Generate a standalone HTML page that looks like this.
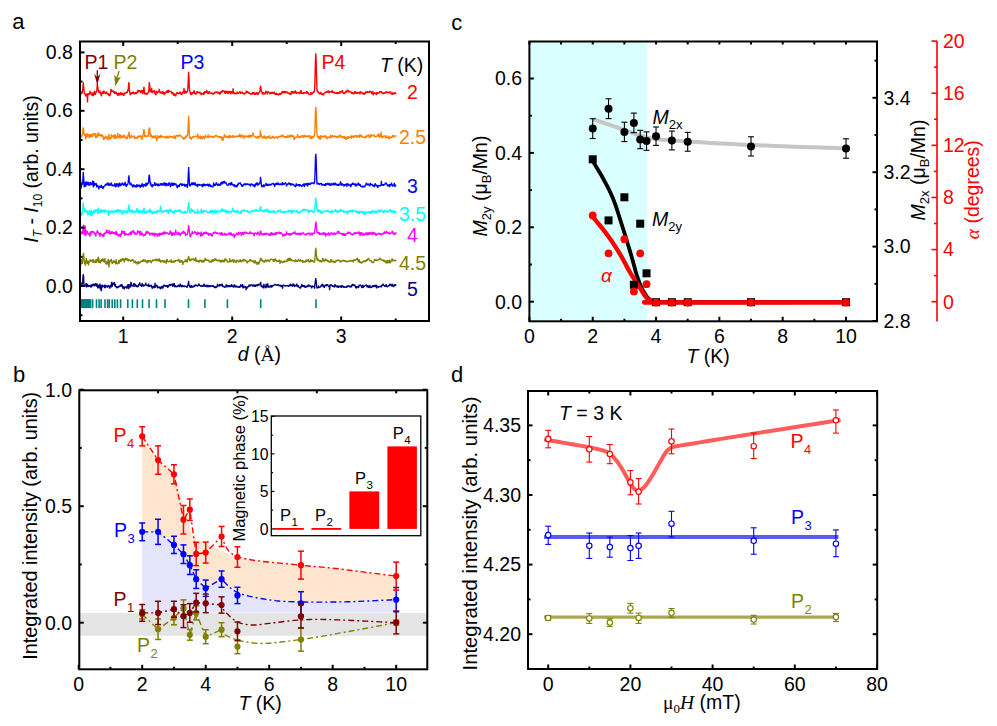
<!DOCTYPE html><html><head><meta charset="utf-8"><style>html,body{margin:0;padding:0;background:#fff;overflow:hidden;width:997px;height:726px;} svg{display:block;} text{font-family:"Liberation Sans", sans-serif;}</style></head><body>
<svg width="997" height="726" viewBox="0 0 997 726">
<rect x="0" y="0" width="997" height="726" fill="#fff"/>
<text x="12.3" y="29" font-size="22" text-anchor="start" fill="#000" >a</text>
<text x="13" y="382" font-size="22" text-anchor="start" fill="#000" >b</text>
<text x="451.3" y="30" font-size="22" text-anchor="start" fill="#000" >c</text>
<text x="451" y="381.5" font-size="22" text-anchor="start" fill="#000" >d</text>
<polyline points="79.6,92.4 79.9,92.0 80.2,92.6 80.5,93.7 80.8,93.3 81.1,94.2 81.4,93.1 81.7,91.3 82.0,93.1 82.3,92.8 82.7,89.5 83.0,86.1 83.3,82.4 83.3,82.2 83.6,85.6 83.9,89.7 84.2,91.5 84.5,94.5 84.8,93.0 85.1,94.7 85.4,94.2 85.7,96.3 86.0,94.6 86.3,96.5 86.6,93.7 86.9,94.0 87.2,94.6 87.5,102.5 87.8,93.6 88.1,93.6 88.5,93.4 88.8,95.2 89.1,93.6 89.4,94.1 89.7,93.7 90.0,90.9 90.3,93.2 90.6,92.7 90.9,92.0 91.2,94.6 91.5,94.4 91.8,93.7 92.1,94.0 92.4,96.1 92.7,93.8 93.0,92.4 93.3,96.3 93.6,92.8 93.9,94.2 94.2,94.4 94.6,90.8 94.9,92.6 95.2,94.9 95.5,93.1 95.8,92.7 96.1,93.1 96.4,91.5 96.7,91.6 97.0,88.3 97.3,83.4 97.5,86.1 97.6,85.7 97.9,87.3 98.2,90.4 98.5,90.5 98.8,92.6 99.1,92.1 99.4,91.2 99.7,90.5 100.0,91.0 100.4,94.1 100.7,93.5 101.0,92.7 101.3,96.3 101.6,94.1 101.9,93.5 102.2,91.5 102.5,92.0 102.8,93.1 103.1,93.4 103.4,93.3 103.7,90.7 104.0,93.1 104.3,92.6 104.6,91.5 104.9,92.2 105.2,92.8 105.5,94.2 105.8,92.9 106.2,93.7 106.5,91.5 106.8,92.3 107.1,93.7 107.4,93.2 107.7,94.7 108.0,93.4 108.3,94.4 108.6,93.3 108.9,95.8 109.2,93.8 109.5,95.8 109.8,95.9 110.1,94.2 110.4,94.4 110.7,91.8 111.0,88.8 111.3,91.9 111.6,91.5 112.0,90.7 112.3,90.7 112.6,91.4 112.9,91.2 113.2,90.9 113.5,91.2 113.8,93.0 114.1,91.5 114.4,92.3 114.7,93.9 115.0,92.5 115.3,93.8 115.6,91.5 115.9,92.4 116.2,92.5 116.5,93.7 116.8,93.1 117.1,95.1 117.4,94.1 117.8,93.3 118.1,96.0 118.4,92.6 118.7,95.3 119.0,92.8 119.3,94.9 119.6,93.4 119.9,94.3 120.2,95.3 120.5,92.5 120.8,92.5 121.1,94.1 121.4,94.2 121.7,94.2 122.0,95.1 122.3,92.9 122.6,94.6 122.9,94.5 123.2,94.9 123.5,94.6 123.9,95.9 124.2,92.5 124.5,93.8 124.8,92.4 125.1,93.5 125.4,93.8 125.7,93.1 126.0,93.1 126.3,92.1 126.6,92.1 126.9,92.0 127.2,92.7 127.5,92.3 127.8,89.5 128.1,91.0 128.4,88.0 128.7,82.6 128.9,82.7 129.0,82.3 129.3,90.1 129.7,92.2 130.0,93.8 130.3,95.1 130.6,92.5 130.9,93.7 131.2,93.1 131.5,94.1 131.8,92.6 132.1,93.1 132.4,92.3 132.7,93.4 133.0,93.7 133.3,91.7 133.6,94.1 133.9,92.9 134.2,93.2 134.5,93.8 134.8,93.8 135.1,92.2 135.5,93.4 135.8,93.8 136.1,93.7 136.4,92.1 136.7,92.3 137.0,92.0 137.3,92.4 137.6,93.2 137.9,90.6 138.2,90.1 138.5,91.7 138.8,91.3 139.1,90.9 139.4,90.8 139.7,90.4 140.0,92.0 140.3,90.4 140.6,93.1 140.9,91.1 141.3,91.7 141.6,91.4 141.9,90.3 142.2,90.3 142.5,93.4 142.8,94.1 143.1,91.2 143.4,92.0 143.7,88.6 143.9,87.7 144.0,86.7 144.3,91.5 144.6,94.4 144.9,92.4 145.2,93.1 145.5,93.9 145.8,93.6 146.1,93.8 146.4,94.5 146.7,92.9 147.0,93.6 147.4,94.5 147.7,92.6 148.0,92.9 148.3,92.1 148.6,92.8 148.9,88.9 149.2,83.6 149.4,82.2 149.5,83.3 149.8,86.4 150.1,91.1 150.4,91.6 150.7,91.5 151.0,89.5 151.3,92.6 151.6,87.9 151.9,91.4 152.2,91.5 152.5,92.8 152.8,92.3 153.2,90.7 153.5,91.7 153.8,91.3 154.1,91.3 154.4,90.1 154.7,91.7 155.0,94.3 155.3,93.3 155.6,94.0 155.9,95.3 156.2,92.5 156.5,90.8 156.8,91.9 157.1,93.0 157.4,93.0 157.7,91.4 158.0,92.3 158.3,92.1 158.6,92.0 159.0,91.6 159.3,88.8 159.6,91.3 159.9,91.9 160.2,93.4 160.5,92.3 160.8,93.4 161.1,91.7 161.4,93.7 161.7,93.0 162.0,92.7 162.3,94.0 162.6,91.0 162.9,91.5 163.2,93.5 163.5,92.6 163.8,92.7 164.1,95.2 164.4,92.6 164.8,92.9 165.1,93.2 165.4,93.6 165.7,92.7 166.0,92.5 166.3,91.4 166.6,92.6 166.9,92.2 167.2,90.0 167.5,91.9 167.8,91.8 168.1,93.0 168.4,90.2 168.7,90.2 169.0,90.8 169.3,91.4 169.6,91.9 169.9,91.5 170.2,91.5 170.5,91.6 170.9,92.1 171.2,91.2 171.5,92.3 171.8,93.1 172.1,93.7 172.4,94.3 172.7,92.1 173.0,93.4 173.3,94.1 173.6,95.0 173.9,95.8 174.2,94.8 174.5,93.4 174.8,94.6 175.1,94.6 175.4,94.3 175.7,96.3 176.0,95.1 176.3,93.4 176.7,93.6 177.0,92.0 177.3,93.5 177.6,92.2 177.9,93.3 178.2,93.7 178.5,93.9 178.8,92.9 179.1,93.2 179.4,94.1 179.7,92.6 180.0,91.5 180.3,93.8 180.6,93.6 180.9,94.0 181.2,93.0 181.5,94.8 181.8,94.5 182.1,92.0 182.5,93.7 182.8,92.5 183.1,91.5 183.4,93.0 183.7,92.6 184.0,88.1 184.3,92.4 184.6,92.8 184.9,93.6 185.2,91.8 185.5,90.6 185.8,91.8 186.1,93.2 186.4,92.5 186.7,92.4 187.0,91.6 187.3,91.9 187.6,90.7 187.9,86.7 188.3,78.7 188.6,71.8 188.6,72.7 188.9,75.8 189.2,85.5 189.5,90.0 189.8,90.7 190.1,92.3 190.4,93.2 190.7,94.5 191.0,92.6 191.3,94.7 191.6,94.6 191.9,92.4 192.2,92.4 192.5,93.2 192.8,93.9 193.1,92.7 193.4,93.0 193.7,91.9 194.1,90.5 194.4,91.9 194.7,93.3 195.0,93.8 195.3,93.0 195.6,93.6 195.9,94.6 196.2,93.1 196.5,93.9 196.8,91.6 197.1,91.7 197.4,91.3 197.7,92.8 198.0,92.1 198.3,92.4 198.6,92.6 198.9,92.3 199.2,93.0 199.5,93.0 199.8,91.7 200.2,93.1 200.5,93.1 200.8,92.3 201.1,95.0 201.4,94.1 201.7,93.3 202.0,93.5 202.3,94.3 202.6,93.4 202.9,93.9 203.2,94.7 203.5,93.9 203.8,92.4 204.1,92.2 204.4,94.5 204.7,91.2 205.0,92.0 205.3,92.0 205.6,92.7 206.0,92.1 206.3,92.8 206.6,89.8 206.9,92.5 207.2,91.2 207.5,93.3 207.8,93.0 208.1,94.2 208.4,93.3 208.7,91.8 209.0,93.2 209.3,91.2 209.6,92.3 209.9,93.2 210.2,93.2 210.5,93.4 210.8,92.8 211.1,93.1 211.4,93.1 211.8,92.7 212.1,93.6 212.4,94.1 212.7,93.2 213.0,93.0 213.3,94.7 213.6,93.3 213.9,93.6 214.2,93.8 214.5,92.5 214.8,93.5 215.1,91.7 215.4,93.1 215.7,91.7 216.0,92.2 216.3,92.6 216.6,91.5 216.9,92.5 217.2,92.1 217.6,92.7 217.9,93.4 218.2,92.5 218.5,92.4 218.8,91.9 219.1,94.2 219.4,93.4 219.7,94.7 220.0,92.3 220.3,93.4 220.6,93.6 220.9,92.0 221.2,90.8 221.5,92.4 221.8,92.4 222.1,91.8 222.4,91.8 222.7,90.2 223.0,91.3 223.3,91.1 223.7,90.5 224.0,91.7 224.3,91.2 224.6,92.4 224.9,92.9 225.2,93.9 225.5,90.6 225.8,92.5 226.1,92.7 226.4,92.6 226.7,92.4 227.0,92.6 227.3,90.9 227.6,93.5 227.9,93.7 228.2,93.0 228.5,93.5 228.8,91.6 229.1,91.0 229.5,92.9 229.8,92.8 230.1,92.2 230.4,91.0 230.7,94.4 231.0,91.8 231.3,93.1 231.6,91.1 231.9,93.0 232.2,92.1 232.5,93.2 232.8,93.5 233.1,88.3 233.4,91.7 233.7,92.6 234.0,93.2 234.3,94.2 234.6,92.7 234.9,93.0 235.3,93.3 235.6,93.5 235.9,94.3 236.2,93.2 236.5,93.3 236.8,92.7 237.1,91.8 237.4,93.6 237.7,93.5 238.0,93.0 238.3,93.6 238.6,93.2 238.9,92.4 239.2,92.9 239.5,91.4 239.8,92.3 240.1,91.8 240.4,92.1 240.7,93.9 241.1,92.6 241.4,92.6 241.7,93.0 242.0,92.0 242.3,92.1 242.6,93.5 242.9,92.6 243.2,93.8 243.5,93.5 243.8,93.5 244.1,94.7 244.4,93.3 244.7,93.2 245.0,93.0 245.3,93.0 245.6,93.1 245.9,93.3 246.2,92.6 246.5,90.7 246.8,92.1 247.2,92.7 247.5,91.5 247.8,91.7 248.1,91.9 248.4,92.6 248.7,92.0 249.0,94.0 249.3,92.4 249.6,93.3 249.9,93.4 250.2,93.3 250.5,94.3 250.8,94.2 251.1,93.2 251.4,93.6 251.7,93.8 252.0,94.6 252.3,93.0 252.6,92.6 253.0,92.4 253.3,92.8 253.6,94.2 253.9,92.1 254.2,92.9 254.5,95.0 254.8,92.9 255.1,94.4 255.4,94.4 255.7,94.3 256.0,92.7 256.3,93.9 256.6,93.8 256.9,92.5 257.2,92.5 257.5,94.0 257.8,94.3 258.1,94.4 258.4,93.7 258.8,92.8 259.1,92.6 259.4,92.8 259.7,91.4 260.0,91.1 260.3,87.5 260.5,86.2 260.6,85.6 260.9,87.8 261.2,90.1 261.5,91.9 261.8,91.3 262.1,92.9 262.4,94.0 262.7,94.1 263.0,92.2 263.3,92.8 263.6,92.8 263.9,94.3 264.2,93.1 264.6,93.4 264.9,93.2 265.2,94.3 265.5,92.3 265.8,91.1 266.1,91.3 266.4,92.7 266.7,92.2 267.0,91.5 267.3,94.3 267.6,92.5 267.9,91.9 268.2,91.9 268.5,91.6 268.8,92.1 269.1,93.1 269.4,93.1 269.7,93.0 270.0,94.0 270.4,93.5 270.7,92.7 271.0,91.9 271.3,93.3 271.6,93.6 271.9,93.3 272.2,92.1 272.5,93.3 272.8,91.8 273.1,93.7 273.4,92.9 273.7,92.6 274.0,92.1 274.3,92.3 274.6,94.5 274.9,94.0 275.2,92.9 275.5,93.8 275.8,94.7 276.1,92.8 276.5,93.4 276.8,93.9 277.1,94.7 277.4,93.7 277.7,94.7 278.0,93.5 278.3,95.1 278.6,95.0 278.9,93.9 279.2,94.5 279.5,93.5 279.8,93.6 280.1,94.9 280.4,93.7 280.7,94.3 281.0,93.0 281.3,94.1 281.6,93.8 281.9,92.2 282.3,91.2 282.6,91.5 282.9,92.9 283.2,92.6 283.5,91.2 283.8,92.1 284.1,92.9 284.4,91.4 284.7,91.3 285.0,92.2 285.3,92.9 285.6,92.9 285.9,91.2 286.2,92.7 286.5,92.2 286.8,91.9 287.1,91.8 287.4,93.2 287.7,92.5 288.1,93.8 288.4,93.5 288.7,94.0 289.0,92.6 289.3,93.3 289.6,94.2 289.9,93.5 290.2,93.8 290.5,93.0 290.8,95.0 291.1,93.9 291.4,91.2 291.7,91.4 292.0,92.2 292.3,93.2 292.6,92.2 292.9,91.3 293.2,93.2 293.5,93.3 293.9,91.3 294.2,92.2 294.5,92.3 294.8,93.2 295.1,90.9 295.4,90.8 295.7,91.9 296.0,91.8 296.3,93.9 296.6,91.9 296.9,92.7 297.2,92.2 297.5,92.5 297.8,92.7 298.1,93.5 298.4,92.2 298.7,93.1 299.0,92.6 299.3,92.9 299.6,92.8 300.0,94.3 300.3,90.9 300.6,91.5 300.9,91.2 301.2,90.2 301.5,92.1 301.8,93.8 302.1,93.0 302.4,93.6 302.7,93.3 303.0,92.9 303.3,94.1 303.6,92.2 303.9,94.2 304.2,92.6 304.5,92.6 304.8,92.9 305.1,92.5 305.4,92.8 305.8,93.0 306.1,93.5 306.4,92.4 306.7,91.3 307.0,91.3 307.3,92.0 307.6,92.3 307.9,93.8 308.2,92.5 308.5,94.0 308.8,94.2 309.1,94.2 309.4,94.2 309.7,94.6 310.0,94.4 310.3,95.0 310.6,94.5 310.9,92.2 311.2,94.3 311.6,93.9 311.9,93.2 312.2,92.8 312.5,94.1 312.8,93.2 313.1,92.0 313.4,92.4 313.7,92.5 314.0,90.8 314.3,92.1 314.6,89.0 314.9,82.1 315.2,69.2 315.5,59.5 315.8,53.7 315.8,53.2 316.1,59.4 316.4,71.5 316.7,82.4 317.0,90.2 317.4,92.4 317.7,91.1 318.0,92.0 318.3,92.3 318.6,91.7 318.9,92.9 319.2,94.1 319.5,93.0 319.8,94.3 320.1,93.6 320.4,93.0 320.7,92.9 321.0,92.0 321.3,93.9 321.6,94.7 321.9,94.0 322.2,94.3 322.5,94.8 322.8,93.5 323.1,94.4 323.5,95.3 323.8,93.0 324.1,93.4 324.4,92.8 324.7,92.8 325.0,92.2 325.3,93.0 325.6,91.8 325.9,92.3 326.2,91.8 326.5,91.6 326.8,92.9 327.1,91.6 327.4,91.5 327.7,91.2 328.0,92.6 328.3,90.5 328.6,91.6 328.9,92.3 329.3,93.0 329.6,91.5 329.9,91.6 330.2,91.9 330.5,91.5 330.8,92.3 331.1,91.1 331.4,92.3 331.7,92.1 332.0,91.4 332.3,90.2 332.6,92.9 332.9,92.3 333.2,92.8 333.5,91.6 333.8,93.3 334.1,92.6 334.4,91.9 334.7,93.1 335.1,93.0 335.4,92.3 335.7,93.6 336.0,93.1 336.3,92.7 336.6,92.7 336.9,93.0 337.2,94.0 337.5,93.1 337.8,92.5 338.1,92.7 338.4,93.1 338.7,93.6 339.0,92.2 339.3,93.1 339.6,93.4 339.9,93.1 340.2,90.9 340.5,92.0 340.9,91.3 341.2,92.4 341.5,91.0 341.8,92.5 342.1,92.2 342.4,90.2 342.7,92.1 343.0,93.1 343.3,92.9 343.6,92.6 343.9,94.1 344.2,93.4 344.5,94.0 344.8,92.8 345.1,92.5 345.4,92.4 345.7,91.0 346.0,91.8 346.3,91.3 346.7,92.6 347.0,91.0 347.3,89.6 347.6,90.7 347.9,90.6 348.2,91.2 348.5,90.0 348.8,92.5 349.1,91.5 349.4,91.5 349.7,91.3 350.0,92.1 350.3,91.3 350.6,92.0 350.9,92.0 351.2,92.5 351.5,93.7 351.8,92.6 352.1,92.1 352.4,93.5 352.8,93.3 353.1,92.7 353.4,94.0 353.7,92.9 354.0,94.4 354.3,92.5 354.6,91.6 354.9,91.5 355.2,93.5 355.5,91.3 355.8,93.3 356.1,93.1 356.4,91.8 356.7,94.0 357.0,92.1 357.3,93.4 357.6,92.1 357.9,93.0 358.2,93.5 358.6,92.9 358.9,92.2 359.2,92.5 359.5,92.1 359.8,93.2 360.1,94.2 360.4,91.5 360.7,91.9 361.0,92.5 361.3,92.4 361.6,91.8 361.9,93.3 362.2,93.5 362.5,93.5 362.8,92.8 363.1,94.5 363.4,92.5 363.7,94.2 364.0,94.7 364.4,92.6 364.7,93.5 365.0,94.3 365.3,93.6 365.6,92.0 365.9,91.7 366.2,92.9 366.5,92.0 366.8,91.8 367.1,92.7 367.4,91.6 367.7,91.7 368.0,92.4 368.3,92.3 368.6,92.1 368.9,91.9 369.2,92.7 369.5,92.2 369.8,90.8 370.2,91.9 370.5,91.6 370.8,91.4 371.1,92.5 371.4,91.5 371.7,94.0 372.0,92.6 372.3,93.3 372.6,91.7 372.9,91.7 373.2,95.3 373.5,94.6 373.8,93.2 374.1,93.1 374.4,93.0 374.7,93.7 375.0,93.2 375.3,92.8 375.6,93.5 375.9,92.6 376.3,95.2 376.6,92.8 376.9,93.9 377.2,92.1 377.5,93.1 377.8,93.7 378.1,92.7 378.4,93.1 378.7,93.0 379.0,93.4 379.3,92.2 379.6,91.9 379.9,91.3 380.2,92.4 380.5,91.9 380.8,92.6 381.1,92.1 381.4,91.6 381.7,91.6 382.1,93.0 382.4,93.1 382.7,93.7 383.0,93.3 383.3,94.0 383.6,92.5 383.9,93.4 384.2,92.4 384.5,93.7 384.8,93.0 385.1,92.9 385.4,93.5 385.7,91.5 386.0,92.8 386.3,91.3 386.6,91.8 386.9,93.0 387.2,92.5 387.5,92.2 387.9,92.4 388.2,92.0 388.5,92.3 388.8,93.0 389.1,91.8 389.4,93.5 389.7,91.6 390.0,92.4 390.3,92.6 390.6,92.1 390.9,92.0 391.2,93.4 391.5,93.9 391.8,93.7 392.1,94.7 392.4,94.2 392.7,92.3 393.0,94.3 393.3,92.7 393.7,94.4 394.0,93.3 394.3,94.3 394.6,93.7 394.9,93.2 395.2,92.1 395.5,93.3 395.8,93.1 396.1,94.0" stroke="#FF0000" stroke-width="1.35" fill="none" stroke-linejoin="bevel"/>
<polyline points="79.6,137.6 79.9,134.2 80.2,138.3 80.5,134.9 80.8,135.6 81.1,136.9 81.4,137.7 81.7,136.5 82.0,135.4 82.3,134.3 82.7,133.0 83.0,128.1 83.3,127.6 83.3,127.8 83.6,128.5 83.9,135.1 84.2,133.9 84.5,134.9 84.8,135.7 85.1,133.7 85.4,134.3 85.7,139.4 86.0,135.7 86.3,138.3 86.6,135.3 86.9,133.0 87.2,137.2 87.5,135.8 87.8,135.8 88.1,134.9 88.5,134.9 88.8,134.3 89.1,138.1 89.4,134.8 89.7,137.9 90.0,136.1 90.3,134.2 90.6,134.7 90.9,136.7 91.2,136.8 91.5,136.6 91.8,136.0 92.1,134.0 92.4,137.1 92.7,134.6 93.0,133.3 93.3,133.7 93.6,133.9 93.9,133.2 94.2,135.3 94.6,134.7 94.9,135.1 95.2,133.5 95.5,138.0 95.8,133.3 96.1,135.4 96.4,135.3 96.7,136.8 97.0,137.8 97.3,135.7 97.6,135.9 97.9,133.4 98.2,136.2 98.5,132.3 98.8,133.5 99.1,134.5 99.4,135.7 99.7,135.4 100.0,135.7 100.4,135.0 100.7,134.4 101.0,135.0 101.3,136.7 101.6,136.0 101.9,136.9 102.2,135.7 102.5,134.5 102.8,136.3 103.1,137.4 103.4,139.1 103.7,139.6 104.0,139.7 104.3,136.9 104.6,138.8 104.9,138.0 105.2,138.5 105.5,137.4 105.8,135.6 106.2,137.5 106.5,137.4 106.8,138.3 107.1,136.6 107.4,138.7 107.7,139.6 108.0,139.7 108.3,139.2 108.6,136.7 108.9,134.1 109.2,138.8 109.5,137.2 109.8,138.3 110.1,139.3 110.4,137.8 110.7,137.7 111.0,137.8 111.3,134.3 111.6,138.5 112.0,135.8 112.3,136.0 112.6,136.9 112.9,136.1 113.2,135.1 113.5,136.1 113.8,136.1 114.1,136.0 114.4,139.1 114.7,135.5 115.0,134.1 115.3,136.1 115.6,136.4 115.9,138.7 116.2,137.0 116.5,137.5 116.8,137.5 117.1,135.5 117.4,137.4 117.8,133.0 118.1,138.2 118.4,136.5 118.7,136.4 119.0,137.4 119.3,136.9 119.6,134.3 119.9,137.8 120.2,137.9 120.5,137.6 120.8,135.5 121.1,134.8 121.4,137.0 121.7,138.2 122.0,137.2 122.3,135.7 122.6,138.0 122.9,135.7 123.2,135.9 123.5,137.3 123.9,136.4 124.2,135.8 124.5,134.8 124.8,138.0 125.1,135.5 125.4,137.8 125.7,138.4 126.0,137.5 126.3,137.8 126.6,138.7 126.9,138.8 127.2,138.7 127.5,136.4 127.8,135.9 128.1,136.8 128.4,134.0 128.7,133.3 128.9,131.8 129.0,132.4 129.3,134.8 129.7,137.9 130.0,138.1 130.3,137.0 130.6,137.9 130.9,138.5 131.2,134.5 131.5,137.2 131.8,135.7 132.1,136.7 132.4,137.1 132.7,137.1 133.0,136.8 133.3,137.3 133.6,137.0 133.9,135.8 134.2,136.1 134.5,135.5 134.8,139.1 135.1,137.6 135.5,137.8 135.8,137.4 136.1,138.0 136.4,137.9 136.7,137.2 137.0,137.5 137.3,138.9 137.6,136.3 137.9,136.2 138.2,137.6 138.5,136.0 138.8,137.2 139.1,135.4 139.4,136.5 139.7,137.0 140.0,136.9 140.3,136.9 140.6,136.2 140.9,135.7 141.3,136.0 141.6,136.9 141.9,139.9 142.2,135.9 142.5,138.7 142.8,136.1 143.1,134.6 143.4,133.5 143.7,130.5 143.9,129.8 144.0,129.1 144.3,131.8 144.6,135.5 144.9,136.6 145.2,137.2 145.5,135.2 145.8,136.5 146.1,135.3 146.4,136.7 146.7,136.1 147.0,136.0 147.4,135.7 147.7,135.5 148.0,136.2 148.3,136.7 148.6,135.5 148.9,130.1 149.2,128.1 149.4,127.8 149.5,127.6 149.8,129.9 150.1,133.3 150.4,135.5 150.7,136.9 151.0,134.2 151.3,135.9 151.6,135.7 151.9,136.5 152.2,138.0 152.5,137.8 152.8,136.1 153.2,136.1 153.5,136.5 153.8,137.3 154.1,137.9 154.4,136.8 154.7,138.3 155.0,136.0 155.3,136.2 155.6,135.0 155.9,137.1 156.2,138.2 156.5,138.7 156.8,141.2 157.1,138.6 157.4,138.8 157.7,135.2 158.0,137.6 158.3,137.4 158.6,137.8 159.0,137.0 159.3,136.0 159.6,138.1 159.9,137.8 160.2,138.0 160.5,135.1 160.8,135.3 161.1,135.5 161.4,137.5 161.7,136.0 162.0,136.6 162.3,136.7 162.6,136.9 162.9,136.3 163.2,136.7 163.5,136.1 163.8,137.0 164.1,137.4 164.4,137.5 164.8,137.8 165.1,136.4 165.4,137.4 165.7,136.8 166.0,137.6 166.3,138.4 166.6,135.7 166.9,138.0 167.2,136.4 167.5,136.4 167.8,138.5 168.1,137.4 168.4,136.9 168.7,137.3 169.0,138.1 169.3,135.8 169.6,136.1 169.9,136.2 170.2,137.4 170.5,136.3 170.9,136.9 171.2,136.8 171.5,136.2 171.8,137.0 172.1,137.4 172.4,138.0 172.7,136.9 173.0,137.1 173.3,137.9 173.6,138.1 173.9,136.7 174.2,135.4 174.5,137.6 174.8,136.6 175.1,136.6 175.4,139.1 175.7,136.6 176.0,137.0 176.3,135.0 176.7,136.0 177.0,136.3 177.3,135.6 177.6,135.3 177.9,135.7 178.2,135.4 178.5,136.7 178.8,136.0 179.1,135.5 179.4,134.5 179.7,135.7 180.0,136.0 180.3,135.8 180.6,136.0 180.9,135.6 181.2,135.9 181.5,137.1 181.8,137.0 182.1,137.2 182.5,137.2 182.8,137.1 183.1,138.4 183.4,139.7 183.7,138.5 184.0,139.3 184.3,137.6 184.6,137.6 184.9,139.1 185.2,137.2 185.5,136.8 185.8,137.3 186.1,135.7 186.4,135.3 186.7,137.6 187.0,135.8 187.3,136.1 187.6,135.1 187.9,130.9 188.3,123.3 188.6,116.7 188.6,115.8 188.9,121.1 189.2,130.9 189.5,136.2 189.8,138.5 190.1,138.2 190.4,136.9 190.7,137.5 191.0,137.5 191.3,139.7 191.6,138.9 191.9,138.7 192.2,137.4 192.5,137.9 192.8,136.4 193.1,136.8 193.4,137.1 193.7,137.2 194.1,136.3 194.4,137.5 194.7,135.9 195.0,136.3 195.3,136.1 195.6,136.4 195.9,136.6 196.2,136.5 196.5,136.4 196.8,136.8 197.1,136.0 197.4,136.8 197.7,133.5 198.0,137.0 198.3,138.8 198.6,136.3 198.9,137.6 199.2,138.2 199.5,137.1 199.8,137.6 200.2,135.7 200.5,137.2 200.8,139.1 201.1,137.2 201.4,137.8 201.7,136.0 202.0,138.4 202.3,139.3 202.6,137.3 202.9,138.0 203.2,138.2 203.5,136.4 203.8,137.0 204.1,136.2 204.4,139.3 204.7,136.4 205.0,137.8 205.3,134.9 205.6,136.7 206.0,137.2 206.3,136.4 206.6,136.8 206.9,137.4 207.2,136.3 207.5,137.0 207.8,137.7 208.1,134.3 208.4,136.7 208.7,136.9 209.0,136.2 209.3,137.7 209.6,137.4 209.9,136.4 210.2,136.4 210.5,136.3 210.8,135.6 211.1,136.9 211.4,136.6 211.8,136.6 212.1,137.5 212.4,136.5 212.7,137.8 213.0,136.2 213.3,136.6 213.6,137.0 213.9,137.9 214.2,136.6 214.5,137.2 214.8,135.6 215.1,135.8 215.4,136.5 215.7,135.6 216.0,135.6 216.3,136.4 216.6,134.8 216.9,136.3 217.2,136.5 217.6,136.2 217.9,137.0 218.2,136.7 218.5,137.4 218.8,136.1 219.1,136.1 219.4,137.5 219.7,136.3 220.0,137.8 220.3,137.5 220.6,137.3 220.9,137.7 221.2,136.2 221.5,137.8 221.8,139.4 222.1,137.1 222.4,141.0 222.7,138.6 223.0,140.7 223.3,137.2 223.7,137.3 224.0,137.5 224.3,134.2 224.6,135.9 224.9,136.9 225.2,136.5 225.5,137.7 225.8,137.1 226.1,135.6 226.4,136.1 226.7,137.7 227.0,136.4 227.3,136.7 227.6,137.1 227.9,136.3 228.2,137.3 228.5,138.4 228.8,137.9 229.1,135.1 229.5,137.8 229.8,136.2 230.1,135.7 230.4,135.6 230.7,137.5 231.0,136.7 231.3,136.4 231.6,135.9 231.9,137.0 232.2,137.8 232.5,136.0 232.8,135.9 233.1,136.5 233.4,135.1 233.7,137.0 234.0,137.1 234.3,136.2 234.6,137.7 234.9,136.5 235.3,136.9 235.6,137.4 235.9,135.8 236.2,136.1 236.5,136.3 236.8,135.9 237.1,137.0 237.4,135.8 237.7,136.0 238.0,135.8 238.3,135.4 238.6,136.9 238.9,136.7 239.2,135.3 239.5,135.4 239.8,133.9 240.1,135.5 240.4,136.8 240.7,135.8 241.1,137.6 241.4,137.7 241.7,134.5 242.0,136.0 242.3,136.0 242.6,136.5 242.9,135.5 243.2,137.0 243.5,136.2 243.8,138.4 244.1,138.2 244.4,135.7 244.7,135.4 245.0,136.3 245.3,136.3 245.6,136.8 245.9,137.5 246.2,135.8 246.5,136.7 246.8,136.6 247.2,136.4 247.5,135.7 247.8,136.6 248.1,136.3 248.4,137.8 248.7,136.2 249.0,135.0 249.3,137.1 249.6,136.6 249.9,135.4 250.2,135.1 250.5,135.6 250.8,137.7 251.1,135.7 251.4,136.6 251.7,136.3 252.0,134.5 252.3,135.4 252.6,134.5 253.0,132.5 253.3,134.8 253.6,135.0 253.9,136.6 254.2,136.1 254.5,136.5 254.8,136.1 255.1,137.1 255.4,136.8 255.7,137.1 256.0,137.6 256.3,138.3 256.6,138.5 256.9,136.8 257.2,137.3 257.5,136.3 257.8,136.5 258.1,137.9 258.4,137.1 258.8,138.5 259.1,135.8 259.4,136.4 259.7,137.4 260.0,136.4 260.3,132.1 260.5,130.3 260.6,132.9 260.9,133.7 261.2,135.5 261.5,137.0 261.8,137.1 262.1,136.4 262.4,138.4 262.7,137.0 263.0,137.9 263.3,137.9 263.6,136.5 263.9,137.7 264.2,135.4 264.6,138.4 264.9,136.0 265.2,138.8 265.5,137.5 265.8,138.6 266.1,138.7 266.4,137.2 266.7,136.5 267.0,138.0 267.3,136.4 267.6,138.1 267.9,137.2 268.2,136.6 268.5,136.6 268.8,138.3 269.1,135.6 269.4,136.4 269.7,137.0 270.0,137.6 270.4,138.3 270.7,138.7 271.0,137.1 271.3,137.7 271.6,138.1 271.9,137.6 272.2,135.7 272.5,137.5 272.8,137.6 273.1,136.2 273.4,136.9 273.7,137.6 274.0,138.1 274.3,138.4 274.6,138.3 274.9,137.6 275.2,137.7 275.5,137.1 275.8,136.9 276.1,136.8 276.5,136.7 276.8,137.7 277.1,138.6 277.4,137.4 277.7,137.5 278.0,137.1 278.3,136.2 278.6,137.2 278.9,137.3 279.2,136.3 279.5,136.1 279.8,137.0 280.1,136.2 280.4,136.6 280.7,137.1 281.0,136.3 281.3,134.9 281.6,137.2 281.9,136.0 282.3,135.5 282.6,134.8 282.9,137.0 283.2,135.1 283.5,136.6 283.8,136.8 284.1,137.0 284.4,136.6 284.7,136.9 285.0,137.5 285.3,136.2 285.6,137.6 285.9,138.0 286.2,136.8 286.5,136.8 286.8,136.0 287.1,137.9 287.4,136.3 287.7,136.3 288.1,135.0 288.4,137.2 288.7,135.8 289.0,136.3 289.3,137.8 289.6,137.3 289.9,135.4 290.2,136.4 290.5,136.5 290.8,135.0 291.1,134.8 291.4,135.3 291.7,136.8 292.0,136.3 292.3,135.5 292.6,136.7 292.9,136.6 293.2,135.7 293.5,135.5 293.9,138.4 294.2,140.0 294.5,139.0 294.8,138.7 295.1,137.8 295.4,137.0 295.7,137.5 296.0,137.9 296.3,137.1 296.6,137.8 296.9,136.7 297.2,136.9 297.5,134.2 297.8,135.6 298.1,137.1 298.4,137.1 298.7,136.8 299.0,138.0 299.3,137.3 299.6,137.0 300.0,135.7 300.3,136.6 300.6,137.0 300.9,137.6 301.2,137.1 301.5,136.2 301.8,136.3 302.1,135.1 302.4,136.5 302.7,135.2 303.0,136.0 303.3,136.1 303.6,137.9 303.9,137.3 304.2,135.7 304.5,135.2 304.8,136.3 305.1,135.8 305.4,136.3 305.8,136.8 306.1,136.7 306.4,135.4 306.7,136.1 307.0,136.7 307.3,136.7 307.6,136.1 307.9,136.6 308.2,137.3 308.5,135.3 308.8,136.0 309.1,136.6 309.4,135.2 309.7,136.0 310.0,136.8 310.3,139.0 310.6,137.8 310.9,137.6 311.2,138.9 311.6,135.9 311.9,138.6 312.2,136.1 312.5,137.9 312.8,138.3 313.1,137.7 313.4,137.3 313.7,137.0 314.0,135.5 314.3,136.5 314.6,133.8 314.9,130.1 315.2,119.7 315.5,110.4 315.8,106.8 315.8,107.4 316.1,111.9 316.4,121.5 316.7,129.8 317.0,133.8 317.4,136.4 317.7,137.0 318.0,136.0 318.3,138.3 318.6,137.6 318.9,135.8 319.2,139.4 319.5,137.7 319.8,136.6 320.1,138.2 320.4,135.2 320.7,139.6 321.0,135.7 321.3,135.8 321.6,136.1 321.9,136.7 322.2,136.1 322.5,137.4 322.8,135.9 323.1,137.5 323.5,136.6 323.8,135.8 324.1,137.1 324.4,136.5 324.7,136.2 325.0,137.2 325.3,135.2 325.6,136.5 325.9,137.7 326.2,136.4 326.5,137.3 326.8,139.5 327.1,137.3 327.4,137.7 327.7,136.6 328.0,138.0 328.3,136.9 328.6,137.6 328.9,136.9 329.3,137.6 329.6,137.8 329.9,138.1 330.2,136.4 330.5,135.7 330.8,134.8 331.1,138.2 331.4,136.3 331.7,136.8 332.0,136.2 332.3,136.7 332.6,135.4 332.9,135.7 333.2,136.9 333.5,137.3 333.8,135.9 334.1,136.3 334.4,136.7 334.7,135.5 335.1,136.6 335.4,136.4 335.7,136.9 336.0,137.8 336.3,136.1 336.6,137.7 336.9,137.0 337.2,137.0 337.5,135.6 337.8,136.8 338.1,136.5 338.4,137.9 338.7,136.8 339.0,137.7 339.3,136.0 339.6,135.8 339.9,136.0 340.2,134.6 340.5,136.3 340.9,136.3 341.2,137.1 341.5,137.2 341.8,136.2 342.1,136.0 342.4,137.9 342.7,136.2 343.0,136.8 343.3,136.6 343.6,137.2 343.9,138.6 344.2,138.5 344.5,136.0 344.8,137.0 345.1,138.7 345.4,137.6 345.7,138.2 346.0,139.4 346.3,139.6 346.7,138.9 347.0,136.9 347.3,137.0 347.6,137.1 347.9,136.7 348.2,136.6 348.5,138.9 348.8,137.1 349.1,137.2 349.4,137.5 349.7,137.1 350.0,136.7 350.3,136.9 350.6,138.0 350.9,137.3 351.2,135.4 351.5,137.9 351.8,138.1 352.1,136.4 352.4,136.2 352.8,136.4 353.1,137.3 353.4,135.7 353.7,137.3 354.0,137.5 354.3,137.4 354.6,137.0 354.9,135.9 355.2,135.6 355.5,136.1 355.8,135.3 356.1,136.0 356.4,135.0 356.7,137.3 357.0,137.4 357.3,135.5 357.6,137.1 357.9,135.9 358.2,135.7 358.6,136.7 358.9,136.6 359.2,134.8 359.5,137.8 359.8,135.2 360.1,134.4 360.4,136.1 360.7,136.3 361.0,135.5 361.3,134.9 361.6,137.2 361.9,136.1 362.2,136.3 362.5,135.9 362.8,136.7 363.1,136.8 363.4,137.8 363.7,137.3 364.0,137.7 364.4,137.8 364.7,137.3 365.0,136.9 365.3,137.8 365.6,135.7 365.9,136.7 366.2,138.0 366.5,135.8 366.8,136.9 367.1,135.7 367.4,135.6 367.7,135.4 368.0,135.1 368.3,135.6 368.6,135.7 368.9,134.5 369.2,138.1 369.5,136.3 369.8,135.7 370.2,137.0 370.5,137.0 370.8,134.1 371.1,136.4 371.4,134.7 371.7,135.9 372.0,136.4 372.3,136.0 372.6,135.6 372.9,135.0 373.2,135.4 373.5,135.5 373.8,135.2 374.1,134.7 374.4,135.4 374.7,137.1 375.0,136.7 375.3,136.2 375.6,136.9 375.9,136.4 376.3,136.8 376.6,136.4 376.9,136.1 377.2,135.7 377.5,136.7 377.8,134.6 378.1,136.3 378.4,133.4 378.7,134.9 379.0,135.1 379.3,135.8 379.6,138.0 379.9,135.9 380.2,135.7 380.5,134.0 380.8,137.0 381.1,131.8 381.4,135.9 381.7,135.6 382.1,138.3 382.4,136.6 382.7,136.9 383.0,136.4 383.3,136.5 383.6,137.7 383.9,135.9 384.2,135.9 384.5,136.0 384.8,135.7 385.1,136.2 385.4,136.7 385.7,137.7 386.0,137.7 386.3,135.5 386.6,136.3 386.9,137.2 387.2,137.8 387.5,137.6 387.9,137.8 388.2,138.1 388.5,138.4 388.8,135.7 389.1,137.4 389.4,138.4 389.7,139.1 390.0,138.5 390.3,137.4 390.6,137.0 390.9,137.3 391.2,136.9 391.5,137.3 391.8,138.0 392.1,135.9 392.4,136.5 392.7,134.9 393.0,137.1 393.3,136.4 393.7,135.7 394.0,136.0 394.3,136.9 394.6,137.1 394.9,136.3 395.2,136.0 395.5,136.3 395.8,135.6 396.1,135.8" stroke="#FF8000" stroke-width="1.35" fill="none" stroke-linejoin="bevel"/>
<polyline points="79.6,185.7 79.9,184.5 80.2,185.9 80.5,179.2 80.8,185.3 81.1,188.7 81.4,185.3 81.7,182.6 82.0,185.2 82.3,184.0 82.7,182.7 83.0,177.9 83.3,172.0 83.3,174.7 83.6,176.5 83.9,182.2 84.2,187.3 84.5,183.9 84.8,186.2 85.1,186.6 85.4,181.8 85.7,182.5 86.0,186.4 86.3,181.8 86.6,182.4 86.9,184.0 87.2,181.7 87.5,185.0 87.8,184.3 88.1,185.0 88.5,184.5 88.8,181.8 89.1,185.7 89.4,185.1 89.7,185.3 90.0,183.7 90.3,184.0 90.6,182.0 90.9,183.8 91.2,185.2 91.5,184.0 91.8,183.4 92.1,184.8 92.4,182.6 92.7,180.7 93.0,183.7 93.3,187.4 93.6,181.0 93.9,184.4 94.2,185.1 94.6,186.0 94.9,183.4 95.2,183.3 95.5,184.4 95.8,184.3 96.1,183.3 96.4,183.9 96.7,187.4 97.0,185.7 97.3,185.5 97.6,185.0 97.9,186.5 98.2,186.7 98.5,187.2 98.8,189.5 99.1,186.3 99.4,186.5 99.7,185.6 100.0,187.5 100.4,186.3 100.7,187.4 101.0,187.5 101.3,184.9 101.6,186.1 101.9,185.8 102.2,188.0 102.5,186.6 102.8,189.0 103.1,187.9 103.4,187.9 103.7,186.1 104.0,186.5 104.3,186.6 104.6,185.4 104.9,186.0 105.2,185.3 105.5,184.3 105.8,184.6 106.2,184.5 106.5,184.1 106.8,185.3 107.1,183.7 107.4,183.1 107.7,183.7 108.0,182.5 108.3,185.7 108.6,184.1 108.9,184.9 109.2,183.4 109.5,185.4 109.8,185.4 110.1,184.5 110.4,185.3 110.7,184.8 111.0,182.7 111.3,183.2 111.6,184.5 112.0,185.1 112.3,186.4 112.6,184.5 112.9,185.8 113.2,185.5 113.5,186.1 113.8,185.3 114.1,185.6 114.4,184.7 114.7,183.3 115.0,184.4 115.3,187.2 115.6,186.2 115.9,187.1 116.2,185.9 116.5,183.6 116.8,183.7 117.1,184.4 117.4,183.4 117.8,185.0 118.1,186.4 118.4,186.7 118.7,186.4 119.0,183.3 119.3,186.3 119.6,183.1 119.9,183.0 120.2,185.0 120.5,185.1 120.8,185.9 121.1,185.2 121.4,184.4 121.7,184.7 122.0,183.1 122.3,183.0 122.6,183.8 122.9,184.0 123.2,185.0 123.5,184.6 123.9,185.7 124.2,183.4 124.5,183.4 124.8,185.0 125.1,181.7 125.4,185.0 125.7,185.4 126.0,183.8 126.3,186.9 126.6,185.2 126.9,185.6 127.2,184.8 127.5,184.3 127.8,184.1 128.1,182.9 128.4,180.3 128.7,176.9 128.9,177.7 129.0,175.2 129.3,181.8 129.7,182.5 130.0,184.2 130.3,184.9 130.6,182.8 130.9,183.8 131.2,185.0 131.5,184.2 131.8,184.3 132.1,186.5 132.4,185.4 132.7,187.3 133.0,185.7 133.3,186.2 133.6,184.4 133.9,185.5 134.2,186.8 134.5,186.3 134.8,187.1 135.1,186.1 135.5,185.3 135.8,185.7 136.1,187.7 136.4,185.5 136.7,184.5 137.0,185.3 137.3,184.7 137.6,187.0 137.9,185.5 138.2,186.3 138.5,185.7 138.8,185.2 139.1,184.6 139.4,186.1 139.7,185.5 140.0,187.0 140.3,187.6 140.6,185.1 140.9,185.4 141.3,186.7 141.6,185.9 141.9,184.8 142.2,183.3 142.5,184.2 142.8,184.6 143.1,187.4 143.4,185.3 143.7,185.0 144.0,184.9 144.3,185.2 144.6,186.0 144.9,184.1 145.2,184.3 145.5,186.3 145.8,186.1 146.1,182.9 146.4,185.8 146.7,183.5 147.0,182.8 147.4,185.1 147.7,183.5 148.0,184.1 148.3,182.8 148.6,181.9 148.9,177.4 149.2,174.7 149.4,176.1 149.5,176.1 149.8,178.8 150.1,182.7 150.4,184.5 150.7,182.5 151.0,185.6 151.3,185.6 151.6,184.5 151.9,186.2 152.2,187.4 152.5,184.2 152.8,186.3 153.2,185.4 153.5,184.7 153.8,185.4 154.1,185.0 154.4,184.3 154.7,182.2 155.0,183.9 155.3,184.3 155.6,186.0 155.9,184.0 156.2,185.3 156.5,183.4 156.8,184.3 157.1,184.5 157.4,185.0 157.7,185.6 158.0,185.7 158.3,183.7 158.6,185.8 159.0,185.6 159.3,184.7 159.6,185.8 159.9,184.6 160.2,183.5 160.5,184.5 160.8,184.4 161.1,184.1 161.4,183.0 161.7,185.7 162.0,183.5 162.3,184.6 162.6,185.1 162.9,184.0 163.2,184.2 163.5,183.4 163.8,183.1 164.1,186.0 164.4,184.1 164.8,182.5 165.1,183.7 165.4,183.2 165.7,184.4 166.0,186.1 166.3,185.6 166.6,183.8 166.9,183.2 167.2,184.8 167.5,184.4 167.8,184.3 168.1,185.9 168.4,184.6 168.7,183.3 169.0,182.6 169.3,184.8 169.6,182.5 169.9,184.8 170.2,185.2 170.5,187.2 170.9,184.0 171.2,185.2 171.5,182.7 171.8,184.3 172.1,184.4 172.4,186.0 172.7,182.7 173.0,184.7 173.3,184.5 173.6,185.9 173.9,183.6 174.2,183.1 174.5,184.8 174.8,184.2 175.1,183.9 175.4,183.6 175.7,184.9 176.0,183.5 176.3,185.8 176.7,186.2 177.0,185.8 177.3,188.2 177.6,186.3 177.9,184.9 178.2,185.6 178.5,186.4 178.8,185.0 179.1,187.2 179.4,185.5 179.7,184.6 180.0,184.2 180.3,185.1 180.6,184.0 180.9,183.3 181.2,184.8 181.5,183.5 181.8,185.4 182.1,185.9 182.5,183.9 182.8,184.5 183.1,184.4 183.4,185.1 183.7,185.2 184.0,184.6 184.3,183.8 184.6,185.0 184.9,186.8 185.2,184.4 185.5,185.4 185.8,185.5 186.1,185.8 186.4,184.0 186.7,186.2 187.0,185.7 187.3,187.8 187.6,185.6 187.9,182.4 188.3,174.2 188.6,167.9 188.6,167.0 188.9,172.8 189.2,178.3 189.5,185.4 189.8,185.8 190.1,185.2 190.4,186.2 190.7,184.6 191.0,184.1 191.3,184.9 191.6,182.7 191.9,184.3 192.2,182.3 192.5,184.5 192.8,185.0 193.1,184.0 193.4,183.9 193.7,183.4 194.1,182.3 194.4,185.2 194.7,184.4 195.0,185.2 195.3,182.6 195.6,184.6 195.9,185.1 196.2,185.7 196.5,184.4 196.8,185.5 197.1,184.9 197.4,187.1 197.7,184.0 198.0,184.6 198.3,184.5 198.6,184.1 198.9,185.5 199.2,185.3 199.5,184.5 199.8,184.8 200.2,185.1 200.5,184.8 200.8,185.3 201.1,184.5 201.4,184.8 201.7,185.8 202.0,184.4 202.3,187.1 202.6,185.5 202.9,183.8 203.2,185.1 203.5,186.4 203.8,183.5 204.1,184.5 204.4,185.8 204.7,184.1 205.0,185.7 205.3,185.7 205.6,184.3 206.0,184.6 206.3,185.3 206.6,184.7 206.9,185.4 207.2,184.2 207.5,184.6 207.8,183.8 208.1,185.1 208.4,186.2 208.7,186.1 209.0,185.5 209.3,184.0 209.6,184.4 209.9,186.1 210.2,184.7 210.5,186.8 210.8,185.3 211.1,186.5 211.4,186.0 211.8,186.3 212.1,186.8 212.4,186.1 212.7,187.2 213.0,186.5 213.3,185.3 213.6,182.5 213.9,185.6 214.2,185.3 214.5,185.9 214.8,184.2 215.1,185.8 215.4,184.7 215.7,183.6 216.0,184.9 216.3,182.7 216.6,182.8 216.9,184.6 217.2,184.7 217.6,185.4 217.9,185.6 218.2,184.2 218.5,184.0 218.8,184.3 219.1,184.4 219.4,185.5 219.7,184.6 220.0,185.8 220.3,184.6 220.6,183.1 220.9,182.9 221.2,184.1 221.5,183.9 221.8,182.4 222.1,181.8 222.4,184.3 222.7,183.3 223.0,182.1 223.3,181.2 223.7,183.3 224.0,182.0 224.3,183.1 224.6,180.8 224.9,182.6 225.2,183.1 225.5,183.1 225.8,182.4 226.1,182.9 226.4,184.4 226.7,183.8 227.0,185.4 227.3,184.8 227.6,185.6 227.9,185.6 228.2,184.9 228.5,184.9 228.8,183.6 229.1,183.3 229.5,183.8 229.8,184.4 230.1,183.0 230.4,185.1 230.7,184.9 231.0,182.6 231.3,182.6 231.6,182.5 231.9,183.8 232.2,185.2 232.5,184.7 232.8,184.0 233.1,185.4 233.4,185.5 233.7,185.9 234.0,185.9 234.3,184.3 234.6,184.9 234.9,186.6 235.3,186.8 235.6,186.0 235.9,185.2 236.2,186.7 236.5,185.5 236.8,187.3 237.1,186.3 237.4,184.7 237.7,184.0 238.0,185.3 238.3,184.5 238.6,182.9 238.9,183.4 239.2,183.9 239.5,183.0 239.8,183.6 240.1,182.6 240.4,182.9 240.7,184.4 241.1,184.5 241.4,184.6 241.7,186.1 242.0,186.0 242.3,184.5 242.6,187.0 242.9,184.9 243.2,185.2 243.5,184.9 243.8,184.6 244.1,184.2 244.4,183.5 244.7,184.7 245.0,184.8 245.3,184.8 245.6,183.3 245.9,184.0 246.2,184.9 246.5,184.2 246.8,184.4 247.2,184.2 247.5,184.5 247.8,183.3 248.1,184.8 248.4,184.2 248.7,184.1 249.0,185.2 249.3,184.4 249.6,184.6 249.9,184.5 250.2,184.0 250.5,186.3 250.8,183.8 251.1,184.9 251.4,183.5 251.7,184.3 252.0,184.2 252.3,185.0 252.6,184.6 253.0,185.4 253.3,186.2 253.6,185.0 253.9,184.9 254.2,184.2 254.5,187.3 254.8,185.8 255.1,184.5 255.4,186.0 255.7,184.8 256.0,183.0 256.3,183.3 256.6,185.0 256.9,182.9 257.2,182.9 257.5,183.1 257.8,185.6 258.1,183.3 258.4,184.6 258.8,184.4 259.1,183.8 259.4,184.3 259.7,182.9 260.0,182.5 260.3,181.0 260.5,176.9 260.6,177.9 260.9,180.1 261.2,183.6 261.5,185.5 261.8,187.1 262.1,185.0 262.4,186.8 262.7,185.6 263.0,186.4 263.3,186.8 263.6,184.4 263.9,187.3 264.2,186.2 264.6,185.1 264.9,185.6 265.2,184.6 265.5,185.1 265.8,185.4 266.1,182.9 266.4,184.8 266.7,184.8 267.0,185.6 267.3,185.8 267.6,184.4 267.9,184.2 268.2,184.3 268.5,185.4 268.8,184.1 269.1,185.8 269.4,184.1 269.7,184.4 270.0,185.2 270.4,184.2 270.7,184.9 271.0,185.3 271.3,183.6 271.6,184.3 271.9,183.9 272.2,184.2 272.5,183.7 272.8,183.5 273.1,183.8 273.4,182.9 273.7,184.9 274.0,184.4 274.3,184.4 274.6,186.8 274.9,184.9 275.2,184.0 275.5,183.6 275.8,185.1 276.1,183.3 276.5,183.5 276.8,184.8 277.1,183.2 277.4,182.7 277.7,183.7 278.0,184.8 278.3,183.0 278.6,184.4 278.9,184.9 279.2,184.6 279.5,184.8 279.8,183.7 280.1,184.1 280.4,183.5 280.7,184.0 281.0,185.1 281.3,184.7 281.6,183.9 281.9,185.0 282.3,182.1 282.6,184.7 282.9,184.7 283.2,183.5 283.5,183.6 283.8,184.3 284.1,184.4 284.4,183.9 284.7,183.8 285.0,183.8 285.3,182.3 285.6,184.0 285.9,183.7 286.2,183.3 286.5,186.5 286.8,184.4 287.1,184.8 287.4,184.4 287.7,184.3 288.1,183.4 288.4,183.4 288.7,184.2 289.0,183.9 289.3,182.5 289.6,184.4 289.9,183.9 290.2,183.3 290.5,184.1 290.8,185.7 291.1,183.7 291.4,184.5 291.7,184.6 292.0,183.5 292.3,184.1 292.6,185.1 292.9,184.0 293.2,184.7 293.5,183.9 293.9,185.0 294.2,185.4 294.5,186.0 294.8,186.1 295.1,185.5 295.4,186.4 295.7,187.0 296.0,184.9 296.3,183.4 296.6,185.5 296.9,185.1 297.2,184.5 297.5,185.0 297.8,185.0 298.1,185.7 298.4,184.2 298.7,185.9 299.0,184.2 299.3,186.4 299.6,185.7 300.0,184.2 300.3,185.3 300.6,186.0 300.9,185.2 301.2,185.9 301.5,185.0 301.8,186.9 302.1,185.6 302.4,185.6 302.7,184.7 303.0,184.7 303.3,185.6 303.6,183.5 303.9,185.4 304.2,186.4 304.5,186.6 304.8,183.3 305.1,184.6 305.4,184.9 305.8,184.6 306.1,185.0 306.4,183.1 306.7,184.1 307.0,182.9 307.3,184.8 307.6,186.4 307.9,183.6 308.2,184.7 308.5,184.8 308.8,182.8 309.1,184.5 309.4,183.6 309.7,184.3 310.0,184.7 310.3,183.7 310.6,184.3 310.9,182.8 311.2,182.8 311.6,183.6 311.9,182.9 312.2,182.9 312.5,183.6 312.8,182.3 313.1,183.3 313.4,182.8 313.7,184.2 314.0,183.6 314.3,183.2 314.6,182.0 314.9,176.8 315.2,167.5 315.5,157.1 315.8,153.7 315.8,154.2 316.1,158.6 316.4,167.8 316.7,177.6 317.0,183.9 317.4,184.3 317.7,183.6 318.0,184.3 318.3,183.1 318.6,183.1 318.9,183.6 319.2,184.4 319.5,184.5 319.8,184.1 320.1,184.0 320.4,183.5 320.7,183.2 321.0,183.8 321.3,183.5 321.6,183.4 321.9,185.6 322.2,185.0 322.5,185.1 322.8,184.2 323.1,184.5 323.5,184.7 323.8,185.3 324.1,184.3 324.4,184.8 324.7,186.2 325.0,184.9 325.3,185.8 325.6,183.2 325.9,184.8 326.2,184.7 326.5,184.1 326.8,184.6 327.1,184.5 327.4,182.9 327.7,183.8 328.0,183.5 328.3,183.4 328.6,185.1 328.9,183.0 329.3,184.2 329.6,184.1 329.9,185.8 330.2,184.6 330.5,184.7 330.8,185.1 331.1,182.8 331.4,184.6 331.7,185.1 332.0,185.0 332.3,184.5 332.6,184.0 332.9,184.1 333.2,183.4 333.5,183.1 333.8,185.4 334.1,184.2 334.4,185.1 334.7,184.1 335.1,182.7 335.4,183.5 335.7,185.0 336.0,184.6 336.3,183.7 336.6,184.9 336.9,184.8 337.2,184.2 337.5,185.9 337.8,184.2 338.1,184.4 338.4,184.2 338.7,185.8 339.0,185.0 339.3,184.6 339.6,183.9 339.9,184.1 340.2,183.9 340.5,181.3 340.9,183.4 341.2,185.3 341.5,185.4 341.8,183.3 342.1,185.3 342.4,183.8 342.7,184.0 343.0,185.3 343.3,184.9 343.6,185.0 343.9,186.0 344.2,185.9 344.5,185.5 344.8,184.2 345.1,184.9 345.4,184.8 345.7,184.9 346.0,185.6 346.3,183.3 346.7,186.6 347.0,185.1 347.3,183.8 347.6,185.3 347.9,183.8 348.2,183.5 348.5,185.1 348.8,184.9 349.1,186.1 349.4,184.7 349.7,185.2 350.0,185.3 350.3,184.1 350.6,184.7 350.9,187.1 351.2,184.4 351.5,185.3 351.8,184.2 352.1,183.6 352.4,184.9 352.8,182.6 353.1,183.9 353.4,183.5 353.7,184.6 354.0,184.1 354.3,184.0 354.6,184.4 354.9,184.4 355.2,186.1 355.5,183.3 355.8,185.6 356.1,186.3 356.4,185.3 356.7,185.0 357.0,183.8 357.3,184.8 357.6,184.0 357.9,185.3 358.2,182.7 358.6,184.0 358.9,183.4 359.2,185.7 359.5,184.7 359.8,185.9 360.1,184.7 360.4,184.6 360.7,186.6 361.0,186.2 361.3,186.3 361.6,187.0 361.9,186.5 362.2,187.0 362.5,187.3 362.8,186.2 363.1,185.6 363.4,187.3 363.7,186.7 364.0,186.3 364.4,186.6 364.7,187.3 365.0,185.8 365.3,185.1 365.6,185.1 365.9,185.2 366.2,183.2 366.5,183.1 366.8,185.0 367.1,184.5 367.4,183.6 367.7,185.3 368.0,183.7 368.3,184.0 368.6,184.7 368.9,184.3 369.2,185.5 369.5,185.2 369.8,186.4 370.2,183.1 370.5,183.9 370.8,184.2 371.1,185.0 371.4,184.3 371.7,184.4 372.0,184.4 372.3,184.5 372.6,186.1 372.9,185.0 373.2,185.6 373.5,186.0 373.8,186.1 374.1,184.8 374.4,187.1 374.7,186.3 375.0,183.5 375.3,183.7 375.6,185.1 375.9,185.2 376.3,185.1 376.6,184.7 376.9,186.0 377.2,186.7 377.5,185.7 377.8,187.8 378.1,185.8 378.4,185.1 378.7,186.3 379.0,185.7 379.3,185.8 379.6,185.7 379.9,185.7 380.2,186.2 380.5,185.3 380.8,185.3 381.1,184.2 381.4,180.7 381.7,184.8 382.1,185.4 382.4,185.3 382.7,185.5 383.0,184.2 383.3,184.9 383.6,185.1 383.9,185.5 384.2,184.1 384.5,184.4 384.8,184.4 385.1,184.1 385.4,182.7 385.7,184.5 386.0,182.8 386.3,183.2 386.6,184.4 386.9,183.9 387.2,185.2 387.5,185.7 387.9,186.0 388.2,186.0 388.5,184.6 388.8,185.0 389.1,184.5 389.4,184.4 389.7,187.2 390.0,184.3 390.3,185.7 390.6,184.2 390.9,184.5 391.2,184.0 391.5,182.6 391.8,185.8 392.1,184.7 392.4,185.0 392.7,186.5 393.0,184.5 393.3,185.0 393.7,185.5 394.0,185.6 394.3,182.7 394.6,185.7 394.9,186.7 395.2,186.0 395.5,185.2 395.8,185.1 396.1,184.9" stroke="#0000FF" stroke-width="1.35" fill="none" stroke-linejoin="bevel"/>
<polyline points="79.6,211.3 79.9,211.5 80.2,213.9 80.5,214.8 80.8,211.7 81.1,215.9 81.4,212.9 81.7,214.2 82.0,215.3 82.3,212.1 82.7,211.2 83.0,206.0 83.3,202.2 83.3,204.5 83.6,206.6 83.9,207.9 84.2,209.5 84.5,211.4 84.8,211.9 85.1,208.7 85.4,211.6 85.7,211.2 86.0,212.1 86.3,211.9 86.6,212.0 86.9,210.4 87.2,210.8 87.5,213.2 87.8,215.5 88.1,213.0 88.5,214.9 88.8,213.6 89.1,211.2 89.4,210.1 89.7,212.6 90.0,214.4 90.3,212.2 90.6,216.2 90.9,213.2 91.2,210.0 91.5,210.7 91.8,214.8 92.1,215.4 92.4,212.4 92.7,213.2 93.0,213.1 93.3,211.2 93.6,212.5 93.9,213.7 94.2,209.7 94.6,211.8 94.9,212.3 95.2,212.2 95.5,209.5 95.8,211.0 96.1,209.2 96.4,210.5 96.7,209.4 97.0,211.5 97.3,212.1 97.6,213.7 97.9,212.7 98.2,210.7 98.5,207.5 98.8,213.3 99.1,212.7 99.4,210.6 99.7,210.2 100.0,211.5 100.4,210.5 100.7,212.8 101.0,210.9 101.3,209.9 101.6,209.2 101.9,211.4 102.2,211.6 102.5,211.0 102.8,210.4 103.1,211.1 103.4,212.5 103.7,211.4 104.0,209.7 104.3,211.9 104.6,212.7 104.9,210.6 105.2,210.5 105.5,209.7 105.8,210.6 106.2,211.4 106.5,211.3 106.8,212.2 107.1,212.0 107.4,211.5 107.7,212.4 108.0,210.3 108.3,213.5 108.6,216.0 108.9,212.9 109.2,210.8 109.5,212.3 109.8,212.9 110.1,211.8 110.4,212.6 110.7,213.3 111.0,211.0 111.3,211.8 111.6,210.5 112.0,210.7 112.3,210.9 112.6,212.0 112.9,213.2 113.2,211.4 113.5,211.9 113.8,210.8 114.1,211.6 114.4,212.2 114.7,212.5 115.0,210.6 115.3,210.2 115.6,211.7 115.9,211.3 116.2,210.0 116.5,212.2 116.8,211.5 117.1,211.9 117.4,209.2 117.8,210.1 118.1,211.5 118.4,212.6 118.7,211.0 119.0,209.6 119.3,211.4 119.6,211.2 119.9,209.9 120.2,211.7 120.5,210.0 120.8,209.9 121.1,212.2 121.4,212.2 121.7,210.5 122.0,211.1 122.3,211.2 122.6,214.8 122.9,210.8 123.2,211.8 123.5,211.9 123.9,211.3 124.2,210.8 124.5,210.9 124.8,212.9 125.1,210.9 125.4,211.8 125.7,212.4 126.0,211.9 126.3,211.5 126.6,210.2 126.9,213.6 127.2,211.7 127.5,212.6 127.8,212.7 128.1,210.2 128.4,207.6 128.7,206.5 128.9,204.5 129.0,206.0 129.3,208.6 129.7,212.5 130.0,211.0 130.3,212.1 130.6,211.5 130.9,211.4 131.2,209.5 131.5,211.2 131.8,211.6 132.1,209.8 132.4,212.3 132.7,212.2 133.0,213.5 133.3,210.9 133.6,211.5 133.9,211.3 134.2,212.0 134.5,212.0 134.8,212.5 135.1,212.4 135.5,210.7 135.8,211.3 136.1,209.8 136.4,212.2 136.7,211.9 137.0,208.2 137.3,209.6 137.6,212.7 137.9,210.4 138.2,210.0 138.5,211.4 138.8,210.6 139.1,213.8 139.4,211.8 139.7,213.0 140.0,211.0 140.3,211.0 140.6,212.3 140.9,210.7 141.3,211.1 141.6,212.1 141.9,212.0 142.2,213.3 142.5,211.9 142.8,209.8 143.1,212.4 143.4,210.5 143.7,209.7 143.9,208.0 144.0,208.0 144.3,209.7 144.6,211.8 144.9,213.9 145.2,212.7 145.5,211.2 145.8,212.5 146.1,211.9 146.4,212.5 146.7,213.6 147.0,210.8 147.4,211.0 147.7,211.9 148.0,211.8 148.3,211.1 148.6,211.3 148.9,210.4 149.2,210.9 149.5,212.9 149.8,208.6 150.1,211.2 150.4,211.8 150.7,211.5 151.0,212.5 151.3,211.2 151.6,210.5 151.9,212.0 152.2,214.0 152.5,213.6 152.8,211.5 153.2,212.7 153.5,213.5 153.8,212.6 154.1,212.1 154.4,211.7 154.7,211.2 155.0,213.0 155.3,212.4 155.6,212.2 155.9,211.7 156.2,213.3 156.5,212.2 156.8,213.6 157.1,210.5 157.4,210.2 157.7,210.2 158.0,210.8 158.3,211.9 158.6,210.4 159.0,211.6 159.3,210.7 159.6,212.1 159.9,211.7 160.2,210.9 160.5,205.6 160.8,210.7 161.1,209.1 161.4,208.5 161.7,212.8 162.0,211.6 162.3,212.3 162.6,211.5 162.9,212.0 163.2,212.0 163.5,210.9 163.8,210.6 164.1,211.2 164.4,211.7 164.8,211.2 165.1,211.2 165.4,210.7 165.7,211.0 166.0,210.6 166.3,212.5 166.6,210.5 166.9,209.3 167.2,211.1 167.5,212.3 167.8,210.1 168.1,211.5 168.4,213.8 168.7,210.9 169.0,209.9 169.3,210.3 169.6,209.2 169.9,209.3 170.2,209.9 170.5,212.0 170.9,211.1 171.2,210.2 171.5,210.2 171.8,211.5 172.1,211.4 172.4,210.8 172.7,212.7 173.0,212.9 173.3,211.7 173.6,211.5 173.9,212.1 174.2,213.7 174.5,211.4 174.8,210.5 175.1,210.3 175.4,211.2 175.7,210.9 176.0,210.9 176.3,212.2 176.7,211.0 177.0,210.4 177.3,211.0 177.6,210.0 177.9,211.4 178.2,209.9 178.5,210.3 178.8,211.8 179.1,211.2 179.4,211.6 179.7,211.4 180.0,209.5 180.3,210.0 180.6,211.8 180.9,211.3 181.2,213.0 181.5,212.1 181.8,211.3 182.1,212.1 182.5,212.1 182.8,212.5 183.1,212.9 183.4,212.3 183.7,213.4 184.0,213.6 184.3,211.1 184.6,213.0 184.9,210.5 185.2,213.4 185.5,211.8 185.8,212.6 186.1,211.8 186.4,213.2 186.7,212.5 187.0,212.3 187.3,212.4 187.6,210.5 187.9,208.2 188.3,206.3 188.6,202.0 188.6,202.5 188.9,204.1 189.2,208.8 189.5,209.3 189.8,213.4 190.1,212.2 190.4,213.0 190.7,211.6 191.0,211.2 191.3,208.2 191.6,211.1 191.9,209.5 192.2,209.9 192.5,211.6 192.8,210.7 193.1,209.9 193.4,211.2 193.7,211.2 194.1,210.9 194.4,213.1 194.7,213.1 195.0,212.2 195.3,212.0 195.6,213.7 195.9,213.2 196.2,212.9 196.5,212.6 196.8,212.0 197.1,212.6 197.4,209.2 197.7,213.5 198.0,213.0 198.3,211.5 198.6,213.0 198.9,211.3 199.2,212.2 199.5,212.0 199.8,210.8 200.2,212.2 200.5,212.0 200.8,211.6 201.1,211.3 201.4,208.7 201.7,212.9 202.0,211.4 202.3,211.6 202.6,210.7 202.9,211.5 203.2,213.5 203.5,210.1 203.8,211.9 204.1,210.9 204.4,211.7 204.7,211.2 205.0,211.5 205.3,210.2 205.6,210.3 206.0,211.4 206.3,210.6 206.6,211.7 206.9,211.5 207.2,211.8 207.5,211.5 207.8,213.3 208.1,213.2 208.4,212.9 208.7,212.6 209.0,213.2 209.3,211.0 209.6,212.9 209.9,211.7 210.2,211.7 210.5,210.6 210.8,213.5 211.1,210.0 211.4,211.2 211.8,212.1 212.1,211.1 212.4,209.7 212.7,211.4 213.0,213.0 213.3,212.1 213.6,210.8 213.9,213.4 214.2,212.5 214.5,212.1 214.8,209.6 215.1,212.2 215.4,211.0 215.7,212.8 216.0,212.8 216.3,211.1 216.6,210.6 216.9,212.5 217.2,210.5 217.6,210.5 217.9,211.4 218.2,211.0 218.5,211.5 218.8,212.2 219.1,211.9 219.4,211.7 219.7,210.8 220.0,211.6 220.3,210.7 220.6,212.4 220.9,211.0 221.2,209.1 221.5,211.4 221.8,210.1 222.1,208.7 222.4,209.0 222.7,211.9 223.0,209.6 223.3,210.5 223.7,210.7 224.0,211.6 224.3,210.9 224.6,209.7 224.9,210.7 225.2,212.2 225.5,212.1 225.8,211.9 226.1,210.9 226.4,209.9 226.7,212.7 227.0,211.9 227.3,212.2 227.6,212.2 227.9,211.4 228.2,211.4 228.5,213.0 228.8,212.3 229.1,210.8 229.5,211.6 229.8,211.6 230.1,212.0 230.4,211.5 230.7,211.1 231.0,211.7 231.3,212.5 231.6,211.5 231.9,210.6 232.2,211.8 232.5,207.5 232.8,210.4 233.1,211.5 233.4,210.5 233.7,211.1 234.0,210.8 234.3,210.6 234.6,212.7 234.9,212.3 235.3,210.5 235.6,211.3 235.9,211.1 236.2,211.1 236.5,210.5 236.8,213.0 237.1,211.4 237.4,212.4 237.7,211.0 238.0,210.3 238.3,212.7 238.6,212.1 238.9,212.6 239.2,212.8 239.5,212.7 239.8,213.5 240.1,213.1 240.4,211.4 240.7,211.2 241.1,212.7 241.4,213.6 241.7,210.3 242.0,211.0 242.3,210.9 242.6,211.7 242.9,211.3 243.2,210.7 243.5,211.3 243.8,209.1 244.1,210.6 244.4,210.2 244.7,211.3 245.0,211.1 245.3,211.4 245.6,210.4 245.9,211.1 246.2,211.3 246.5,211.2 246.8,211.1 247.2,210.3 247.5,211.9 247.8,212.6 248.1,212.0 248.4,210.8 248.7,212.8 249.0,212.0 249.3,212.6 249.6,211.9 249.9,212.2 250.2,212.7 250.5,212.4 250.8,211.3 251.1,210.9 251.4,210.8 251.7,210.5 252.0,211.4 252.3,211.2 252.6,210.1 253.0,211.5 253.3,210.4 253.6,211.5 253.9,210.5 254.2,210.7 254.5,211.0 254.8,209.5 255.1,211.1 255.4,210.9 255.7,210.8 256.0,210.8 256.3,209.3 256.6,210.8 256.9,210.2 257.2,211.4 257.5,211.0 257.8,210.7 258.1,210.8 258.4,211.5 258.8,210.6 259.1,209.9 259.4,211.1 259.7,210.7 260.0,210.1 260.3,206.2 260.5,207.9 260.6,206.3 260.9,208.4 261.2,209.8 261.5,211.6 261.8,211.3 262.1,210.7 262.4,210.9 262.7,211.2 263.0,211.3 263.3,210.4 263.6,210.2 263.9,212.3 264.2,210.4 264.6,209.6 264.9,210.8 265.2,210.3 265.5,211.5 265.8,209.6 266.1,211.2 266.4,211.3 266.7,210.5 267.0,208.7 267.3,211.3 267.6,211.6 267.9,210.5 268.2,211.1 268.5,210.0 268.8,212.3 269.1,212.4 269.4,211.6 269.7,211.0 270.0,211.3 270.4,210.8 270.7,212.7 271.0,212.4 271.3,212.1 271.6,211.4 271.9,211.1 272.2,212.1 272.5,212.4 272.8,211.4 273.1,211.6 273.4,209.9 273.7,212.5 274.0,210.8 274.3,213.2 274.6,212.5 274.9,212.2 275.2,212.3 275.5,213.1 275.8,212.4 276.1,211.9 276.5,212.2 276.8,211.1 277.1,212.1 277.4,211.7 277.7,210.5 278.0,211.2 278.3,211.3 278.6,211.7 278.9,210.9 279.2,210.3 279.5,211.6 279.8,210.2 280.1,209.9 280.4,210.3 280.7,211.5 281.0,212.7 281.3,212.4 281.6,212.0 281.9,211.5 282.3,212.3 282.6,212.8 282.9,211.3 283.2,213.0 283.5,211.4 283.8,211.4 284.1,213.1 284.4,211.4 284.7,211.8 285.0,211.8 285.3,212.7 285.6,212.4 285.9,211.1 286.2,211.3 286.5,210.8 286.8,211.9 287.1,211.2 287.4,210.9 287.7,212.1 288.1,212.3 288.4,210.5 288.7,210.7 289.0,211.3 289.3,210.8 289.6,210.2 289.9,210.1 290.2,212.1 290.5,211.0 290.8,210.2 291.1,212.1 291.4,210.3 291.7,213.8 292.0,210.6 292.3,211.5 292.6,213.0 292.9,210.9 293.2,210.7 293.5,210.2 293.9,210.2 294.2,211.0 294.5,211.6 294.8,211.4 295.1,211.4 295.4,211.2 295.7,211.9 296.0,211.9 296.3,211.2 296.6,211.6 296.9,210.1 297.2,210.1 297.5,212.9 297.8,212.7 298.1,213.3 298.4,213.2 298.7,211.9 299.0,213.1 299.3,213.1 299.6,212.5 300.0,211.3 300.3,212.1 300.6,211.9 300.9,210.8 301.2,211.0 301.5,210.9 301.8,210.4 302.1,211.4 302.4,210.2 302.7,210.7 303.0,209.4 303.3,209.3 303.6,210.7 303.9,208.9 304.2,210.7 304.5,208.8 304.8,209.5 305.1,210.0 305.4,210.2 305.8,209.9 306.1,210.0 306.4,210.2 306.7,209.1 307.0,210.7 307.3,209.8 307.6,210.0 307.9,211.6 308.2,210.3 308.5,211.6 308.8,213.0 309.1,211.4 309.4,211.2 309.7,210.3 310.0,211.9 310.3,210.5 310.6,210.6 310.9,211.0 311.2,210.6 311.6,211.3 311.9,212.1 312.2,211.1 312.5,211.0 312.8,211.6 313.1,212.0 313.4,213.0 313.7,211.3 314.0,211.6 314.3,212.3 314.6,210.5 314.9,207.9 315.2,204.6 315.5,199.5 315.8,198.5 315.8,197.8 316.1,201.7 316.4,205.2 316.7,207.6 317.0,209.2 317.4,209.4 317.7,212.1 318.0,210.9 318.3,210.4 318.6,209.9 318.9,209.7 319.2,211.8 319.5,211.5 319.8,211.9 320.1,210.4 320.4,213.1 320.7,210.9 321.0,211.3 321.3,211.8 321.6,213.8 321.9,212.5 322.2,211.3 322.5,213.0 322.8,212.1 323.1,212.0 323.5,211.2 323.8,211.3 324.1,210.9 324.4,211.9 324.7,211.3 325.0,211.3 325.3,211.1 325.6,211.6 325.9,210.6 326.2,212.4 326.5,210.3 326.8,211.3 327.1,210.5 327.4,211.6 327.7,210.9 328.0,210.1 328.3,211.7 328.6,211.3 328.9,211.4 329.3,211.3 329.6,212.9 329.9,212.0 330.2,211.8 330.5,212.2 330.8,211.2 331.1,212.5 331.4,210.3 331.7,211.2 332.0,210.1 332.3,212.1 332.6,212.1 332.9,210.9 333.2,212.5 333.5,210.8 333.8,211.8 334.1,211.7 334.4,211.3 334.7,211.0 335.1,209.3 335.4,210.1 335.7,211.4 336.0,209.9 336.3,212.0 336.6,210.9 336.9,212.4 337.2,212.3 337.5,210.3 337.8,211.7 338.1,212.0 338.4,211.8 338.7,211.9 339.0,210.4 339.3,212.2 339.6,212.0 339.9,210.3 340.2,211.9 340.5,210.4 340.9,209.3 341.2,210.3 341.5,210.5 341.8,210.9 342.1,211.3 342.4,211.0 342.7,210.7 343.0,210.2 343.3,210.7 343.6,212.0 343.9,212.1 344.2,210.7 344.5,212.7 344.8,211.7 345.1,211.8 345.4,212.0 345.7,211.6 346.0,211.1 346.3,212.4 346.7,212.2 347.0,211.7 347.3,211.1 347.6,214.5 347.9,210.5 348.2,211.6 348.5,211.6 348.8,211.6 349.1,211.8 349.4,212.3 349.7,210.2 350.0,211.2 350.3,211.0 350.6,210.3 350.9,211.9 351.2,211.0 351.5,211.8 351.8,212.6 352.1,209.5 352.4,212.7 352.8,210.9 353.1,211.9 353.4,211.0 353.7,209.9 354.0,210.5 354.3,210.9 354.6,210.6 354.9,211.1 355.2,211.5 355.5,211.4 355.8,210.9 356.1,210.6 356.4,212.8 356.7,212.1 357.0,211.5 357.3,211.9 357.6,212.9 357.9,211.6 358.2,213.1 358.6,211.4 358.9,210.8 359.2,213.9 359.5,212.0 359.8,211.9 360.1,211.7 360.4,211.7 360.7,211.4 361.0,212.6 361.3,211.3 361.6,211.0 361.9,212.2 362.2,212.6 362.5,212.1 362.8,211.3 363.1,213.9 363.4,211.8 363.7,211.9 364.0,213.5 364.4,214.9 364.7,211.9 365.0,211.5 365.3,214.0 365.6,213.7 365.9,212.3 366.2,212.0 366.5,212.4 366.8,211.9 367.1,212.8 367.4,212.6 367.7,212.4 368.0,212.8 368.3,211.4 368.6,212.0 368.9,211.7 369.2,212.4 369.5,211.2 369.8,212.9 370.2,211.7 370.5,214.0 370.8,212.7 371.1,211.0 371.4,211.9 371.7,211.4 372.0,212.9 372.3,210.3 372.6,211.0 372.9,211.7 373.2,211.8 373.5,211.7 373.8,211.0 374.1,211.7 374.4,213.0 374.7,212.1 375.0,210.7 375.3,211.7 375.6,212.5 375.9,211.6 376.3,211.9 376.6,211.5 376.9,213.0 377.2,212.2 377.5,210.7 377.8,211.6 378.1,211.1 378.4,209.7 378.7,211.4 379.0,210.3 379.3,212.5 379.6,211.0 379.9,210.6 380.2,211.4 380.5,212.1 380.8,209.4 381.1,210.9 381.4,210.0 381.7,210.9 382.1,211.1 382.4,211.1 382.7,211.6 383.0,213.0 383.3,211.1 383.6,212.9 383.9,211.9 384.2,209.9 384.5,212.1 384.8,210.4 385.1,211.9 385.4,211.1 385.7,211.1 386.0,210.9 386.3,211.5 386.6,211.8 386.9,210.7 387.2,212.2 387.5,211.9 387.9,210.5 388.2,211.2 388.5,212.0 388.8,211.8 389.1,211.0 389.4,211.2 389.7,210.4 390.0,210.8 390.3,209.1 390.6,211.3 390.9,212.4 391.2,210.5 391.5,210.7 391.8,210.8 392.1,212.2 392.4,210.4 392.7,211.1 393.0,211.4 393.3,213.0 393.7,211.3 394.0,211.7 394.3,210.4 394.6,212.1 394.9,212.8 395.2,211.8 395.5,212.7 395.8,211.4 396.1,212.4" stroke="#00FFFF" stroke-width="1.35" fill="none" stroke-linejoin="bevel"/>
<polyline points="79.6,233.3 79.9,233.1 80.2,234.4 80.5,233.7 80.8,233.8 81.1,231.3 81.4,232.7 81.7,233.9 82.0,233.9 82.3,233.4 82.7,233.9 83.0,228.6 83.3,228.2 83.3,224.7 83.6,226.9 83.9,231.5 84.2,234.4 84.5,234.3 84.8,234.3 85.1,225.3 85.4,233.8 85.7,236.1 86.0,234.4 86.3,230.9 86.6,231.1 86.9,231.2 87.2,231.3 87.5,231.9 87.8,234.4 88.1,233.8 88.5,235.1 88.8,233.4 89.1,234.6 89.4,232.9 89.7,233.6 90.0,236.7 90.3,232.4 90.6,232.0 90.9,234.7 91.2,232.4 91.5,231.3 91.8,232.2 92.1,230.9 92.4,231.8 92.7,231.3 93.0,232.4 93.3,233.1 93.6,232.0 93.9,231.4 94.2,232.7 94.6,233.7 94.9,234.0 95.2,233.5 95.5,233.6 95.8,236.8 96.1,233.3 96.4,233.0 96.7,233.0 97.0,232.2 97.3,230.3 97.6,231.4 97.9,233.0 98.2,231.8 98.5,233.1 98.8,233.3 99.1,233.8 99.4,234.1 99.7,234.6 100.0,236.6 100.4,233.6 100.7,232.8 101.0,235.4 101.3,234.0 101.6,235.2 101.9,234.7 102.2,235.4 102.5,235.0 102.8,234.3 103.1,237.1 103.4,234.0 103.7,234.1 104.0,236.5 104.3,232.7 104.6,233.3 104.9,232.9 105.2,232.9 105.5,232.9 105.8,233.9 106.2,232.6 106.5,230.3 106.8,229.8 107.1,230.3 107.4,232.6 107.7,232.7 108.0,232.1 108.3,232.3 108.6,233.3 108.9,232.9 109.2,230.1 109.5,231.4 109.8,234.0 110.1,234.3 110.4,233.5 110.7,232.1 111.0,231.9 111.3,232.7 111.6,233.8 112.0,231.4 112.3,231.8 112.6,232.9 112.9,233.4 113.2,231.9 113.5,233.0 113.8,234.1 114.1,232.4 114.4,234.2 114.7,232.2 115.0,232.6 115.3,234.7 115.6,233.1 115.9,230.8 116.2,235.0 116.5,233.0 116.8,231.7 117.1,235.4 117.4,234.0 117.8,235.5 118.1,233.8 118.4,236.3 118.7,235.9 119.0,235.1 119.3,234.4 119.6,234.4 119.9,234.5 120.2,233.9 120.5,236.9 120.8,233.6 121.1,235.1 121.4,234.1 121.7,230.6 122.0,231.2 122.3,232.5 122.6,231.7 122.9,231.7 123.2,233.8 123.5,231.0 123.9,233.5 124.2,233.2 124.5,230.8 124.8,235.9 125.1,233.0 125.4,234.9 125.7,233.8 126.0,233.3 126.3,234.3 126.6,233.8 126.9,234.8 127.2,234.3 127.5,235.1 127.8,234.4 128.1,235.5 128.4,233.4 128.7,235.2 129.0,233.4 129.3,234.4 129.7,234.2 130.0,232.0 130.3,233.1 130.6,234.5 130.9,231.4 131.2,235.1 131.5,231.9 131.8,232.3 132.1,232.8 132.4,231.7 132.7,232.3 133.0,230.1 133.3,232.7 133.6,230.7 133.9,231.4 134.2,233.9 134.5,234.3 134.8,232.1 135.1,233.3 135.5,233.4 135.8,233.9 136.1,234.6 136.4,233.5 136.7,234.0 137.0,234.3 137.3,233.0 137.6,230.6 137.9,230.9 138.2,232.8 138.5,232.2 138.8,232.0 139.1,231.1 139.4,232.5 139.7,233.2 140.0,235.5 140.3,232.1 140.6,230.8 140.9,233.8 141.3,235.4 141.6,232.6 141.9,233.8 142.2,233.9 142.5,233.0 142.8,234.2 143.1,235.0 143.4,236.4 143.7,234.7 144.0,235.8 144.3,234.1 144.6,235.8 144.9,234.7 145.2,235.5 145.5,233.8 145.8,233.5 146.1,232.0 146.4,231.7 146.7,233.6 147.0,233.7 147.4,230.9 147.7,232.6 148.0,232.7 148.3,232.9 148.6,232.0 148.9,232.7 149.2,233.4 149.5,233.8 149.8,235.5 150.1,234.5 150.4,233.9 150.7,233.4 151.0,233.2 151.3,233.3 151.6,233.4 151.9,233.9 152.2,235.5 152.5,233.3 152.8,232.9 153.2,234.5 153.5,233.3 153.8,233.6 154.1,233.8 154.4,236.3 154.7,235.9 155.0,234.9 155.3,232.9 155.6,234.9 155.9,234.3 156.2,234.8 156.5,234.3 156.8,233.6 157.1,235.8 157.4,236.7 157.7,233.8 158.0,234.2 158.3,235.0 158.6,233.4 159.0,233.5 159.3,236.4 159.6,234.2 159.9,232.9 160.2,235.0 160.5,234.2 160.8,232.9 161.1,234.4 161.4,234.8 161.7,234.1 162.0,234.3 162.3,232.9 162.6,234.7 162.9,231.8 163.2,234.4 163.5,233.1 163.8,234.5 164.1,233.5 164.4,232.2 164.8,231.9 165.1,231.8 165.4,233.3 165.7,233.2 166.0,233.0 166.3,232.8 166.6,233.9 166.9,232.8 167.2,233.1 167.5,232.5 167.8,233.2 168.1,233.1 168.4,234.1 168.7,234.1 169.0,234.5 169.3,233.9 169.6,233.7 169.9,232.6 170.2,231.2 170.5,230.6 170.9,234.1 171.2,232.4 171.5,232.8 171.8,235.9 172.1,234.2 172.4,232.5 172.7,235.8 173.0,232.3 173.3,233.6 173.6,233.7 173.9,233.1 174.2,234.8 174.5,232.7 174.8,235.3 175.1,233.5 175.4,232.3 175.7,229.6 176.0,232.6 176.3,232.6 176.7,233.7 177.0,234.5 177.3,233.3 177.6,232.7 177.9,234.2 178.2,233.7 178.5,234.8 178.8,231.8 179.1,235.5 179.4,233.5 179.7,233.8 180.0,234.4 180.3,235.5 180.6,235.2 180.9,234.2 181.2,233.0 181.5,233.7 181.8,233.2 182.1,232.1 182.5,231.9 182.8,233.7 183.1,231.3 183.4,233.5 183.7,230.7 184.0,232.6 184.3,233.4 184.6,232.6 184.9,232.1 185.2,233.2 185.5,235.8 185.8,234.1 186.1,234.6 186.4,234.1 186.7,234.6 187.0,234.1 187.3,234.8 187.6,233.1 187.9,231.4 188.3,229.2 188.6,226.4 188.6,225.1 188.9,227.3 189.2,229.9 189.5,232.8 189.8,233.6 190.1,237.3 190.4,235.6 190.7,235.0 191.0,234.4 191.3,235.3 191.6,234.4 191.9,234.3 192.2,231.2 192.5,232.9 192.8,233.7 193.1,233.2 193.4,233.8 193.7,232.8 194.1,232.9 194.4,232.7 194.7,231.6 195.0,231.7 195.3,232.7 195.6,232.0 195.9,233.1 196.2,234.1 196.5,234.9 196.8,234.0 197.1,233.0 197.4,232.5 197.7,231.8 198.0,233.7 198.3,234.5 198.6,232.9 198.9,232.5 199.2,234.0 199.5,233.5 199.8,232.8 200.2,233.8 200.5,234.8 200.8,236.7 201.1,234.2 201.4,231.5 201.7,234.6 202.0,234.8 202.3,235.6 202.6,234.4 202.9,234.5 203.2,233.4 203.5,235.2 203.8,232.3 204.1,233.0 204.4,232.3 204.7,233.8 205.0,232.6 205.3,232.1 205.6,232.3 206.0,233.7 206.3,232.7 206.6,231.9 206.9,233.6 207.2,233.8 207.5,233.0 207.8,234.5 208.1,232.5 208.4,234.5 208.7,235.5 209.0,234.3 209.3,233.2 209.6,235.2 209.9,234.7 210.2,234.4 210.5,235.4 210.8,233.4 211.1,234.2 211.4,233.8 211.8,236.0 212.1,235.8 212.4,236.4 212.7,234.0 213.0,233.9 213.3,232.9 213.6,232.2 213.9,233.4 214.2,233.4 214.5,232.7 214.8,231.6 215.1,233.4 215.4,231.6 215.7,232.6 216.0,232.9 216.3,232.4 216.6,233.6 216.9,233.7 217.2,232.3 217.6,233.6 217.9,233.7 218.2,233.6 218.5,233.3 218.8,234.1 219.1,233.6 219.4,234.1 219.7,233.0 220.0,233.0 220.3,233.5 220.6,235.0 220.9,234.8 221.2,235.0 221.5,232.1 221.8,235.0 222.1,233.7 222.4,232.9 222.7,235.6 223.0,234.4 223.3,234.1 223.7,234.8 224.0,235.1 224.3,234.6 224.6,232.9 224.9,233.7 225.2,234.6 225.5,234.2 225.8,235.6 226.1,233.8 226.4,233.8 226.7,235.2 227.0,234.1 227.3,234.3 227.6,234.5 227.9,234.7 228.2,234.4 228.5,234.5 228.8,232.8 229.1,233.5 229.5,233.9 229.8,234.4 230.1,234.3 230.4,232.3 230.7,235.4 231.0,232.8 231.3,233.5 231.6,233.6 231.9,234.6 232.2,234.4 232.5,236.0 232.8,235.8 233.1,234.7 233.4,235.9 233.7,233.9 234.0,233.9 234.3,237.9 234.6,236.7 234.9,235.7 235.3,235.5 235.6,235.0 235.9,234.6 236.2,233.9 236.5,233.7 236.8,232.6 237.1,234.1 237.4,233.5 237.7,235.2 238.0,234.1 238.3,234.9 238.6,232.4 238.9,232.0 239.2,233.2 239.5,234.3 239.8,233.2 240.1,233.4 240.4,233.4 240.7,232.4 241.1,232.7 241.4,236.0 241.7,232.6 242.0,234.0 242.3,233.9 242.6,231.9 242.9,233.6 243.2,234.5 243.5,234.6 243.8,233.4 244.1,232.6 244.4,232.2 244.7,233.6 245.0,233.7 245.3,231.5 245.6,233.1 245.9,231.6 246.2,232.9 246.5,233.0 246.8,233.2 247.2,232.6 247.5,233.3 247.8,233.6 248.1,233.5 248.4,233.7 248.7,233.1 249.0,233.3 249.3,233.7 249.6,233.4 249.9,232.9 250.2,231.4 250.5,233.3 250.8,233.7 251.1,233.4 251.4,232.6 251.7,233.2 252.0,233.1 252.3,233.1 252.6,233.4 253.0,233.3 253.3,233.4 253.6,235.3 253.9,234.9 254.2,236.2 254.5,233.2 254.8,233.1 255.1,232.9 255.4,233.7 255.7,232.8 256.0,233.8 256.3,233.7 256.6,234.6 256.9,234.1 257.2,234.3 257.5,232.6 257.8,231.6 258.1,233.8 258.4,233.1 258.8,233.2 259.1,234.3 259.4,235.6 259.7,234.5 260.0,233.9 260.3,231.7 260.5,230.7 260.6,231.0 260.9,231.9 261.2,233.4 261.5,233.8 261.8,234.9 262.1,233.5 262.4,235.4 262.7,233.8 263.0,233.4 263.3,234.6 263.6,235.1 263.9,233.5 264.2,234.5 264.6,233.4 264.9,233.3 265.2,235.1 265.5,233.8 265.8,233.1 266.1,233.8 266.4,234.8 266.7,233.5 267.0,233.3 267.3,233.6 267.6,233.5 267.9,234.0 268.2,233.8 268.5,234.9 268.8,235.4 269.1,233.3 269.4,234.5 269.7,233.9 270.0,235.8 270.4,234.5 270.7,235.1 271.0,232.1 271.3,235.2 271.6,234.8 271.9,233.3 272.2,232.7 272.5,235.3 272.8,233.5 273.1,232.9 273.4,235.0 273.7,233.2 274.0,234.3 274.3,234.6 274.6,234.1 274.9,234.1 275.2,235.0 275.5,232.2 275.8,234.4 276.1,234.7 276.5,233.3 276.8,234.0 277.1,232.2 277.4,233.0 277.7,232.6 278.0,233.1 278.3,233.1 278.6,233.3 278.9,233.3 279.2,231.5 279.5,233.3 279.8,233.2 280.1,233.0 280.4,232.7 280.7,232.8 281.0,232.6 281.3,234.3 281.6,232.9 281.9,233.5 282.3,234.1 282.6,234.0 282.9,236.3 283.2,235.2 283.5,235.2 283.8,236.3 284.1,234.8 284.4,233.6 284.7,235.4 285.0,234.8 285.3,235.1 285.6,235.5 285.9,235.3 286.2,234.6 286.5,231.4 286.8,233.1 287.1,234.6 287.4,233.1 287.7,234.4 288.1,233.1 288.4,234.0 288.7,234.8 289.0,235.2 289.3,233.0 289.6,235.6 289.9,233.9 290.2,235.5 290.5,234.2 290.8,233.6 291.1,234.3 291.4,235.1 291.7,233.7 292.0,233.3 292.3,234.1 292.6,233.5 292.9,232.4 293.2,233.8 293.5,232.8 293.9,233.8 294.2,232.5 294.5,233.0 294.8,231.4 295.1,233.1 295.4,233.6 295.7,233.0 296.0,234.9 296.3,232.9 296.6,234.0 296.9,234.3 297.2,232.9 297.5,233.8 297.8,233.1 298.1,234.8 298.4,233.2 298.7,233.5 299.0,233.1 299.3,234.6 299.6,232.9 300.0,233.9 300.3,235.0 300.6,234.9 300.9,234.6 301.2,232.5 301.5,233.8 301.8,234.0 302.1,233.5 302.4,234.2 302.7,233.8 303.0,232.9 303.3,232.8 303.6,232.6 303.9,234.4 304.2,233.9 304.5,234.6 304.8,234.3 305.1,234.5 305.4,235.1 305.8,234.6 306.1,233.3 306.4,234.4 306.7,235.1 307.0,233.6 307.3,233.3 307.6,234.3 307.9,233.7 308.2,234.1 308.5,233.4 308.8,232.7 309.1,233.0 309.4,233.9 309.7,234.3 310.0,235.6 310.3,234.0 310.6,234.1 310.9,233.6 311.2,232.8 311.6,234.1 311.9,233.6 312.2,235.6 312.5,233.1 312.8,233.6 313.1,232.8 313.4,233.5 313.7,233.6 314.0,232.7 314.3,234.0 314.6,232.1 314.9,229.8 315.2,227.8 315.5,224.7 315.8,223.0 315.8,221.5 316.1,223.9 316.4,226.5 316.7,229.7 317.0,232.7 317.4,232.4 317.7,232.0 318.0,233.0 318.3,233.0 318.6,233.9 318.9,232.5 319.2,232.1 319.5,234.9 319.8,233.3 320.1,233.1 320.4,234.0 320.7,233.6 321.0,234.5 321.3,234.2 321.6,233.7 321.9,233.1 322.2,233.6 322.5,233.3 322.8,233.5 323.1,234.8 323.5,232.2 323.8,232.9 324.1,234.8 324.4,232.8 324.7,233.8 325.0,234.2 325.3,232.8 325.6,236.5 325.9,235.8 326.2,233.5 326.5,234.2 326.8,234.8 327.1,233.3 327.4,233.8 327.7,235.2 328.0,234.7 328.3,235.1 328.6,232.4 328.9,235.3 329.3,233.5 329.6,234.1 329.9,235.4 330.2,234.4 330.5,234.9 330.8,234.0 331.1,232.5 331.4,233.1 331.7,232.9 332.0,233.0 332.3,233.3 332.6,233.0 332.9,234.8 333.2,234.1 333.5,233.0 333.8,234.2 334.1,234.4 334.4,233.2 334.7,232.7 335.1,234.2 335.4,234.5 335.7,233.3 336.0,233.5 336.3,234.2 336.6,232.9 336.9,233.1 337.2,233.5 337.5,231.1 337.8,232.5 338.1,232.5 338.4,232.3 338.7,230.9 339.0,232.5 339.3,234.1 339.6,233.4 339.9,233.4 340.2,233.7 340.5,233.2 340.9,233.4 341.2,233.7 341.5,233.6 341.8,232.9 342.1,235.2 342.4,233.6 342.7,234.1 343.0,234.0 343.3,236.0 343.6,233.0 343.9,235.9 344.2,235.2 344.5,233.5 344.8,234.3 345.1,234.1 345.4,235.8 345.7,234.6 346.0,234.2 346.3,233.7 346.7,233.9 347.0,233.2 347.3,233.1 347.6,233.8 347.9,233.3 348.2,231.6 348.5,233.8 348.8,232.3 349.1,233.1 349.4,231.8 349.7,233.3 350.0,232.2 350.3,233.0 350.6,234.0 350.9,233.3 351.2,234.9 351.5,234.3 351.8,234.6 352.1,233.8 352.4,234.2 352.8,235.3 353.1,234.5 353.4,233.9 353.7,234.7 354.0,232.7 354.3,233.1 354.6,232.7 354.9,233.2 355.2,233.2 355.5,232.1 355.8,234.2 356.1,233.0 356.4,232.7 356.7,233.0 357.0,232.6 357.3,233.6 357.6,232.5 357.9,233.3 358.2,233.3 358.6,231.4 358.9,233.2 359.2,234.4 359.5,232.0 359.8,233.4 360.1,235.8 360.4,233.4 360.7,233.1 361.0,233.3 361.3,232.2 361.6,234.2 361.9,234.0 362.2,235.6 362.5,234.6 362.8,232.8 363.1,233.5 363.4,233.9 363.7,235.7 364.0,234.4 364.4,235.3 364.7,233.8 365.0,235.2 365.3,233.8 365.6,235.1 365.9,232.4 366.2,234.5 366.5,234.5 366.8,232.4 367.1,234.5 367.4,235.2 367.7,233.5 368.0,232.8 368.3,232.9 368.6,235.2 368.9,233.7 369.2,235.0 369.5,232.0 369.8,233.7 370.2,233.7 370.5,232.7 370.8,232.9 371.1,234.3 371.4,232.5 371.7,233.9 372.0,234.9 372.3,232.2 372.6,231.9 372.9,232.6 373.2,233.2 373.5,234.5 373.8,233.1 374.1,232.5 374.4,233.0 374.7,232.6 375.0,234.4 375.3,233.2 375.6,233.3 375.9,235.3 376.3,235.5 376.6,234.5 376.9,234.2 377.2,233.7 377.5,234.5 377.8,234.2 378.1,234.0 378.4,233.6 378.7,233.1 379.0,233.4 379.3,234.3 379.6,234.1 379.9,233.6 380.2,234.3 380.5,235.0 380.8,233.2 381.1,234.1 381.4,233.8 381.7,234.7 382.1,234.4 382.4,234.1 382.7,233.8 383.0,234.1 383.3,234.2 383.6,233.0 383.9,232.7 384.2,232.5 384.5,231.3 384.8,232.5 385.1,233.9 385.4,232.3 385.7,233.4 386.0,232.9 386.3,231.1 386.6,231.4 386.9,232.5 387.2,232.9 387.5,232.4 387.9,233.5 388.2,232.7 388.5,233.2 388.8,231.8 389.1,234.3 389.4,232.9 389.7,234.2 390.0,233.1 390.3,234.1 390.6,232.6 390.9,233.0 391.2,233.2 391.5,232.6 391.8,231.8 392.1,232.3 392.4,231.0 392.7,231.8 393.0,234.4 393.3,233.0 393.7,234.2 394.0,233.3 394.3,232.7 394.6,234.6 394.9,234.6 395.2,233.7 395.5,234.0 395.8,232.5 396.1,233.6" stroke="#FF00FF" stroke-width="1.35" fill="none" stroke-linejoin="bevel"/>
<polyline points="79.6,258.2 79.9,262.1 80.2,263.4 80.5,264.3 80.8,265.1 81.1,261.9 81.4,259.0 81.7,263.4 82.0,261.8 82.3,263.9 82.7,258.5 83.0,256.5 83.3,254.5 83.3,253.4 83.6,253.3 83.9,257.6 84.2,260.6 84.5,263.5 84.8,264.0 85.1,264.0 85.4,265.7 85.7,260.2 86.0,262.9 86.3,258.1 86.6,262.6 86.9,259.9 87.2,264.0 87.5,261.0 87.8,261.7 88.1,262.5 88.5,265.5 88.8,260.6 89.1,262.6 89.4,262.1 89.7,261.5 90.0,261.5 90.3,259.3 90.6,261.6 90.9,260.9 91.2,260.5 91.5,260.9 91.8,260.0 92.1,261.5 92.4,259.4 92.7,261.3 93.0,262.6 93.3,260.9 93.6,259.2 93.9,262.0 94.2,262.5 94.6,262.2 94.9,261.4 95.2,261.8 95.5,260.7 95.8,263.0 96.1,259.1 96.4,260.7 96.7,262.6 97.0,259.2 97.3,260.6 97.6,258.6 97.9,261.5 98.2,257.5 98.5,256.7 98.8,263.0 99.1,259.7 99.4,261.0 99.7,261.8 100.0,260.9 100.4,263.5 100.7,260.1 101.0,261.4 101.3,261.3 101.6,259.0 101.9,260.4 102.2,260.9 102.5,260.7 102.8,259.4 103.1,258.6 103.4,260.8 103.7,262.2 104.0,259.5 104.3,260.9 104.6,260.5 104.9,258.2 105.2,263.0 105.5,261.5 105.8,264.2 106.2,263.0 106.5,262.2 106.8,261.7 107.1,264.8 107.4,261.3 107.7,261.1 108.0,262.2 108.3,259.1 108.6,262.2 108.9,267.5 109.2,261.4 109.5,264.5 109.8,260.4 110.1,261.1 110.4,261.5 110.7,260.2 111.0,260.7 111.3,258.9 111.6,261.7 112.0,262.4 112.3,263.9 112.6,261.5 112.9,263.2 113.2,261.7 113.5,260.5 113.8,261.6 114.1,262.8 114.4,260.5 114.7,262.5 115.0,262.3 115.3,261.7 115.6,264.3 115.9,263.0 116.2,259.2 116.5,262.8 116.8,263.6 117.1,263.3 117.4,263.5 117.8,264.2 118.1,263.0 118.4,262.1 118.7,261.7 119.0,260.2 119.3,263.1 119.6,262.9 119.9,260.1 120.2,261.4 120.5,259.1 120.8,259.8 121.1,261.7 121.4,259.5 121.7,261.2 122.0,260.0 122.3,258.7 122.6,257.9 122.9,260.2 123.2,259.3 123.5,259.4 123.9,258.6 124.2,262.5 124.5,260.3 124.8,259.4 125.1,259.3 125.4,260.1 125.7,258.1 126.0,258.1 126.3,259.4 126.6,259.9 126.9,260.0 127.2,259.8 127.5,258.7 127.8,258.5 128.1,260.8 128.4,261.2 128.7,260.8 129.0,259.2 129.3,260.3 129.7,260.3 130.0,260.4 130.3,260.4 130.6,260.8 130.9,261.7 131.2,261.2 131.5,260.2 131.8,259.5 132.1,260.1 132.4,260.8 132.7,259.0 133.0,260.8 133.3,260.3 133.6,260.7 133.9,261.5 134.2,263.1 134.5,262.3 134.8,262.6 135.1,260.7 135.5,263.2 135.8,263.1 136.1,262.0 136.4,263.0 136.7,262.3 137.0,261.7 137.3,264.7 137.6,263.3 137.9,263.9 138.2,261.2 138.5,263.0 138.8,263.5 139.1,261.8 139.4,263.5 139.7,262.5 140.0,262.0 140.3,262.9 140.6,261.1 140.9,261.5 141.3,260.7 141.6,261.1 141.9,261.9 142.2,261.4 142.5,260.3 142.8,261.9 143.1,259.8 143.4,259.4 143.7,260.5 144.0,261.3 144.3,260.8 144.6,260.4 144.9,260.7 145.2,259.5 145.5,262.0 145.8,260.7 146.1,260.9 146.4,261.5 146.7,262.4 147.0,263.1 147.4,262.3 147.7,260.5 148.0,260.1 148.3,262.4 148.6,261.0 148.9,260.9 149.2,260.2 149.5,260.8 149.8,260.6 150.1,260.4 150.4,262.4 150.7,261.3 151.0,262.9 151.3,262.9 151.6,261.8 151.9,262.0 152.2,260.1 152.5,259.6 152.8,260.5 153.2,260.6 153.5,260.5 153.8,260.7 154.1,260.1 154.4,259.5 154.7,260.7 155.0,260.6 155.3,260.2 155.6,259.4 155.9,260.7 156.2,258.7 156.5,260.4 156.8,259.1 157.1,261.4 157.4,260.5 157.7,259.4 158.0,260.0 158.3,260.7 158.6,259.1 159.0,261.1 159.3,258.3 159.6,261.8 159.9,259.7 160.2,260.4 160.5,260.6 160.8,262.6 161.1,260.6 161.4,261.5 161.7,260.8 162.0,260.2 162.3,262.0 162.6,261.3 162.9,260.2 163.2,261.3 163.5,261.7 163.8,262.4 164.1,262.3 164.4,262.5 164.8,260.4 165.1,261.3 165.4,261.8 165.7,260.8 166.0,262.1 166.3,263.8 166.6,260.1 166.9,259.7 167.2,259.1 167.5,261.9 167.8,261.0 168.1,261.6 168.4,262.2 168.7,261.7 169.0,261.7 169.3,261.5 169.6,260.7 169.9,261.1 170.2,261.6 170.5,260.7 170.9,262.1 171.2,259.4 171.5,262.9 171.8,262.1 172.1,261.9 172.4,261.7 172.7,261.9 173.0,260.8 173.3,262.7 173.6,261.5 173.9,260.9 174.2,261.9 174.5,262.4 174.8,260.3 175.1,261.4 175.4,261.3 175.7,260.6 176.0,260.5 176.3,260.3 176.7,261.0 177.0,260.7 177.3,260.9 177.6,260.7 177.9,259.9 178.2,261.3 178.5,258.9 178.8,260.8 179.1,259.9 179.4,260.9 179.7,261.4 180.0,262.9 180.3,259.9 180.6,262.1 180.9,262.4 181.2,261.0 181.5,261.8 181.8,260.6 182.1,260.8 182.5,262.1 182.8,265.0 183.1,261.5 183.4,263.0 183.7,261.8 184.0,261.6 184.3,261.8 184.6,260.9 184.9,262.2 185.2,260.0 185.5,259.8 185.8,262.1 186.1,260.4 186.4,259.5 186.7,260.4 187.0,262.3 187.3,261.9 187.6,260.2 187.9,258.3 188.3,258.6 188.6,256.0 188.6,255.9 188.9,258.1 189.2,259.2 189.5,260.0 189.8,260.7 190.1,261.3 190.4,258.5 190.7,260.3 191.0,260.1 191.3,258.7 191.6,259.8 191.9,259.7 192.2,258.9 192.5,260.1 192.8,259.1 193.1,258.6 193.4,259.1 193.7,259.5 194.1,259.0 194.4,260.9 194.7,259.4 195.0,259.3 195.3,259.0 195.6,257.2 195.9,260.8 196.2,261.8 196.5,261.0 196.8,261.2 197.1,259.9 197.4,261.2 197.7,261.7 198.0,260.7 198.3,261.1 198.6,261.0 198.9,262.4 199.2,261.8 199.5,261.7 199.8,259.8 200.2,260.3 200.5,260.3 200.8,259.9 201.1,261.6 201.4,260.0 201.7,261.0 202.0,262.5 202.3,260.3 202.6,262.6 202.9,261.9 203.2,261.0 203.5,260.1 203.8,260.5 204.1,262.0 204.4,260.6 204.7,260.7 205.0,257.9 205.3,259.0 205.6,259.3 206.0,260.6 206.3,259.8 206.6,260.9 206.9,259.7 207.2,259.9 207.5,260.8 207.8,260.4 208.1,260.7 208.4,260.8 208.7,259.6 209.0,260.7 209.3,261.9 209.6,262.3 209.9,261.5 210.2,261.6 210.5,261.7 210.8,261.0 211.1,261.7 211.4,262.7 211.8,259.6 212.1,260.2 212.4,260.3 212.7,259.5 213.0,261.9 213.3,260.7 213.6,260.7 213.9,259.2 214.2,260.6 214.5,260.2 214.8,258.4 215.1,259.2 215.4,260.1 215.7,258.3 216.0,260.9 216.3,259.4 216.6,260.1 216.9,259.9 217.2,260.7 217.6,261.0 217.9,259.9 218.2,261.3 218.5,260.0 218.8,260.8 219.1,259.8 219.4,261.0 219.7,261.4 220.0,260.4 220.3,259.9 220.6,262.4 220.9,260.6 221.2,260.3 221.5,262.5 221.8,261.8 222.1,260.1 222.4,261.5 222.7,261.6 223.0,259.5 223.3,261.2 223.7,261.3 224.0,262.4 224.3,261.5 224.6,261.2 224.9,258.7 225.2,258.8 225.5,260.7 225.8,258.8 226.1,260.0 226.4,260.6 226.7,259.7 227.0,260.8 227.3,261.6 227.6,262.2 227.9,261.5 228.2,261.3 228.5,261.7 228.8,262.2 229.1,261.1 229.5,262.4 229.8,258.2 230.1,261.2 230.4,261.2 230.7,261.9 231.0,260.8 231.3,261.4 231.6,262.0 231.9,260.4 232.2,260.2 232.5,259.5 232.8,259.8 233.1,261.1 233.4,260.9 233.7,262.8 234.0,261.8 234.3,259.8 234.6,259.9 234.9,260.6 235.3,261.1 235.6,260.8 235.9,261.2 236.2,262.8 236.5,262.2 236.8,260.2 237.1,260.0 237.4,260.7 237.7,260.7 238.0,260.7 238.3,260.9 238.6,261.5 238.9,262.5 239.2,260.6 239.5,261.0 239.8,260.7 240.1,259.3 240.4,260.2 240.7,261.8 241.1,260.8 241.4,262.5 241.7,260.5 242.0,260.8 242.3,261.2 242.6,260.4 242.9,259.6 243.2,260.8 243.5,261.4 243.8,258.9 244.1,260.8 244.4,259.4 244.7,261.0 245.0,260.1 245.3,260.8 245.6,260.2 245.9,260.9 246.2,261.5 246.5,260.3 246.8,261.6 247.2,263.4 247.5,261.3 247.8,261.6 248.1,261.9 248.4,261.2 248.7,261.3 249.0,260.9 249.3,261.2 249.6,261.7 249.9,260.3 250.2,259.0 250.5,261.0 250.8,259.5 251.1,260.2 251.4,261.0 251.7,260.4 252.0,261.4 252.3,261.3 252.6,261.7 253.0,260.8 253.3,260.5 253.6,262.5 253.9,261.1 254.2,263.3 254.5,262.1 254.8,262.3 255.1,260.2 255.4,262.1 255.7,261.4 256.0,263.6 256.3,262.4 256.6,262.0 256.9,262.7 257.2,264.8 257.5,262.5 257.8,262.4 258.1,262.2 258.4,262.5 258.8,264.3 259.1,263.1 259.4,261.7 259.7,262.5 260.0,260.1 260.3,259.5 260.5,257.9 260.6,258.1 260.9,258.6 261.2,261.0 261.5,258.5 261.8,260.7 262.1,260.5 262.4,261.4 262.7,260.4 263.0,260.6 263.3,261.9 263.6,261.9 263.9,260.9 264.2,260.7 264.6,262.5 264.9,262.0 265.2,260.8 265.5,260.1 265.8,259.8 266.1,261.3 266.4,260.0 266.7,260.9 267.0,261.2 267.3,260.9 267.6,259.6 267.9,260.1 268.2,259.9 268.5,261.0 268.8,260.6 269.1,261.6 269.4,261.0 269.7,260.4 270.0,260.8 270.4,259.5 270.7,259.4 271.0,259.1 271.3,259.6 271.6,258.9 271.9,259.5 272.2,259.2 272.5,259.6 272.8,259.8 273.1,260.2 273.4,261.5 273.7,261.4 274.0,258.9 274.3,260.3 274.6,260.4 274.9,260.8 275.2,260.9 275.5,258.3 275.8,261.3 276.1,260.5 276.5,260.3 276.8,261.6 277.1,261.8 277.4,261.3 277.7,261.3 278.0,261.5 278.3,260.4 278.6,261.7 278.9,260.7 279.2,259.8 279.5,260.3 279.8,261.9 280.1,263.8 280.4,261.0 280.7,261.1 281.0,262.1 281.3,260.6 281.6,262.1 281.9,261.9 282.3,263.1 282.6,261.9 282.9,262.1 283.2,262.4 283.5,260.9 283.8,261.3 284.1,262.5 284.4,261.0 284.7,260.9 285.0,262.1 285.3,261.6 285.6,261.1 285.9,261.4 286.2,260.8 286.5,261.0 286.8,261.7 287.1,259.2 287.4,261.5 287.7,261.0 288.1,258.5 288.4,258.1 288.7,260.2 289.0,260.2 289.3,260.9 289.6,259.1 289.9,257.5 290.2,260.7 290.5,259.6 290.8,259.3 291.1,259.6 291.4,258.8 291.7,260.0 292.0,260.8 292.3,261.0 292.6,260.8 292.9,260.3 293.2,260.4 293.5,260.3 293.9,260.8 294.2,261.0 294.5,260.5 294.8,261.7 295.1,262.3 295.4,259.5 295.7,260.1 296.0,260.9 296.3,260.2 296.6,260.9 296.9,261.8 297.2,260.7 297.5,261.6 297.8,260.0 298.1,260.2 298.4,259.4 298.7,260.5 299.0,260.5 299.3,261.0 299.6,261.0 300.0,261.5 300.3,259.3 300.6,260.3 300.9,260.9 301.2,260.4 301.5,260.8 301.8,261.3 302.1,260.6 302.4,260.0 302.7,262.3 303.0,262.4 303.3,262.0 303.6,260.5 303.9,262.5 304.2,260.9 304.5,261.9 304.8,261.0 305.1,261.5 305.4,262.5 305.8,261.5 306.1,259.7 306.4,261.6 306.7,260.7 307.0,261.4 307.3,260.9 307.6,260.4 307.9,260.3 308.2,258.9 308.5,261.1 308.8,261.6 309.1,262.0 309.4,260.6 309.7,262.4 310.0,260.6 310.3,262.3 310.6,259.4 310.9,260.1 311.2,261.1 311.6,261.7 311.9,261.0 312.2,260.8 312.5,260.1 312.8,261.2 313.1,261.1 313.4,261.1 313.7,261.3 314.0,262.2 314.3,262.5 314.6,261.7 314.9,258.9 315.2,255.1 315.5,250.5 315.8,249.9 315.8,247.8 316.1,249.9 316.4,254.8 316.7,256.7 317.0,259.7 317.4,260.6 317.7,257.9 318.0,260.9 318.3,260.5 318.6,260.9 318.9,259.7 319.2,261.3 319.5,260.3 319.8,261.4 320.1,261.9 320.4,260.4 320.7,260.9 321.0,261.7 321.3,262.0 321.6,262.1 321.9,260.4 322.2,260.4 322.5,260.6 322.8,257.8 323.1,261.4 323.5,260.0 323.8,260.7 324.1,261.5 324.4,260.7 324.7,260.1 325.0,259.4 325.3,258.6 325.6,261.0 325.9,259.9 326.2,259.7 326.5,260.5 326.8,259.5 327.1,260.6 327.4,261.6 327.7,259.9 328.0,261.9 328.3,260.3 328.6,261.6 328.9,262.0 329.3,262.0 329.6,261.9 329.9,261.7 330.2,261.0 330.5,262.5 330.8,259.7 331.1,259.8 331.4,259.3 331.7,261.4 332.0,262.3 332.3,261.3 332.6,261.1 332.9,261.1 333.2,261.4 333.5,261.1 333.8,261.3 334.1,263.1 334.4,260.8 334.7,263.2 335.1,261.7 335.4,261.0 335.7,262.3 336.0,261.6 336.3,259.9 336.6,261.0 336.9,260.2 337.2,260.7 337.5,260.4 337.8,259.8 338.1,260.6 338.4,260.5 338.7,259.8 339.0,260.3 339.3,260.2 339.6,261.5 339.9,261.0 340.2,260.4 340.5,262.5 340.9,261.1 341.2,261.5 341.5,261.7 341.8,260.9 342.1,260.2 342.4,261.1 342.7,260.2 343.0,261.3 343.3,259.9 343.6,261.3 343.9,260.2 344.2,261.5 344.5,260.4 344.8,260.7 345.1,261.6 345.4,261.0 345.7,261.0 346.0,262.1 346.3,261.7 346.7,261.6 347.0,261.0 347.3,260.9 347.6,261.9 347.9,261.7 348.2,261.2 348.5,261.8 348.8,261.5 349.1,260.8 349.4,261.1 349.7,261.3 350.0,261.4 350.3,259.9 350.6,260.9 350.9,260.1 351.2,261.5 351.5,261.0 351.8,260.3 352.1,260.6 352.4,260.1 352.8,260.6 353.1,261.8 353.4,262.5 353.7,260.0 354.0,261.0 354.3,259.1 354.6,260.1 354.9,260.7 355.2,259.6 355.5,260.1 355.8,259.6 356.1,260.5 356.4,258.9 356.7,258.6 357.0,259.6 357.3,257.9 357.6,259.8 357.9,259.6 358.2,261.7 358.6,262.1 358.9,259.2 359.2,259.8 359.5,260.8 359.8,263.0 360.1,261.9 360.4,261.7 360.7,262.1 361.0,262.0 361.3,263.4 361.6,262.7 361.9,263.2 362.2,262.2 362.5,261.7 362.8,262.5 363.1,261.9 363.4,261.7 363.7,261.2 364.0,260.4 364.4,261.1 364.7,260.9 365.0,262.2 365.3,261.4 365.6,260.3 365.9,261.3 366.2,260.8 366.5,261.2 366.8,259.2 367.1,260.5 367.4,260.6 367.7,259.5 368.0,258.8 368.3,258.8 368.6,258.0 368.9,258.9 369.2,259.3 369.5,260.1 369.8,260.5 370.2,260.9 370.5,260.2 370.8,261.0 371.1,260.9 371.4,261.0 371.7,261.4 372.0,262.8 372.3,262.5 372.6,262.5 372.9,263.2 373.2,261.7 373.5,262.1 373.8,261.9 374.1,261.3 374.4,259.7 374.7,260.4 375.0,259.1 375.3,260.1 375.6,260.8 375.9,259.9 376.3,259.9 376.6,260.1 376.9,260.7 377.2,260.4 377.5,261.0 377.8,260.5 378.1,260.2 378.4,259.4 378.7,259.3 379.0,259.8 379.3,259.2 379.6,259.7 379.9,257.8 380.2,258.8 380.5,258.0 380.8,259.9 381.1,259.9 381.4,259.6 381.7,260.3 382.1,259.8 382.4,260.8 382.7,259.6 383.0,260.3 383.3,259.9 383.6,260.4 383.9,261.9 384.2,260.5 384.5,259.9 384.8,262.2 385.1,261.6 385.4,261.5 385.7,261.9 386.0,263.4 386.3,260.6 386.6,261.1 386.9,262.3 387.2,263.3 387.5,261.2 387.9,260.1 388.2,261.0 388.5,260.8 388.8,262.8 389.1,263.0 389.4,262.8 389.7,259.7 390.0,260.9 390.3,262.8 390.6,262.6 390.9,260.7 391.2,261.0 391.5,260.8 391.8,260.1 392.1,258.3 392.4,259.7 392.7,261.3 393.0,259.9 393.3,260.9 393.7,260.3 394.0,259.9 394.3,260.2 394.6,261.0 394.9,260.3 395.2,261.1 395.5,260.0 395.8,261.0 396.1,260.3" stroke="#808000" stroke-width="1.35" fill="none" stroke-linejoin="bevel"/>
<polyline points="79.6,284.5 79.9,283.0 80.2,284.1 80.5,281.3 80.8,283.6 81.1,285.9 81.4,285.6 81.7,284.6 82.0,284.8 82.3,283.3 82.7,282.5 83.0,276.7 83.3,274.2 83.3,276.0 83.6,275.9 83.9,284.4 84.2,286.8 84.5,286.0 84.8,286.2 85.1,285.4 85.4,285.6 85.7,286.5 86.0,283.2 86.3,283.7 86.6,287.4 86.9,286.0 87.2,285.7 87.5,283.8 87.8,285.4 88.1,287.0 88.5,285.4 88.8,286.6 89.1,285.1 89.4,286.5 89.7,285.6 90.0,285.8 90.3,285.6 90.6,287.3 90.9,284.7 91.2,286.0 91.5,287.4 91.8,286.2 92.1,285.3 92.4,284.3 92.7,284.3 93.0,286.1 93.3,283.9 93.6,284.3 93.9,285.4 94.2,283.8 94.6,285.8 94.9,286.2 95.2,283.6 95.5,283.6 95.8,285.6 96.1,283.8 96.4,284.0 96.7,286.8 97.0,283.3 97.3,286.0 97.6,285.9 97.9,288.4 98.2,284.9 98.5,287.1 98.8,286.1 99.1,288.1 99.4,284.9 99.7,284.6 100.0,283.8 100.4,289.6 100.7,285.6 101.0,286.4 101.3,291.1 101.6,288.1 101.9,286.8 102.2,284.5 102.5,287.2 102.8,286.5 103.1,286.4 103.4,285.6 103.7,286.8 104.0,285.8 104.3,285.2 104.6,288.3 104.9,284.6 105.2,287.9 105.5,287.3 105.8,285.5 106.2,286.4 106.5,285.9 106.8,286.1 107.1,286.4 107.4,287.2 107.7,287.5 108.0,285.6 108.3,285.5 108.6,286.2 108.9,286.3 109.2,285.7 109.5,287.0 109.8,288.7 110.1,286.3 110.4,285.6 110.7,285.2 111.0,287.1 111.3,286.9 111.6,281.9 112.0,286.6 112.3,286.0 112.6,284.3 112.9,284.7 113.2,282.7 113.5,284.9 113.8,283.3 114.1,284.0 114.4,282.1 114.7,285.6 115.0,285.7 115.3,283.9 115.6,286.9 115.9,286.8 116.2,286.4 116.5,286.2 116.8,288.4 117.1,286.4 117.4,287.3 117.8,287.4 118.1,287.2 118.4,287.3 118.7,285.8 119.0,286.7 119.3,286.6 119.6,286.9 119.9,285.7 120.2,285.6 120.5,284.8 120.8,286.4 121.1,286.3 121.4,284.0 121.7,286.2 122.0,284.5 122.3,285.6 122.6,287.2 122.9,288.5 123.2,286.1 123.5,287.8 123.9,287.8 124.2,289.5 124.5,286.6 124.8,287.4 125.1,287.6 125.4,287.4 125.7,287.3 126.0,287.3 126.3,286.5 126.6,286.9 126.9,288.8 127.2,285.4 127.5,286.1 127.8,285.9 128.1,284.0 128.4,287.6 128.7,289.0 129.0,284.1 129.3,285.5 129.7,287.7 130.0,286.1 130.3,285.4 130.6,287.5 130.9,281.8 131.2,283.3 131.5,284.1 131.8,285.9 132.1,285.1 132.4,286.2 132.7,285.0 133.0,285.5 133.3,286.0 133.6,286.4 133.9,283.1 134.2,284.8 134.5,286.3 134.8,286.2 135.1,284.3 135.5,284.0 135.8,286.4 136.1,285.8 136.4,285.2 136.7,286.1 137.0,287.1 137.3,286.8 137.6,285.4 137.9,286.6 138.2,286.8 138.5,285.4 138.8,284.2 139.1,284.1 139.4,284.7 139.7,282.4 140.0,285.5 140.3,284.8 140.6,286.1 140.9,284.3 141.3,285.3 141.6,286.7 141.9,285.7 142.2,283.2 142.5,284.3 142.8,284.9 143.1,284.4 143.4,286.7 143.7,285.5 144.0,286.1 144.3,285.5 144.6,285.5 144.9,285.0 145.2,284.3 145.5,284.7 145.8,282.7 146.1,285.4 146.4,285.4 146.7,285.0 147.0,285.9 147.4,285.7 147.7,284.9 148.0,286.3 148.3,284.6 148.6,283.6 148.9,286.1 149.2,287.0 149.5,285.2 149.8,286.6 150.1,285.3 150.4,285.9 150.7,285.7 151.0,284.9 151.3,285.3 151.6,286.5 151.9,287.4 152.2,288.3 152.5,288.4 152.8,287.2 153.2,286.0 153.5,287.0 153.8,286.5 154.1,287.4 154.4,287.8 154.7,287.6 155.0,282.9 155.3,287.7 155.6,284.9 155.9,286.5 156.2,284.9 156.5,285.7 156.8,285.3 157.1,285.0 157.4,287.4 157.7,287.9 158.0,287.6 158.3,288.1 158.6,286.5 159.0,287.7 159.3,287.6 159.6,287.6 159.9,288.3 160.2,286.6 160.5,289.3 160.8,287.3 161.1,286.8 161.4,288.2 161.7,287.7 162.0,285.9 162.3,287.6 162.6,288.4 162.9,287.9 163.2,286.0 163.5,287.4 163.8,285.2 164.1,284.8 164.4,285.9 164.8,285.1 165.1,286.1 165.4,285.8 165.7,286.6 166.0,285.0 166.3,286.9 166.6,286.0 166.9,285.5 167.2,285.1 167.5,287.3 167.8,287.5 168.1,287.0 168.4,286.4 168.7,285.6 169.0,285.8 169.3,284.1 169.6,285.4 169.9,285.3 170.2,286.0 170.5,284.5 170.9,284.3 171.2,284.7 171.5,285.3 171.8,284.7 172.1,283.7 172.4,286.1 172.7,286.8 173.0,284.0 173.3,284.1 173.6,285.1 173.9,285.6 174.2,283.1 174.5,286.6 174.8,286.9 175.1,286.3 175.4,285.2 175.7,286.6 176.0,286.8 176.3,286.5 176.7,287.0 177.0,286.4 177.3,286.2 177.6,286.8 177.9,285.4 178.2,286.2 178.5,284.5 178.8,286.4 179.1,285.8 179.4,287.1 179.7,285.7 180.0,286.2 180.3,283.7 180.6,285.1 180.9,284.9 181.2,286.9 181.5,286.7 181.8,285.9 182.1,287.1 182.5,285.0 182.8,286.8 183.1,285.9 183.4,285.9 183.7,286.3 184.0,285.5 184.3,287.1 184.6,286.1 184.9,285.7 185.2,286.4 185.5,286.3 185.8,286.6 186.1,286.3 186.4,285.9 186.7,286.6 187.0,287.7 187.3,286.6 187.6,286.4 187.9,285.3 188.3,283.7 188.6,280.8 188.6,282.0 188.9,284.2 189.2,285.7 189.5,285.6 189.8,287.3 190.1,285.9 190.4,286.5 190.7,288.0 191.0,285.4 191.3,285.1 191.6,286.3 191.9,287.7 192.2,286.1 192.5,287.5 192.8,286.5 193.1,285.8 193.4,286.4 193.7,287.3 194.1,285.8 194.4,285.7 194.7,286.4 195.0,286.0 195.3,284.5 195.6,285.2 195.9,285.4 196.2,285.4 196.5,285.5 196.8,285.6 197.1,285.5 197.4,286.4 197.7,285.8 198.0,285.8 198.3,284.7 198.6,284.0 198.9,284.1 199.2,284.5 199.5,285.2 199.8,286.0 200.2,285.2 200.5,285.9 200.8,286.2 201.1,286.4 201.4,285.7 201.7,286.3 202.0,285.0 202.3,286.1 202.6,286.8 202.9,285.8 203.2,286.7 203.5,285.3 203.8,285.3 204.1,283.5 204.4,286.6 204.7,285.9 205.0,285.9 205.3,285.6 205.6,285.4 206.0,286.8 206.3,286.3 206.6,285.3 206.9,284.9 207.2,286.8 207.5,287.0 207.8,285.2 208.1,285.6 208.4,285.3 208.7,287.2 209.0,286.3 209.3,286.0 209.6,285.8 209.9,286.5 210.2,286.4 210.5,285.2 210.8,286.2 211.1,286.2 211.4,286.0 211.8,286.1 212.1,286.0 212.4,286.1 212.7,286.6 213.0,285.0 213.3,286.4 213.6,287.0 213.9,285.8 214.2,287.5 214.5,287.4 214.8,287.7 215.1,287.5 215.4,287.1 215.7,286.3 216.0,288.1 216.3,287.2 216.6,286.6 216.9,287.5 217.2,285.9 217.6,284.0 217.9,285.4 218.2,285.6 218.5,285.9 218.8,285.8 219.1,285.6 219.4,286.4 219.7,284.1 220.0,285.9 220.3,284.5 220.6,284.7 220.9,286.1 221.2,284.7 221.5,285.0 221.8,286.2 222.1,283.5 222.4,285.3 222.7,286.2 223.0,286.5 223.3,286.9 223.7,286.1 224.0,286.3 224.3,287.3 224.6,287.2 224.9,287.4 225.2,286.9 225.5,286.9 225.8,286.7 226.1,285.2 226.4,284.5 226.7,285.1 227.0,287.3 227.3,285.7 227.6,285.6 227.9,285.8 228.2,285.4 228.5,285.3 228.8,286.6 229.1,287.1 229.5,285.2 229.8,286.4 230.1,286.2 230.4,286.6 230.7,286.4 231.0,285.1 231.3,286.9 231.6,284.0 231.9,286.8 232.2,285.9 232.5,285.8 232.8,286.1 233.1,286.4 233.4,287.7 233.7,286.3 234.0,285.6 234.3,285.2 234.6,284.4 234.9,285.8 235.3,287.3 235.6,287.0 235.9,286.4 236.2,285.7 236.5,287.4 236.8,286.0 237.1,286.2 237.4,287.1 237.7,286.4 238.0,287.6 238.3,287.0 238.6,287.3 238.9,286.5 239.2,287.4 239.5,286.0 239.8,287.9 240.1,286.3 240.4,286.2 240.7,284.4 241.1,285.5 241.4,286.1 241.7,286.6 242.0,286.0 242.3,286.1 242.6,284.0 242.9,288.3 243.2,286.4 243.5,288.4 243.8,285.9 244.1,287.4 244.4,285.9 244.7,287.6 245.0,286.3 245.3,286.8 245.6,286.2 245.9,287.4 246.2,290.1 246.5,288.3 246.8,288.8 247.2,286.8 247.5,286.9 247.8,287.0 248.1,286.5 248.4,286.6 248.7,286.9 249.0,284.7 249.3,285.6 249.6,285.9 249.9,286.6 250.2,285.4 250.5,285.0 250.8,284.7 251.1,285.1 251.4,284.7 251.7,285.5 252.0,284.5 252.3,286.1 252.6,286.0 253.0,285.7 253.3,284.6 253.6,285.2 253.9,285.7 254.2,286.6 254.5,286.0 254.8,285.3 255.1,284.7 255.4,286.8 255.7,285.8 256.0,285.0 256.3,284.7 256.6,285.5 256.9,284.8 257.2,286.4 257.5,284.1 257.8,285.9 258.1,285.1 258.4,284.2 258.8,284.4 259.1,284.3 259.4,284.8 259.7,284.5 260.0,285.2 260.3,283.2 260.5,283.0 260.6,281.7 260.9,284.5 261.2,286.2 261.5,287.0 261.8,285.6 262.1,286.1 262.4,287.2 262.7,287.0 263.0,286.6 263.3,286.2 263.6,288.5 263.9,283.9 264.2,286.9 264.6,286.7 264.9,286.9 265.2,286.8 265.5,286.1 265.8,288.3 266.1,283.8 266.4,285.6 266.7,285.9 267.0,287.3 267.3,286.5 267.6,283.4 267.9,285.3 268.2,286.4 268.5,287.6 268.8,286.4 269.1,286.9 269.4,285.9 269.7,287.4 270.0,286.8 270.4,286.0 270.7,286.2 271.0,285.0 271.3,287.0 271.6,287.5 271.9,286.5 272.2,285.2 272.5,286.1 272.8,286.0 273.1,285.3 273.4,285.5 273.7,285.5 274.0,284.8 274.3,285.3 274.6,284.2 274.9,284.4 275.2,284.7 275.5,284.8 275.8,285.1 276.1,284.8 276.5,285.0 276.8,285.7 277.1,285.2 277.4,285.1 277.7,284.7 278.0,285.2 278.3,284.1 278.6,285.6 278.9,285.1 279.2,285.8 279.5,286.2 279.8,285.3 280.1,285.1 280.4,285.3 280.7,286.0 281.0,286.4 281.3,286.8 281.6,286.5 281.9,285.5 282.3,285.4 282.6,288.6 282.9,285.6 283.2,285.2 283.5,284.8 283.8,285.3 284.1,285.0 284.4,285.7 284.7,285.8 285.0,285.4 285.3,286.1 285.6,286.1 285.9,285.1 286.2,286.4 286.5,285.3 286.8,286.2 287.1,285.3 287.4,285.4 287.7,285.8 288.1,286.1 288.4,285.7 288.7,286.8 289.0,285.6 289.3,285.4 289.6,284.6 289.9,285.8 290.2,285.6 290.5,284.4 290.8,284.1 291.1,286.1 291.4,285.0 291.7,284.9 292.0,285.3 292.3,286.5 292.6,286.2 292.9,284.8 293.2,283.5 293.5,285.8 293.9,284.6 294.2,284.6 294.5,286.9 294.8,286.4 295.1,284.8 295.4,286.1 295.7,284.9 296.0,285.5 296.3,285.3 296.6,286.1 296.9,283.7 297.2,286.3 297.5,286.9 297.8,285.8 298.1,285.2 298.4,287.0 298.7,286.6 299.0,287.5 299.3,287.1 299.6,287.8 300.0,287.7 300.3,288.4 300.6,288.0 300.9,285.9 301.2,286.8 301.5,286.4 301.8,284.1 302.1,285.9 302.4,286.4 302.7,285.3 303.0,286.9 303.3,285.8 303.6,285.5 303.9,287.0 304.2,286.3 304.5,285.1 304.8,287.4 305.1,287.3 305.4,286.9 305.8,287.3 306.1,287.5 306.4,285.7 306.7,287.1 307.0,286.4 307.3,286.6 307.6,286.4 307.9,287.1 308.2,284.7 308.5,286.0 308.8,284.5 309.1,286.4 309.4,285.9 309.7,285.6 310.0,285.7 310.3,286.0 310.6,285.8 310.9,286.8 311.2,286.2 311.6,288.5 311.9,286.6 312.2,285.6 312.5,286.2 312.8,286.1 313.1,287.1 313.4,286.2 313.7,286.7 314.0,286.7 314.3,286.6 314.6,288.7 314.9,284.1 315.2,282.3 315.5,280.0 315.8,278.0 315.8,280.5 316.1,280.0 316.4,283.0 316.7,287.1 317.0,288.4 317.4,287.5 317.7,288.1 318.0,287.0 318.3,287.3 318.6,285.6 318.9,288.0 319.2,287.3 319.5,286.9 319.8,287.7 320.1,287.0 320.4,286.8 320.7,287.0 321.0,285.6 321.3,285.2 321.6,285.7 321.9,285.1 322.2,283.7 322.5,286.7 322.8,285.0 323.1,285.6 323.5,284.7 323.8,286.3 324.1,287.6 324.4,287.4 324.7,286.1 325.0,285.8 325.3,285.9 325.6,284.6 325.9,286.1 326.2,285.7 326.5,284.2 326.8,285.3 327.1,285.1 327.4,284.5 327.7,284.7 328.0,286.1 328.3,285.6 328.6,286.8 328.9,286.2 329.3,285.9 329.6,290.3 329.9,285.1 330.2,284.9 330.5,285.9 330.8,285.4 331.1,284.4 331.4,286.0 331.7,285.1 332.0,285.9 332.3,286.0 332.6,286.6 332.9,286.1 333.2,285.5 333.5,286.4 333.8,285.9 334.1,287.0 334.4,287.3 334.7,285.0 335.1,284.5 335.4,285.9 335.7,285.9 336.0,285.5 336.3,287.1 336.6,286.7 336.9,287.3 337.2,285.7 337.5,285.8 337.8,286.3 338.1,286.8 338.4,287.7 338.7,286.9 339.0,285.6 339.3,287.1 339.6,285.5 339.9,287.2 340.2,286.5 340.5,286.6 340.9,286.2 341.2,285.7 341.5,287.8 341.8,285.6 342.1,285.5 342.4,286.1 342.7,286.5 343.0,286.7 343.3,286.0 343.6,286.9 343.9,287.7 344.2,287.0 344.5,286.5 344.8,286.7 345.1,287.0 345.4,286.9 345.7,287.4 346.0,287.2 346.3,287.7 346.7,286.8 347.0,285.8 347.3,286.5 347.6,287.2 347.9,285.5 348.2,285.9 348.5,286.1 348.8,286.1 349.1,285.8 349.4,286.5 349.7,287.2 350.0,285.8 350.3,286.7 350.6,287.1 350.9,286.3 351.2,285.4 351.5,287.3 351.8,285.2 352.1,285.9 352.4,283.9 352.8,284.9 353.1,285.7 353.4,284.7 353.7,284.6 354.0,285.4 354.3,285.2 354.6,285.7 354.9,284.7 355.2,287.0 355.5,286.7 355.8,288.1 356.1,286.1 356.4,288.5 356.7,287.6 357.0,286.4 357.3,286.5 357.6,287.0 357.9,287.3 358.2,287.1 358.6,287.8 358.9,285.9 359.2,284.9 359.5,285.3 359.8,285.9 360.1,285.1 360.4,285.4 360.7,285.0 361.0,285.7 361.3,285.8 361.6,286.9 361.9,288.2 362.2,285.6 362.5,286.2 362.8,284.8 363.1,287.9 363.4,285.6 363.7,286.8 364.0,286.3 364.4,286.8 364.7,285.7 365.0,286.1 365.3,284.9 365.6,285.3 365.9,285.3 366.2,284.8 366.5,285.0 366.8,285.6 367.1,287.4 367.4,285.9 367.7,285.3 368.0,286.1 368.3,286.3 368.6,288.0 368.9,285.5 369.2,287.2 369.5,285.9 369.8,285.1 370.2,288.1 370.5,286.4 370.8,287.1 371.1,286.7 371.4,287.9 371.7,286.4 372.0,286.8 372.3,286.1 372.6,285.4 372.9,286.8 373.2,287.1 373.5,285.1 373.8,286.5 374.1,286.1 374.4,285.9 374.7,285.5 375.0,285.5 375.3,286.9 375.6,286.3 375.9,285.0 376.3,285.3 376.6,288.5 376.9,285.7 377.2,286.5 377.5,285.8 377.8,287.3 378.1,286.7 378.4,287.4 378.7,287.3 379.0,286.8 379.3,286.5 379.6,286.4 379.9,286.3 380.2,286.5 380.5,286.7 380.8,286.5 381.1,285.9 381.4,287.3 381.7,284.9 382.1,285.3 382.4,285.7 382.7,285.2 383.0,283.6 383.3,284.7 383.6,285.6 383.9,285.1 384.2,285.8 384.5,285.7 384.8,286.8 385.1,285.5 385.4,286.2 385.7,285.8 386.0,284.3 386.3,284.8 386.6,286.5 386.9,286.6 387.2,286.6 387.5,287.0 387.9,286.2 388.2,285.6 388.5,286.4 388.8,285.0 389.1,285.7 389.4,285.9 389.7,283.9 390.0,284.9 390.3,285.0 390.6,284.0 390.9,284.3 391.2,286.1 391.5,285.1 391.8,285.8 392.1,286.3 392.4,284.0 392.7,284.6 393.0,286.7 393.3,285.6 393.7,287.2 394.0,285.1 394.3,285.4 394.6,285.5 394.9,284.2 395.2,285.5 395.5,285.5 395.8,284.8 396.1,285.6" stroke="#000080" stroke-width="1.35" fill="none" stroke-linejoin="bevel"/>
<line x1="80.8" y1="299.3" x2="80.8" y2="308.1" stroke="#008080" stroke-width="1.6" />
<line x1="82.2" y1="299.3" x2="82.2" y2="308.1" stroke="#008080" stroke-width="1.6" />
<line x1="83.6" y1="299.3" x2="83.6" y2="308.1" stroke="#008080" stroke-width="1.6" />
<line x1="85" y1="299.3" x2="85" y2="308.1" stroke="#008080" stroke-width="1.6" />
<line x1="86.4" y1="299.3" x2="86.4" y2="308.1" stroke="#008080" stroke-width="1.6" />
<line x1="87.8" y1="299.3" x2="87.8" y2="308.1" stroke="#008080" stroke-width="1.6" />
<line x1="89.2" y1="299.3" x2="89.2" y2="308.1" stroke="#008080" stroke-width="1.6" />
<line x1="90.6" y1="299.3" x2="90.6" y2="308.1" stroke="#008080" stroke-width="1.6" />
<line x1="92.6" y1="299.3" x2="92.6" y2="308.1" stroke="#008080" stroke-width="1.6" />
<line x1="96.5" y1="299.3" x2="96.5" y2="308.1" stroke="#008080" stroke-width="1.6" />
<line x1="99.1" y1="299.3" x2="99.1" y2="308.1" stroke="#008080" stroke-width="1.6" />
<line x1="101.1" y1="299.3" x2="101.1" y2="308.1" stroke="#008080" stroke-width="1.6" />
<line x1="105" y1="299.3" x2="105" y2="308.1" stroke="#008080" stroke-width="1.6" />
<line x1="107.6" y1="299.3" x2="107.6" y2="308.1" stroke="#008080" stroke-width="1.6" />
<line x1="109.2" y1="299.3" x2="109.2" y2="308.1" stroke="#008080" stroke-width="1.6" />
<line x1="112.2" y1="299.3" x2="112.2" y2="308.1" stroke="#008080" stroke-width="1.6" />
<line x1="114.8" y1="299.3" x2="114.8" y2="308.1" stroke="#008080" stroke-width="1.6" />
<line x1="117.4" y1="299.3" x2="117.4" y2="308.1" stroke="#008080" stroke-width="1.6" />
<line x1="120.6" y1="299.3" x2="120.6" y2="308.1" stroke="#008080" stroke-width="1.6" />
<line x1="127.8" y1="299.3" x2="127.8" y2="308.1" stroke="#008080" stroke-width="1.6" />
<line x1="132.4" y1="299.3" x2="132.4" y2="308.1" stroke="#008080" stroke-width="1.6" />
<line x1="137.3" y1="299.3" x2="137.3" y2="308.1" stroke="#008080" stroke-width="1.6" />
<line x1="142.5" y1="299.3" x2="142.5" y2="308.1" stroke="#008080" stroke-width="1.6" />
<line x1="149.1" y1="299.3" x2="149.1" y2="308.1" stroke="#008080" stroke-width="1.6" />
<line x1="156.5" y1="299.3" x2="156.5" y2="308.1" stroke="#008080" stroke-width="1.6" />
<line x1="165" y1="299.3" x2="165" y2="308.1" stroke="#008080" stroke-width="1.6" />
<line x1="188.5" y1="299.3" x2="188.5" y2="308.1" stroke="#008080" stroke-width="1.6" />
<line x1="204.9" y1="299.3" x2="204.9" y2="308.1" stroke="#008080" stroke-width="1.6" />
<line x1="227.4" y1="299.3" x2="227.4" y2="308.1" stroke="#008080" stroke-width="1.6" />
<line x1="260.7" y1="299.3" x2="260.7" y2="308.1" stroke="#008080" stroke-width="1.6" />
<line x1="316" y1="299.3" x2="316" y2="308.1" stroke="#008080" stroke-width="1.6" />
<rect x="81" y="299.3" width="9.5" height="8.8" fill="#008080"/>
<rect x="80" y="41.5" width="349" height="279.5" fill="none" stroke="#000" stroke-width="2"/>
<line x1="123.2" y1="321" x2="123.2" y2="316.5" stroke="#000" stroke-width="2" />
<line x1="123.2" y1="41.5" x2="123.2" y2="46" stroke="#000" stroke-width="2" />
<text x="123.2" y="343" font-size="19.5" text-anchor="middle" fill="#000" >1</text>
<line x1="232.2" y1="321" x2="232.2" y2="316.5" stroke="#000" stroke-width="2" />
<line x1="232.2" y1="41.5" x2="232.2" y2="46" stroke="#000" stroke-width="2" />
<text x="232.2" y="343" font-size="19.5" text-anchor="middle" fill="#000" >2</text>
<line x1="341.2" y1="321" x2="341.2" y2="316.5" stroke="#000" stroke-width="2" />
<line x1="341.2" y1="41.5" x2="341.2" y2="46" stroke="#000" stroke-width="2" />
<text x="341.2" y="343" font-size="19.5" text-anchor="middle" fill="#000" >3</text>
<line x1="177.7" y1="321" x2="177.7" y2="318.5" stroke="#000" stroke-width="2" />
<line x1="177.7" y1="41.5" x2="177.7" y2="44" stroke="#000" stroke-width="2" />
<line x1="286.7" y1="321" x2="286.7" y2="318.5" stroke="#000" stroke-width="2" />
<line x1="286.7" y1="41.5" x2="286.7" y2="44" stroke="#000" stroke-width="2" />
<line x1="395.7" y1="321" x2="395.7" y2="318.5" stroke="#000" stroke-width="2" />
<line x1="395.7" y1="41.5" x2="395.7" y2="44" stroke="#000" stroke-width="2" />
<line x1="80" y1="286" x2="84.5" y2="286" stroke="#000" stroke-width="2" />
<text x="72.9" y="292.6" font-size="19.5" text-anchor="end" fill="#000" >0.0</text>
<line x1="80" y1="227.6" x2="84.5" y2="227.6" stroke="#000" stroke-width="2" />
<text x="72.9" y="234.2" font-size="19.5" text-anchor="end" fill="#000" >0.2</text>
<line x1="80" y1="169.2" x2="84.5" y2="169.2" stroke="#000" stroke-width="2" />
<text x="72.9" y="175.8" font-size="19.5" text-anchor="end" fill="#000" >0.4</text>
<line x1="80" y1="110.8" x2="84.5" y2="110.8" stroke="#000" stroke-width="2" />
<text x="72.9" y="117.4" font-size="19.5" text-anchor="end" fill="#000" >0.6</text>
<line x1="80" y1="52.4" x2="84.5" y2="52.4" stroke="#000" stroke-width="2" />
<text x="72.9" y="59" font-size="19.5" text-anchor="end" fill="#000" >0.8</text>
<line x1="80" y1="315.2" x2="82.5" y2="315.2" stroke="#000" stroke-width="2" />
<line x1="80" y1="256.8" x2="82.5" y2="256.8" stroke="#000" stroke-width="2" />
<line x1="80" y1="198.4" x2="82.5" y2="198.4" stroke="#000" stroke-width="2" />
<line x1="80" y1="140" x2="82.5" y2="140" stroke="#000" stroke-width="2" />
<line x1="80" y1="81.6" x2="82.5" y2="81.6" stroke="#000" stroke-width="2" />
<text x="237.7" y="360.5" font-size="19.5"><tspan font-style="italic">d</tspan> (<tspan font-family='"Liberation Serif", serif'>Å</tspan>)</text>
<text transform="translate(37.5,169) rotate(-90)" font-size="19.5" text-anchor="middle"><tspan font-style="italic">I</tspan><tspan font-style="italic" font-size="12" dy="4">T</tspan><tspan dy="-4"> - </tspan><tspan font-style="italic">I</tspan><tspan font-size="12" dy="4">10</tspan><tspan dy="-4"> (arb. units)</tspan></text>
<text x="412.5" y="99.3" font-size="19.5" text-anchor="middle" fill="#FF0000" >2</text>
<text x="412.5" y="143.6" font-size="19.5" text-anchor="middle" fill="#FF8000" >2.5</text>
<text x="412.5" y="193.1" font-size="19.5" text-anchor="middle" fill="#0000FF" >3</text>
<text x="412.5" y="220.6" font-size="19.5" text-anchor="middle" fill="#00FFFF" >3.5</text>
<text x="412.5" y="242.2" font-size="19.5" text-anchor="middle" fill="#FF00FF" >4</text>
<text x="412.5" y="270.2" font-size="19.5" text-anchor="middle" fill="#808000" >4.5</text>
<text x="412.5" y="295.6" font-size="19.5" text-anchor="middle" fill="#000080" >5</text>
<text x="380" y="72" font-size="19.5"><tspan font-style="italic">T</tspan> (K)</text>
<text x="84.5" y="68.8" font-size="19.5" text-anchor="start" fill="#800000" >P1</text>
<text x="113.5" y="68.8" font-size="19.5" text-anchor="start" fill="#808000" >P2</text>
<text x="180.5" y="68.8" font-size="19.5" text-anchor="start" fill="#0000FF" >P3</text>
<text x="321.5" y="68.8" font-size="19.5" text-anchor="start" fill="#FF0000" >P4</text>
<line x1="97.3" y1="70.2" x2="97.3" y2="80" stroke="#800000" stroke-width="1.3" />
<path d="M94.2 73.5 L97.3 85 L100.4 73.5 L97.3 77.5 Z" fill="#800000"/>
<line x1="119" y1="71" x2="116.8" y2="79" stroke="#808000" stroke-width="1.3" />
<path d="M114.2 74.8 L115.2 86.3 L121 76.8 L117.3 78.2 Z" fill="#808000"/>
<rect x="79.3" y="613.1" width="348.0" height="22.7" fill="#E4E4E4"/>
<polygon points="142.2,531.83 143.14,531.77 144.36,531.62 145.8,531.42 147.41,531.2 149.15,531.01 150.96,530.89 152.81,530.87 154.65,530.99 156.42,531.3 158.07,531.83 159.69,532.62 161.35,533.66 163.04,534.9 164.73,536.29 166.41,537.77 168.06,539.3 169.65,540.83 171.18,542.3 172.62,543.67 173.95,544.88 175.17,545.95 176.31,546.95 177.37,547.9 178.37,548.8 179.31,549.67 180.2,550.53 181.05,551.4 181.87,552.29 182.68,553.22 183.47,554.2 184.24,555.22 184.95,556.25 185.61,557.29 186.24,558.35 186.85,559.43 187.44,560.52 188.02,561.64 188.61,562.78 189.2,563.95 189.82,565.15 190.45,566.41 191.04,567.76 191.63,569.16 192.21,570.6 192.8,572.04 193.41,573.46 194.04,574.83 194.7,576.14 195.41,577.35 196.18,578.43 196.97,579.42 197.78,580.37 198.6,581.27 199.45,582.1 200.34,582.87 201.28,583.56 202.28,584.17 203.34,584.69 204.48,585.11 205.7,585.42 207.03,585.54 208.47,585.44 210,585.17 211.59,584.8 213.24,584.37 214.92,583.95 216.61,583.61 218.3,583.38 219.96,583.35 221.57,583.56 223.09,584.01 224.5,584.66 225.84,585.47 227.16,586.39 228.52,587.4 229.96,588.45 231.52,589.52 233.26,590.56 235.22,591.53 237.45,592.41 239.98,593.24 242.78,594.08 245.81,594.92 249.01,595.75 252.33,596.56 255.74,597.34 259.17,598.07 262.6,598.74 265.95,599.34 269.2,599.87 272.3,600.3 275.3,600.67 278.22,600.96 281.14,601.2 284.08,601.4 287.11,601.55 290.26,601.67 293.58,601.78 297.13,601.87 300.95,601.96 305.07,602.04 309.46,602.1 314.07,602.12 318.86,602.13 323.77,602.11 328.76,602.07 333.79,602.01 338.8,601.93 343.74,601.84 348.57,601.73 353.55,601.59 358.86,601.4 364.36,601.17 369.91,600.92 375.36,600.67 380.58,600.41 385.41,600.17 389.72,599.95 393.37,599.77 396.2,599.63 396.2,612.6 142.2,612.6" fill="#E4E4FC"/>
<polygon points="142.2,436.3 143.14,437.76 144.36,439.7 145.8,442.01 147.41,444.59 149.15,447.34 150.96,450.16 152.81,452.94 154.65,455.59 156.42,458 158.07,460.07 159.71,461.8 161.4,463.31 163.14,464.64 164.88,465.85 166.61,467 168.29,468.13 169.89,469.3 171.38,470.56 172.75,471.97 173.95,473.58 174.96,475.34 175.8,477.19 176.5,479.11 177.08,481.11 177.6,483.18 178.08,485.32 178.56,487.53 179.06,489.8 179.63,492.15 180.3,494.55 181.06,497.1 181.87,499.85 182.72,502.75 183.59,505.72 184.47,508.73 185.34,511.72 186.21,514.62 187.04,517.38 187.82,519.96 188.56,522.28 189.21,524.39 189.77,526.38 190.29,528.25 190.76,530 191.23,531.63 191.72,533.14 192.24,534.55 192.82,535.84 193.49,537.03 194.27,538.12 195.15,539.05 196.09,539.77 197.1,540.34 198.16,540.79 199.27,541.15 200.43,541.47 201.62,541.77 202.85,542.11 204.11,542.51 205.38,543.01 206.69,543.6 208.03,544.2 209.42,544.83 210.84,545.47 212.29,546.13 213.77,546.8 215.29,547.48 216.83,548.16 218.4,548.85 219.99,549.54 221.41,550.23 222.56,550.92 223.57,551.62 224.56,552.32 225.66,553.03 227.01,553.75 228.74,554.49 230.97,555.23 233.83,555.99 237.45,556.76 242.08,557.58 247.71,558.45 254.12,559.36 261.06,560.29 268.31,561.22 275.63,562.12 282.78,562.99 289.55,563.8 295.68,564.52 300.95,565.15 305.27,565.65 308.82,566.02 311.81,566.3 314.41,566.51 316.82,566.69 319.24,566.87 321.84,567.08 324.83,567.34 328.38,567.7 332.7,568.18 338.05,568.81 344.38,569.58 351.42,570.44 358.86,571.37 366.43,572.33 373.85,573.27 380.82,574.15 387.06,574.94 392.28,575.61 396.2,576.1 396.2,599.63 393.37,599.77 389.72,599.95 385.41,600.17 380.58,600.41 375.36,600.67 369.91,600.92 364.36,601.17 358.86,601.4 353.55,601.59 348.57,601.73 343.74,601.84 338.8,601.93 333.79,602.01 328.76,602.07 323.77,602.11 318.86,602.13 314.07,602.12 309.46,602.1 305.07,602.04 300.95,601.96 297.13,601.87 293.58,601.78 290.26,601.67 287.11,601.55 284.08,601.4 281.14,601.2 278.22,600.96 275.3,600.67 272.3,600.3 269.2,599.87 265.95,599.34 262.6,598.74 259.17,598.07 255.74,597.34 252.33,596.56 249.01,595.75 245.81,594.92 242.78,594.08 239.98,593.24 237.45,592.41 235.22,591.53 233.26,590.56 231.52,589.52 229.96,588.45 228.52,587.4 227.16,586.39 225.84,585.47 224.5,584.66 223.09,584.01 221.57,583.56 219.96,583.35 218.3,583.38 216.61,583.61 214.92,583.95 213.24,584.37 211.59,584.8 210,585.17 208.47,585.44 207.03,585.54 205.7,585.42 204.48,585.11 203.34,584.69 202.28,584.17 201.28,583.56 200.34,582.87 199.45,582.1 198.6,581.27 197.78,580.37 196.97,579.42 196.18,578.43 195.41,577.35 194.7,576.14 194.04,574.83 193.41,573.46 192.8,572.04 192.21,570.6 191.63,569.16 191.04,567.76 190.45,566.41 189.82,565.15 189.2,563.95 188.61,562.78 188.02,561.64 187.44,560.52 186.85,559.43 186.24,558.35 185.61,557.29 184.95,556.25 184.24,555.22 183.47,554.2 182.68,553.22 181.87,552.29 181.05,551.4 180.2,550.53 179.31,549.67 178.37,548.8 177.37,547.9 176.31,546.95 175.17,545.95 173.95,544.88 172.62,543.67 171.18,542.3 169.65,540.83 168.06,539.3 166.41,537.77 164.73,536.29 163.04,534.9 161.35,533.66 159.69,532.62 158.07,531.83 156.42,531.3 154.65,530.99 152.81,530.87 150.96,530.89 149.15,531.01 147.41,531.2 145.8,531.42 144.36,531.62 143.14,531.77 142.2,531.83" fill="#FDE5D0"/>
<path d="M142.2 614.31 L158.07 629.22 L173.95 617.81 L183.47 608.25 L189.82 634.82 L196.18 612.91 L205.7 636.68 L221.57 629.69 L221.74 629.99 L221.91 630.39 L222.09 630.85 L222.29 631.37 L222.55 631.93 L222.86 632.52 L223.26 633.12 L223.74 633.71 L224.34 634.28 L225.07 634.82 L225.93 635.34 L226.92 635.87 L228.02 636.42 L229.21 636.97 L230.48 637.51 L231.82 638.04 L233.2 638.56 L234.61 639.05 L236.03 639.51 L237.45 639.94 L238.9 640.34 L240.4 640.73 L241.96 641.09 L243.55 641.44 L245.17 641.76 L246.81 642.06 L248.45 642.33 L250.09 642.58 L251.72 642.79 L253.32 642.97 L254.84 643.13 L256.25 643.26 L257.59 643.37 L258.91 643.46 L260.27 643.51 L261.71 643.53 L263.27 643.51 L265.01 643.46 L266.97 643.35 L269.2 643.2 L271.73 643 L274.53 642.73 L277.56 642.42 L280.76 642.07 L284.08 641.67 L287.49 641.26 L290.92 640.82 L294.35 640.37 L297.7 639.92 L300.95 639.48 L303.98 639.05 L306.79 638.64 L309.47 638.25 L312.13 637.84 L314.84 637.41 L317.71 636.94 L320.84 636.41 L324.32 635.82 L328.24 635.13 L332.7 634.35 L338.05 633.4 L344.38 632.25 L351.42 630.97 L358.86 629.6 L366.43 628.2 L373.85 626.83 L380.82 625.54 L387.06 624.39 L392.28 623.42 L396.2 622.7" stroke="#808000" stroke-width="1.4" stroke-dasharray="6 3 2 3" fill="none"/>
<path d="M142.2 612.91 L158.07 612.91 L173.95 609.19 L183.47 616.18 L189.82 612.91 L196.18 602.66 L205.7 603.36 L221.57 604.99 L221.74 605.36 L221.91 605.82 L222.09 606.34 L222.29 606.94 L222.55 607.6 L222.86 608.31 L223.26 609.06 L223.74 609.85 L224.34 610.67 L225.07 611.52 L225.93 612.44 L226.92 613.48 L228.02 614.61 L229.21 615.78 L230.48 616.98 L231.82 618.15 L233.2 619.28 L234.61 620.32 L236.03 621.24 L237.45 622 L238.9 622.63 L240.4 623.16 L241.96 623.6 L243.55 623.97 L245.17 624.27 L246.81 624.51 L248.45 624.7 L250.09 624.84 L251.72 624.95 L253.32 625.03 L254.84 625.06 L256.25 625.03 L257.59 624.94 L258.91 624.8 L260.27 624.62 L261.71 624.41 L263.27 624.17 L265.01 623.92 L266.97 623.66 L269.2 623.4 L271.73 623.11 L274.53 622.77 L277.56 622.38 L280.76 621.98 L284.08 621.56 L287.49 621.16 L290.92 620.77 L294.35 620.42 L297.7 620.13 L300.95 619.9 L303.98 619.73 L306.79 619.6 L309.47 619.49 L312.13 619.42 L314.84 619.38 L317.71 619.37 L320.84 619.4 L324.32 619.46 L328.24 619.55 L332.7 619.67 L338.05 619.86 L344.38 620.12 L351.42 620.44 L358.86 620.79 L366.43 621.17 L373.85 621.55 L380.82 621.91 L387.06 622.24 L392.28 622.51 L396.2 622.7" stroke="#800000" stroke-width="1.4" stroke-dasharray="6 3 2 3" fill="none"/>
<path d="M142.2 531.83 L158.07 531.83 L173.95 544.88 L183.47 554.2 L189.82 565.15 L196.18 579.13 L205.7 588.22 L221.57 579.13 L222.45 579.95 L223.48 581.03 L224.67 582.32 L226.02 583.76 L227.53 585.3 L229.19 586.88 L231.02 588.44 L233 589.91 L235.15 591.26 L237.45 592.41 L239.98 593.42 L242.78 594.36 L245.81 595.24 L249.01 596.07 L252.33 596.84 L255.74 597.55 L259.17 598.21 L262.6 598.81 L265.95 599.36 L269.2 599.87 L272.3 600.3 L275.3 600.67 L278.22 600.96 L281.14 601.2 L284.08 601.4 L287.11 601.55 L290.26 601.67 L293.58 601.78 L297.13 601.87 L300.95 601.96 L305.07 602.04 L309.46 602.1 L314.07 602.12 L318.86 602.13 L323.77 602.11 L328.76 602.07 L333.79 602.01 L338.8 601.93 L343.74 601.84 L348.57 601.73 L353.55 601.59 L358.86 601.4 L364.36 601.17 L369.91 600.92 L375.36 600.67 L380.58 600.41 L385.41 600.17 L389.72 599.95 L393.37 599.77 L396.2 599.63" stroke="#0000FF" stroke-width="1.4" stroke-dasharray="6 3 2 3" fill="none"/>
<path d="M142.2 436.3 L158.07 460.07 L173.95 474.28 L183.47 519.71 L189.82 509.7 L196.18 553.97 L205.7 552.57 L221.57 536.49 L222.31 537.75 L222.97 539.44 L223.67 541.46 L224.5 543.71 L225.54 546.1 L226.91 548.54 L228.69 550.91 L230.97 553.14 L233.86 555.12 L237.45 556.76 L242.01 558.11 L247.61 559.28 L254 560.32 L260.94 561.23 L268.21 562.03 L275.55 562.75 L282.73 563.4 L289.52 564 L295.67 564.58 L300.95 565.15 L305.27 565.65 L308.82 566.02 L311.81 566.3 L314.41 566.51 L316.82 566.69 L319.24 566.87 L321.84 567.08 L324.83 567.34 L328.38 567.7 L332.7 568.18 L338.05 568.81 L344.38 569.58 L351.42 570.44 L358.86 571.37 L366.43 572.33 L373.85 573.27 L380.82 574.15 L387.06 574.94 L392.28 575.61 L396.2 576.1" stroke="#FF0000" stroke-width="1.4" stroke-dasharray="6 3 2 3" fill="none"/>
<line x1="142.2" y1="609.65" x2="142.2" y2="618.97" stroke="#808000" stroke-width="1.5" />
<line x1="139.2" y1="609.65" x2="145.2" y2="609.65" stroke="#808000" stroke-width="1.5" />
<line x1="139.2" y1="618.97" x2="145.2" y2="618.97" stroke="#808000" stroke-width="1.5" />
<circle cx="142.2" cy="614.31" r="3.1" fill="#808000"/>
<line x1="158.07" y1="618.97" x2="158.07" y2="639.48" stroke="#808000" stroke-width="1.5" />
<line x1="155.07" y1="618.97" x2="161.07" y2="618.97" stroke="#808000" stroke-width="1.5" />
<line x1="155.07" y1="639.48" x2="161.07" y2="639.48" stroke="#808000" stroke-width="1.5" />
<circle cx="158.07" cy="629.22" r="3.1" fill="#808000"/>
<line x1="173.95" y1="610.82" x2="173.95" y2="624.8" stroke="#808000" stroke-width="1.5" />
<line x1="170.95" y1="610.82" x2="176.95" y2="610.82" stroke="#808000" stroke-width="1.5" />
<line x1="170.95" y1="624.8" x2="176.95" y2="624.8" stroke="#808000" stroke-width="1.5" />
<circle cx="173.95" cy="617.81" r="3.1" fill="#808000"/>
<line x1="183.47" y1="599.87" x2="183.47" y2="616.64" stroke="#808000" stroke-width="1.5" />
<line x1="180.47" y1="599.87" x2="186.47" y2="599.87" stroke="#808000" stroke-width="1.5" />
<line x1="180.47" y1="616.64" x2="186.47" y2="616.64" stroke="#808000" stroke-width="1.5" />
<circle cx="183.47" cy="608.25" r="3.1" fill="#808000"/>
<line x1="189.82" y1="629.46" x2="189.82" y2="640.18" stroke="#808000" stroke-width="1.5" />
<line x1="186.82" y1="629.46" x2="192.82" y2="629.46" stroke="#808000" stroke-width="1.5" />
<line x1="186.82" y1="640.18" x2="192.82" y2="640.18" stroke="#808000" stroke-width="1.5" />
<circle cx="189.82" cy="634.82" r="3.1" fill="#808000"/>
<line x1="196.18" y1="605.92" x2="196.18" y2="619.9" stroke="#808000" stroke-width="1.5" />
<line x1="193.18" y1="605.92" x2="199.18" y2="605.92" stroke="#808000" stroke-width="1.5" />
<line x1="193.18" y1="619.9" x2="199.18" y2="619.9" stroke="#808000" stroke-width="1.5" />
<circle cx="196.18" cy="612.91" r="3.1" fill="#808000"/>
<line x1="205.7" y1="629.69" x2="205.7" y2="643.67" stroke="#808000" stroke-width="1.5" />
<line x1="202.7" y1="629.69" x2="208.7" y2="629.69" stroke="#808000" stroke-width="1.5" />
<line x1="202.7" y1="643.67" x2="208.7" y2="643.67" stroke="#808000" stroke-width="1.5" />
<circle cx="205.7" cy="636.68" r="3.1" fill="#808000"/>
<line x1="221.57" y1="622.7" x2="221.57" y2="636.68" stroke="#808000" stroke-width="1.5" />
<line x1="218.57" y1="622.7" x2="224.57" y2="622.7" stroke="#808000" stroke-width="1.5" />
<line x1="218.57" y1="636.68" x2="224.57" y2="636.68" stroke="#808000" stroke-width="1.5" />
<circle cx="221.57" cy="629.69" r="3.1" fill="#808000"/>
<line x1="237.45" y1="639.71" x2="237.45" y2="653.69" stroke="#808000" stroke-width="1.5" />
<line x1="234.45" y1="639.71" x2="240.45" y2="639.71" stroke="#808000" stroke-width="1.5" />
<line x1="234.45" y1="653.69" x2="240.45" y2="653.69" stroke="#808000" stroke-width="1.5" />
<circle cx="237.45" cy="646.7" r="3.1" fill="#808000"/>
<line x1="300.95" y1="627.83" x2="300.95" y2="651.13" stroke="#808000" stroke-width="1.5" />
<line x1="297.95" y1="627.83" x2="303.95" y2="627.83" stroke="#808000" stroke-width="1.5" />
<line x1="297.95" y1="651.13" x2="303.95" y2="651.13" stroke="#808000" stroke-width="1.5" />
<circle cx="300.95" cy="639.48" r="3.1" fill="#808000"/>
<line x1="396.2" y1="620.37" x2="396.2" y2="625.03" stroke="#808000" stroke-width="1.5" />
<line x1="393.2" y1="620.37" x2="399.2" y2="620.37" stroke="#808000" stroke-width="1.5" />
<line x1="393.2" y1="625.03" x2="399.2" y2="625.03" stroke="#808000" stroke-width="1.5" />
<circle cx="396.2" cy="622.7" r="3.1" fill="#808000"/>
<line x1="142.2" y1="522.98" x2="142.2" y2="540.68" stroke="#0000FF" stroke-width="1.5" />
<line x1="139.2" y1="522.98" x2="145.2" y2="522.98" stroke="#0000FF" stroke-width="1.5" />
<line x1="139.2" y1="540.68" x2="145.2" y2="540.68" stroke="#0000FF" stroke-width="1.5" />
<circle cx="142.2" cy="531.83" r="3.1" fill="#0000FF"/>
<line x1="158.07" y1="519.25" x2="158.07" y2="544.41" stroke="#0000FF" stroke-width="1.5" />
<line x1="155.07" y1="519.25" x2="161.07" y2="519.25" stroke="#0000FF" stroke-width="1.5" />
<line x1="155.07" y1="544.41" x2="161.07" y2="544.41" stroke="#0000FF" stroke-width="1.5" />
<circle cx="158.07" cy="531.83" r="3.1" fill="#0000FF"/>
<line x1="173.95" y1="536.26" x2="173.95" y2="553.5" stroke="#0000FF" stroke-width="1.5" />
<line x1="170.95" y1="536.26" x2="176.95" y2="536.26" stroke="#0000FF" stroke-width="1.5" />
<line x1="170.95" y1="553.5" x2="176.95" y2="553.5" stroke="#0000FF" stroke-width="1.5" />
<circle cx="173.95" cy="544.88" r="3.1" fill="#0000FF"/>
<line x1="183.47" y1="544.88" x2="183.47" y2="563.52" stroke="#0000FF" stroke-width="1.5" />
<line x1="180.47" y1="544.88" x2="186.47" y2="544.88" stroke="#0000FF" stroke-width="1.5" />
<line x1="180.47" y1="563.52" x2="186.47" y2="563.52" stroke="#0000FF" stroke-width="1.5" />
<circle cx="183.47" cy="554.2" r="3.1" fill="#0000FF"/>
<line x1="189.82" y1="555.83" x2="189.82" y2="574.47" stroke="#0000FF" stroke-width="1.5" />
<line x1="186.82" y1="555.83" x2="192.82" y2="555.83" stroke="#0000FF" stroke-width="1.5" />
<line x1="186.82" y1="574.47" x2="192.82" y2="574.47" stroke="#0000FF" stroke-width="1.5" />
<circle cx="189.82" cy="565.15" r="3.1" fill="#0000FF"/>
<line x1="196.18" y1="569.81" x2="196.18" y2="588.45" stroke="#0000FF" stroke-width="1.5" />
<line x1="193.18" y1="569.81" x2="199.18" y2="569.81" stroke="#0000FF" stroke-width="1.5" />
<line x1="193.18" y1="588.45" x2="199.18" y2="588.45" stroke="#0000FF" stroke-width="1.5" />
<circle cx="196.18" cy="579.13" r="3.1" fill="#0000FF"/>
<line x1="205.7" y1="580.06" x2="205.7" y2="596.37" stroke="#0000FF" stroke-width="1.5" />
<line x1="202.7" y1="580.06" x2="208.7" y2="580.06" stroke="#0000FF" stroke-width="1.5" />
<line x1="202.7" y1="596.37" x2="208.7" y2="596.37" stroke="#0000FF" stroke-width="1.5" />
<circle cx="205.7" cy="588.22" r="3.1" fill="#0000FF"/>
<line x1="221.57" y1="570.97" x2="221.57" y2="587.28" stroke="#0000FF" stroke-width="1.5" />
<line x1="218.57" y1="570.97" x2="224.57" y2="570.97" stroke="#0000FF" stroke-width="1.5" />
<line x1="218.57" y1="587.28" x2="224.57" y2="587.28" stroke="#0000FF" stroke-width="1.5" />
<circle cx="221.57" cy="579.13" r="3.1" fill="#0000FF"/>
<line x1="237.45" y1="587.28" x2="237.45" y2="603.59" stroke="#0000FF" stroke-width="1.5" />
<line x1="234.45" y1="587.28" x2="240.45" y2="587.28" stroke="#0000FF" stroke-width="1.5" />
<line x1="234.45" y1="603.59" x2="240.45" y2="603.59" stroke="#0000FF" stroke-width="1.5" />
<circle cx="237.45" cy="595.44" r="3.1" fill="#0000FF"/>
<line x1="300.95" y1="591.71" x2="300.95" y2="615.01" stroke="#0000FF" stroke-width="1.5" />
<line x1="297.95" y1="591.71" x2="303.95" y2="591.71" stroke="#0000FF" stroke-width="1.5" />
<line x1="297.95" y1="615.01" x2="303.95" y2="615.01" stroke="#0000FF" stroke-width="1.5" />
<circle cx="300.95" cy="603.36" r="3.1" fill="#0000FF"/>
<line x1="396.2" y1="587.52" x2="396.2" y2="611.75" stroke="#0000FF" stroke-width="1.5" />
<line x1="393.2" y1="587.52" x2="399.2" y2="587.52" stroke="#0000FF" stroke-width="1.5" />
<line x1="393.2" y1="611.75" x2="399.2" y2="611.75" stroke="#0000FF" stroke-width="1.5" />
<circle cx="396.2" cy="599.63" r="3.1" fill="#0000FF"/>
<line x1="142.2" y1="426.75" x2="142.2" y2="445.85" stroke="#FF0000" stroke-width="1.5" />
<line x1="139.2" y1="426.75" x2="145.2" y2="426.75" stroke="#FF0000" stroke-width="1.5" />
<line x1="139.2" y1="445.85" x2="145.2" y2="445.85" stroke="#FF0000" stroke-width="1.5" />
<circle cx="142.2" cy="436.3" r="3.1" fill="#FF0000"/>
<line x1="158.07" y1="445.85" x2="158.07" y2="474.28" stroke="#FF0000" stroke-width="1.5" />
<line x1="155.07" y1="445.85" x2="161.07" y2="445.85" stroke="#FF0000" stroke-width="1.5" />
<line x1="155.07" y1="474.28" x2="161.07" y2="474.28" stroke="#FF0000" stroke-width="1.5" />
<circle cx="158.07" cy="460.07" r="3.1" fill="#FF0000"/>
<line x1="173.95" y1="464.73" x2="173.95" y2="483.83" stroke="#FF0000" stroke-width="1.5" />
<line x1="170.95" y1="464.73" x2="176.95" y2="464.73" stroke="#FF0000" stroke-width="1.5" />
<line x1="170.95" y1="483.83" x2="176.95" y2="483.83" stroke="#FF0000" stroke-width="1.5" />
<circle cx="173.95" cy="474.28" r="3.1" fill="#FF0000"/>
<line x1="183.47" y1="505.5" x2="183.47" y2="533.93" stroke="#FF0000" stroke-width="1.5" />
<line x1="180.47" y1="505.5" x2="186.47" y2="505.5" stroke="#FF0000" stroke-width="1.5" />
<line x1="180.47" y1="533.93" x2="186.47" y2="533.93" stroke="#FF0000" stroke-width="1.5" />
<circle cx="183.47" cy="519.71" r="3.1" fill="#FF0000"/>
<line x1="189.82" y1="498.98" x2="189.82" y2="520.41" stroke="#FF0000" stroke-width="1.5" />
<line x1="186.82" y1="498.98" x2="192.82" y2="498.98" stroke="#FF0000" stroke-width="1.5" />
<line x1="186.82" y1="520.41" x2="192.82" y2="520.41" stroke="#FF0000" stroke-width="1.5" />
<circle cx="189.82" cy="509.7" r="3.1" fill="#FF0000"/>
<line x1="196.18" y1="542.32" x2="196.18" y2="565.62" stroke="#FF0000" stroke-width="1.5" />
<line x1="193.18" y1="542.32" x2="199.18" y2="542.32" stroke="#FF0000" stroke-width="1.5" />
<line x1="193.18" y1="565.62" x2="199.18" y2="565.62" stroke="#FF0000" stroke-width="1.5" />
<circle cx="196.18" cy="553.97" r="3.1" fill="#FF0000"/>
<line x1="205.7" y1="542.08" x2="205.7" y2="563.05" stroke="#FF0000" stroke-width="1.5" />
<line x1="202.7" y1="542.08" x2="208.7" y2="542.08" stroke="#FF0000" stroke-width="1.5" />
<line x1="202.7" y1="563.05" x2="208.7" y2="563.05" stroke="#FF0000" stroke-width="1.5" />
<circle cx="205.7" cy="552.57" r="3.1" fill="#FF0000"/>
<line x1="221.57" y1="526.47" x2="221.57" y2="546.51" stroke="#FF0000" stroke-width="1.5" />
<line x1="218.57" y1="526.47" x2="224.57" y2="526.47" stroke="#FF0000" stroke-width="1.5" />
<line x1="218.57" y1="546.51" x2="224.57" y2="546.51" stroke="#FF0000" stroke-width="1.5" />
<circle cx="221.57" cy="536.49" r="3.1" fill="#FF0000"/>
<line x1="237.45" y1="546.74" x2="237.45" y2="567.25" stroke="#FF0000" stroke-width="1.5" />
<line x1="234.45" y1="546.74" x2="240.45" y2="546.74" stroke="#FF0000" stroke-width="1.5" />
<line x1="234.45" y1="567.25" x2="240.45" y2="567.25" stroke="#FF0000" stroke-width="1.5" />
<circle cx="237.45" cy="556.99" r="3.1" fill="#FF0000"/>
<line x1="300.95" y1="551.17" x2="300.95" y2="579.13" stroke="#FF0000" stroke-width="1.5" />
<line x1="297.95" y1="551.17" x2="303.95" y2="551.17" stroke="#FF0000" stroke-width="1.5" />
<line x1="297.95" y1="579.13" x2="303.95" y2="579.13" stroke="#FF0000" stroke-width="1.5" />
<circle cx="300.95" cy="565.15" r="3.1" fill="#FF0000"/>
<line x1="396.2" y1="562.12" x2="396.2" y2="590.08" stroke="#FF0000" stroke-width="1.5" />
<line x1="393.2" y1="562.12" x2="399.2" y2="562.12" stroke="#FF0000" stroke-width="1.5" />
<line x1="393.2" y1="590.08" x2="399.2" y2="590.08" stroke="#FF0000" stroke-width="1.5" />
<circle cx="396.2" cy="576.1" r="3.1" fill="#FF0000"/>
<line x1="142.2" y1="604.53" x2="142.2" y2="621.3" stroke="#800000" stroke-width="1.5" />
<line x1="139.2" y1="604.53" x2="145.2" y2="604.53" stroke="#800000" stroke-width="1.5" />
<line x1="139.2" y1="621.3" x2="145.2" y2="621.3" stroke="#800000" stroke-width="1.5" />
<circle cx="142.2" cy="612.91" r="3.1" fill="#800000"/>
<line x1="158.07" y1="601.26" x2="158.07" y2="624.56" stroke="#800000" stroke-width="1.5" />
<line x1="155.07" y1="601.26" x2="161.07" y2="601.26" stroke="#800000" stroke-width="1.5" />
<line x1="155.07" y1="624.56" x2="161.07" y2="624.56" stroke="#800000" stroke-width="1.5" />
<circle cx="158.07" cy="612.91" r="3.1" fill="#800000"/>
<line x1="173.95" y1="601.26" x2="173.95" y2="617.11" stroke="#800000" stroke-width="1.5" />
<line x1="170.95" y1="601.26" x2="176.95" y2="601.26" stroke="#800000" stroke-width="1.5" />
<line x1="170.95" y1="617.11" x2="176.95" y2="617.11" stroke="#800000" stroke-width="1.5" />
<circle cx="173.95" cy="609.19" r="3.1" fill="#800000"/>
<line x1="183.47" y1="604.76" x2="183.47" y2="627.59" stroke="#800000" stroke-width="1.5" />
<line x1="180.47" y1="604.76" x2="186.47" y2="604.76" stroke="#800000" stroke-width="1.5" />
<line x1="180.47" y1="627.59" x2="186.47" y2="627.59" stroke="#800000" stroke-width="1.5" />
<circle cx="183.47" cy="616.18" r="3.1" fill="#800000"/>
<line x1="189.82" y1="603.59" x2="189.82" y2="622.23" stroke="#800000" stroke-width="1.5" />
<line x1="186.82" y1="603.59" x2="192.82" y2="603.59" stroke="#800000" stroke-width="1.5" />
<line x1="186.82" y1="622.23" x2="192.82" y2="622.23" stroke="#800000" stroke-width="1.5" />
<circle cx="189.82" cy="612.91" r="3.1" fill="#800000"/>
<line x1="196.18" y1="593.34" x2="196.18" y2="611.98" stroke="#800000" stroke-width="1.5" />
<line x1="193.18" y1="593.34" x2="199.18" y2="593.34" stroke="#800000" stroke-width="1.5" />
<line x1="193.18" y1="611.98" x2="199.18" y2="611.98" stroke="#800000" stroke-width="1.5" />
<circle cx="196.18" cy="602.66" r="3.1" fill="#800000"/>
<line x1="205.7" y1="594.04" x2="205.7" y2="612.68" stroke="#800000" stroke-width="1.5" />
<line x1="202.7" y1="594.04" x2="208.7" y2="594.04" stroke="#800000" stroke-width="1.5" />
<line x1="202.7" y1="612.68" x2="208.7" y2="612.68" stroke="#800000" stroke-width="1.5" />
<circle cx="205.7" cy="603.36" r="3.1" fill="#800000"/>
<line x1="221.57" y1="596.84" x2="221.57" y2="613.15" stroke="#800000" stroke-width="1.5" />
<line x1="218.57" y1="596.84" x2="224.57" y2="596.84" stroke="#800000" stroke-width="1.5" />
<line x1="218.57" y1="613.15" x2="224.57" y2="613.15" stroke="#800000" stroke-width="1.5" />
<circle cx="221.57" cy="604.99" r="3.1" fill="#800000"/>
<line x1="237.45" y1="622" x2="237.45" y2="640.64" stroke="#800000" stroke-width="1.5" />
<line x1="234.45" y1="622" x2="240.45" y2="622" stroke="#800000" stroke-width="1.5" />
<line x1="234.45" y1="640.64" x2="240.45" y2="640.64" stroke="#800000" stroke-width="1.5" />
<circle cx="237.45" cy="631.32" r="3.1" fill="#800000"/>
<line x1="300.95" y1="604.76" x2="300.95" y2="628.06" stroke="#800000" stroke-width="1.5" />
<line x1="297.95" y1="604.76" x2="303.95" y2="604.76" stroke="#800000" stroke-width="1.5" />
<line x1="297.95" y1="628.06" x2="303.95" y2="628.06" stroke="#800000" stroke-width="1.5" />
<circle cx="300.95" cy="616.41" r="3.1" fill="#800000"/>
<line x1="396.2" y1="611.05" x2="396.2" y2="633.88" stroke="#800000" stroke-width="1.5" />
<line x1="393.2" y1="611.05" x2="399.2" y2="611.05" stroke="#800000" stroke-width="1.5" />
<line x1="393.2" y1="633.88" x2="399.2" y2="633.88" stroke="#800000" stroke-width="1.5" />
<circle cx="396.2" cy="622.47" r="3.1" fill="#800000"/>
<rect x="79.3" y="390.3" width="348.0" height="278.99999999999994" fill="none" stroke="#000" stroke-width="2"/>
<line x1="78.7" y1="669.3" x2="78.7" y2="664.8" stroke="#000" stroke-width="2" />
<text x="78.7" y="690.8" font-size="19.5" text-anchor="middle" fill="#000" >0</text>
<line x1="142.2" y1="669.3" x2="142.2" y2="664.8" stroke="#000" stroke-width="2" />
<text x="142.2" y="690.8" font-size="19.5" text-anchor="middle" fill="#000" >2</text>
<line x1="205.7" y1="669.3" x2="205.7" y2="664.8" stroke="#000" stroke-width="2" />
<text x="205.7" y="690.8" font-size="19.5" text-anchor="middle" fill="#000" >4</text>
<line x1="269.2" y1="669.3" x2="269.2" y2="664.8" stroke="#000" stroke-width="2" />
<text x="269.2" y="690.8" font-size="19.5" text-anchor="middle" fill="#000" >6</text>
<line x1="332.7" y1="669.3" x2="332.7" y2="664.8" stroke="#000" stroke-width="2" />
<text x="332.7" y="690.8" font-size="19.5" text-anchor="middle" fill="#000" >8</text>
<line x1="396.2" y1="669.3" x2="396.2" y2="664.8" stroke="#000" stroke-width="2" />
<text x="396.2" y="690.8" font-size="19.5" text-anchor="middle" fill="#000" >10</text>
<line x1="110.45" y1="669.3" x2="110.45" y2="666.8" stroke="#000" stroke-width="2" />
<line x1="173.95" y1="669.3" x2="173.95" y2="666.8" stroke="#000" stroke-width="2" />
<line x1="237.45" y1="669.3" x2="237.45" y2="666.8" stroke="#000" stroke-width="2" />
<line x1="300.95" y1="669.3" x2="300.95" y2="666.8" stroke="#000" stroke-width="2" />
<line x1="364.45" y1="669.3" x2="364.45" y2="666.8" stroke="#000" stroke-width="2" />
<line x1="158.07" y1="390.3" x2="158.07" y2="393.3" stroke="#000" stroke-width="2" />
<line x1="237.45" y1="390.3" x2="237.45" y2="393.3" stroke="#000" stroke-width="2" />
<line x1="316.82" y1="390.3" x2="316.82" y2="393.3" stroke="#000" stroke-width="2" />
<line x1="396.2" y1="390.3" x2="396.2" y2="393.3" stroke="#000" stroke-width="2" />
<line x1="79.3" y1="622.7" x2="83.8" y2="622.7" stroke="#000" stroke-width="2" />
<line x1="427.3" y1="622.7" x2="422.8" y2="622.7" stroke="#000" stroke-width="2" />
<text x="72" y="629.5" font-size="19.5" text-anchor="end" fill="#000" >0.0</text>
<line x1="79.3" y1="506.2" x2="83.8" y2="506.2" stroke="#000" stroke-width="2" />
<line x1="427.3" y1="506.2" x2="422.8" y2="506.2" stroke="#000" stroke-width="2" />
<text x="72" y="513" font-size="19.5" text-anchor="end" fill="#000" >0.5</text>
<line x1="79.3" y1="389.7" x2="83.8" y2="389.7" stroke="#000" stroke-width="2" />
<line x1="427.3" y1="389.7" x2="422.8" y2="389.7" stroke="#000" stroke-width="2" />
<text x="72" y="396.5" font-size="19.5" text-anchor="end" fill="#000" >1.0</text>
<line x1="79.3" y1="564.45" x2="81.8" y2="564.45" stroke="#000" stroke-width="2" />
<line x1="427.3" y1="564.45" x2="424.8" y2="564.45" stroke="#000" stroke-width="2" />
<line x1="79.3" y1="447.95" x2="81.8" y2="447.95" stroke="#000" stroke-width="2" />
<line x1="427.3" y1="447.95" x2="424.8" y2="447.95" stroke="#000" stroke-width="2" />
<text x="238.5" y="710" font-size="19.5"><tspan font-style="italic">T</tspan> (K)</text>
<text transform="translate(37,525.8) rotate(-90)" font-size="19.85" text-anchor="middle">Integrated intensity (arb. units)</text>
<text x="113.5" y="442.3" font-size="19.5" fill="#FF0000">P<tspan font-size="13" dx="0.5" dy="6">4</tspan></text>
<text x="114" y="536.6" font-size="19.5" fill="#0000FF">P<tspan font-size="13" dx="0.5" dy="6">3</tspan></text>
<text x="113.5" y="606.1" font-size="19.5" fill="#800000">P<tspan font-size="13" dx="0.5" dy="6">1</tspan></text>
<text x="137" y="651.6" font-size="19.5" fill="#808000">P<tspan font-size="13" dx="0.5" dy="6">2</tspan></text>
<rect x="271.3" y="416" width="149.5" height="119.70000000000005" fill="#fff" stroke="#000" stroke-width="1.3"/>
<rect x="274" y="528" width="29.8" height="1.8" fill="#FF0000"/>
<rect x="311.4" y="528" width="29.8" height="1.8" fill="#FF0000"/>
<rect x="349.4" y="491.4" width="29.8" height="37.5" fill="#FF0000"/>
<rect x="387.4" y="446.4" width="29.5" height="82.5" fill="#FF0000"/>
<line x1="271.3" y1="528.9" x2="274.3" y2="528.9" stroke="#000" stroke-width="1.2" />
<text x="268.5" y="534.5" font-size="15.8" text-anchor="end" fill="#000" >0</text>
<line x1="271.3" y1="491.4" x2="274.3" y2="491.4" stroke="#000" stroke-width="1.2" />
<text x="268.5" y="497" font-size="15.8" text-anchor="end" fill="#000" >5</text>
<line x1="271.3" y1="453.9" x2="274.3" y2="453.9" stroke="#000" stroke-width="1.2" />
<text x="268.5" y="459.5" font-size="15.8" text-anchor="end" fill="#000" >10</text>
<line x1="271.3" y1="416.4" x2="274.3" y2="416.4" stroke="#000" stroke-width="1.2" />
<text x="268.5" y="422" font-size="15.8" text-anchor="end" fill="#000" >15</text>
<line x1="271.3" y1="510.15" x2="273.1" y2="510.15" stroke="#000" stroke-width="1.2" />
<line x1="271.3" y1="472.65" x2="273.1" y2="472.65" stroke="#000" stroke-width="1.2" />
<line x1="271.3" y1="435.15" x2="273.1" y2="435.15" stroke="#000" stroke-width="1.2" />
<text transform="translate(245,468.2) rotate(-90)" font-size="16.5" text-anchor="middle">Magnetic phase (%)</text>
<text x="280" y="521.3" font-size="16.5" fill="#000">P<tspan font-size="11.5" dx="0.5" dy="4.5">1</tspan></text>
<text x="315" y="521.3" font-size="16.5" fill="#000">P<tspan font-size="11.5" dx="0.5" dy="4.5">2</tspan></text>
<text x="355" y="484.3" font-size="16.5" fill="#000">P<tspan font-size="11.5" dx="0.5" dy="4.5">3</tspan></text>
<text x="392.7" y="439" font-size="16.5" fill="#000">P<tspan font-size="11.5" dx="0.5" dy="4.5">4</tspan></text>
<rect x="529.4" y="41.5" width="118.09" height="279.8" fill="#DAFFFF"/>
<path d="M592.72 119 L593.48 119.27 L594.44 119.6 L595.56 119.99 L596.82 120.43 L598.19 120.9 L599.65 121.41 L601.15 121.93 L602.69 122.46 L604.22 123 L605.73 123.52 L607.18 124.02 L608.55 124.5 L609.87 124.96 L611.19 125.42 L612.51 125.88 L613.83 126.33 L615.15 126.79 L616.46 127.25 L617.78 127.71 L619.1 128.17 L620.42 128.62 L621.74 129.08 L623.06 129.54 L624.38 130 L625.7 130.46 L627.02 130.94 L628.34 131.42 L629.66 131.91 L630.98 132.39 L632.3 132.88 L633.61 133.35 L634.93 133.81 L636.25 134.27 L637.57 134.7 L638.89 135.11 L640.21 135.5 L641.48 135.86 L642.67 136.21 L643.8 136.54 L644.9 136.85 L646 137.15 L647.14 137.44 L648.32 137.71 L649.59 137.98 L650.97 138.24 L652.49 138.5 L654.17 138.75 L656.04 139 L658.02 139.24 L660.03 139.46 L662.1 139.67 L664.25 139.87 L666.51 140.06 L668.9 140.25 L671.46 140.44 L674.22 140.63 L677.19 140.83 L680.41 141.04 L683.9 141.26 L687.7 141.5 L691.77 141.76 L696.05 142.03 L700.56 142.3 L705.29 142.59 L710.24 142.89 L715.4 143.19 L720.79 143.49 L726.4 143.8 L732.22 144.1 L738.27 144.41 L744.53 144.71 L751.02 145 L758.13 145.3 L766.12 145.62 L774.76 145.96 L783.85 146.3 L793.16 146.64 L802.47 146.97 L811.56 147.29 L820.2 147.59 L828.19 147.87 L835.3 148.12 L841.31 148.33 L846 148.5" stroke="#C6C6C6" stroke-width="4" fill="none" stroke-linecap="butt"/>
<path d="M591.5 159.3 L592.31 160.59 L593.38 162.28 L594.65 164.28 L596.06 166.53 L597.56 168.94 L599.09 171.46 L600.59 174 L602 176.5 L603.37 178.99 L604.76 181.56 L606.18 184.2 L607.6 186.92 L609.01 189.71 L610.39 192.57 L611.72 195.5 L613 198.5 L614.21 201.58 L615.38 204.76 L616.5 208.02 L617.59 211.34 L618.66 214.71 L619.73 218.12 L620.81 221.56 L621.9 225 L623.01 228.49 L624.13 232.05 L625.26 235.67 L626.38 239.31 L627.48 242.94 L628.58 246.56 L629.65 250.12 L630.7 253.6 L631.72 257.08 L632.7 260.61 L633.67 264.14 L634.62 267.62 L635.56 271 L636.5 274.22 L637.45 277.24 L638.4 280 L639.37 282.53 L640.35 284.87 L641.33 287.04 L642.31 289.04 L643.29 290.88 L644.25 292.57 L645.19 294.11 L646.1 295.5 L646.98 296.71 L647.83 297.72 L648.66 298.56 L649.48 299.26 L650.29 299.84 L651.11 300.34 L651.95 300.78 L652.8 301.2 L652.45 301.56 L650.37 301.8 L647.61 301.96 L645.19 302.06 L644.18 302.1 L645.62 302.13 L650.54 302.15 L660 302.2 L675.97 302.25 L698.29 302.27 L724.83 302.27 L753.45 302.26 L782.02 302.24 L808.39 302.22 L830.43 302.21 L846 302.2" stroke="#000" stroke-width="3.8" fill="none" stroke-linejoin="round"/>
<path d="M591.5 215.4 L592.67 216.81 L594.24 218.67 L596.11 220.89 L598.18 223.36 L600.35 225.99 L602.52 228.67 L604.61 231.31 L606.5 233.8 L608.25 236.21 L609.98 238.65 L611.68 241.12 L613.35 243.61 L614.99 246.11 L616.6 248.61 L618.17 251.11 L619.7 253.6 L621.19 256.11 L622.63 258.67 L624.03 261.25 L625.41 263.82 L626.75 266.36 L628.08 268.84 L629.39 271.23 L630.7 273.5 L632.02 275.69 L633.36 277.83 L634.69 279.92 L635.99 281.92 L637.26 283.84 L638.46 285.65 L639.58 287.35 L640.6 288.9 L641.49 290.3 L642.26 291.56 L642.93 292.69 L643.55 293.71 L644.14 294.66 L644.74 295.54 L645.39 296.38 L646.1 297.2 L646.88 298 L647.68 298.75 L648.5 299.45 L649.34 300.09 L650.2 300.67 L651.06 301.18 L651.93 301.63 L652.8 302 L652.45 302.27 L650.37 302.44 L647.61 302.52 L645.19 302.55 L644.18 302.54 L645.62 302.51 L650.54 302.49 L660 302.5 L675.97 302.52 L698.29 302.54 L724.83 302.54 L753.45 302.53 L782.02 302.52 L808.39 302.51 L830.43 302.5 L846 302.5" stroke="#FF0000" stroke-width="4.4" fill="none" stroke-linejoin="round"/>
<rect x="588.72" y="155.3" width="8" height="8" fill="#000"/>
<rect x="604.55" y="216.4" width="8" height="8" fill="#000"/>
<rect x="620.38" y="193.3" width="8" height="8" fill="#000"/>
<rect x="629.88" y="280.8" width="8" height="8" fill="#000"/>
<rect x="636.21" y="219.7" width="8" height="8" fill="#000"/>
<rect x="642.54" y="269.3" width="8" height="8" fill="#000"/>
<rect x="652.04" y="298.2" width="8" height="8" fill="#000"/>
<rect x="667.87" y="298.2" width="8" height="8" fill="#000"/>
<rect x="683.7" y="298.2" width="8" height="8" fill="#000"/>
<rect x="747.02" y="298.2" width="8" height="8" fill="#000"/>
<rect x="842" y="298.2" width="8" height="8" fill="#000"/>
<circle cx="592.72" cy="215.4" r="3.9" fill="#FF0000"/>
<circle cx="608.55" cy="253.4" r="3.9" fill="#FF0000"/>
<circle cx="624.38" cy="239.2" r="3.9" fill="#FF0000"/>
<circle cx="633.88" cy="291.4" r="3.9" fill="#FF0000"/>
<circle cx="640.21" cy="253.4" r="3.9" fill="#FF0000"/>
<circle cx="646.54" cy="284.2" r="3.9" fill="#FF0000"/>
<circle cx="656.04" cy="302.5" r="3.9" fill="#FF0000"/>
<circle cx="671.87" cy="302.5" r="3.9" fill="#FF0000"/>
<circle cx="687.7" cy="302.5" r="3.9" fill="#FF0000"/>
<circle cx="751.02" cy="302.5" r="3.9" fill="#FF0000"/>
<circle cx="846" cy="302.5" r="3.9" fill="#FF0000"/>
<line x1="592.72" y1="118.7" x2="592.72" y2="138.5" stroke="#000" stroke-width="1.1" />
<line x1="589.72" y1="118.7" x2="595.72" y2="118.7" stroke="#000" stroke-width="1.1" />
<line x1="589.72" y1="138.5" x2="595.72" y2="138.5" stroke="#000" stroke-width="1.1" />
<circle cx="592.72" cy="128.6" r="4" fill="#000"/>
<line x1="608.55" y1="98.8" x2="608.55" y2="118.6" stroke="#000" stroke-width="1.1" />
<line x1="605.55" y1="98.8" x2="611.55" y2="98.8" stroke="#000" stroke-width="1.1" />
<line x1="605.55" y1="118.6" x2="611.55" y2="118.6" stroke="#000" stroke-width="1.1" />
<circle cx="608.55" cy="108.7" r="4" fill="#000"/>
<line x1="624.38" y1="122.2" x2="624.38" y2="141.6" stroke="#000" stroke-width="1.1" />
<line x1="621.38" y1="122.2" x2="627.38" y2="122.2" stroke="#000" stroke-width="1.1" />
<line x1="621.38" y1="141.6" x2="627.38" y2="141.6" stroke="#000" stroke-width="1.1" />
<circle cx="624.38" cy="131.9" r="4" fill="#000"/>
<line x1="633.88" y1="113.1" x2="633.88" y2="132.7" stroke="#000" stroke-width="1.1" />
<line x1="630.88" y1="113.1" x2="636.88" y2="113.1" stroke="#000" stroke-width="1.1" />
<line x1="630.88" y1="132.7" x2="636.88" y2="132.7" stroke="#000" stroke-width="1.1" />
<circle cx="633.88" cy="122.9" r="4" fill="#000"/>
<line x1="640.21" y1="130.3" x2="640.21" y2="148.7" stroke="#000" stroke-width="1.1" />
<line x1="637.21" y1="130.3" x2="643.21" y2="130.3" stroke="#000" stroke-width="1.1" />
<line x1="637.21" y1="148.7" x2="643.21" y2="148.7" stroke="#000" stroke-width="1.1" />
<circle cx="640.21" cy="139.5" r="4" fill="#000"/>
<line x1="646.54" y1="131.9" x2="646.54" y2="150.3" stroke="#000" stroke-width="1.1" />
<line x1="643.54" y1="131.9" x2="649.54" y2="131.9" stroke="#000" stroke-width="1.1" />
<line x1="643.54" y1="150.3" x2="649.54" y2="150.3" stroke="#000" stroke-width="1.1" />
<circle cx="646.54" cy="141.1" r="4" fill="#000"/>
<line x1="656.04" y1="127" x2="656.04" y2="145.4" stroke="#000" stroke-width="1.1" />
<line x1="653.04" y1="127" x2="659.04" y2="127" stroke="#000" stroke-width="1.1" />
<line x1="653.04" y1="145.4" x2="659.04" y2="145.4" stroke="#000" stroke-width="1.1" />
<circle cx="656.04" cy="136.2" r="4" fill="#000"/>
<line x1="671.87" y1="131.1" x2="671.87" y2="149.9" stroke="#000" stroke-width="1.1" />
<line x1="668.87" y1="131.1" x2="674.87" y2="131.1" stroke="#000" stroke-width="1.1" />
<line x1="668.87" y1="149.9" x2="674.87" y2="149.9" stroke="#000" stroke-width="1.1" />
<circle cx="671.87" cy="140.5" r="4" fill="#000"/>
<line x1="687.7" y1="132.4" x2="687.7" y2="151.2" stroke="#000" stroke-width="1.1" />
<line x1="684.7" y1="132.4" x2="690.7" y2="132.4" stroke="#000" stroke-width="1.1" />
<line x1="684.7" y1="151.2" x2="690.7" y2="151.2" stroke="#000" stroke-width="1.1" />
<circle cx="687.7" cy="141.8" r="4" fill="#000"/>
<line x1="751.02" y1="136.8" x2="751.02" y2="156" stroke="#000" stroke-width="1.1" />
<line x1="748.02" y1="136.8" x2="754.02" y2="136.8" stroke="#000" stroke-width="1.1" />
<line x1="748.02" y1="156" x2="754.02" y2="156" stroke="#000" stroke-width="1.1" />
<circle cx="751.02" cy="146.4" r="4" fill="#000"/>
<line x1="846" y1="138.8" x2="846" y2="158.2" stroke="#000" stroke-width="1.1" />
<line x1="843" y1="138.8" x2="849" y2="138.8" stroke="#000" stroke-width="1.1" />
<line x1="843" y1="158.2" x2="849" y2="158.2" stroke="#000" stroke-width="1.1" />
<circle cx="846" cy="148.5" r="4" fill="#000"/>
<rect x="529.4" y="41.5" width="347.6" height="279.8" fill="none" stroke="#000" stroke-width="2"/>
<line x1="529.4" y1="321.3" x2="529.4" y2="316.8" stroke="#000" stroke-width="2" />
<line x1="529.4" y1="41.5" x2="529.4" y2="44.5" stroke="#000" stroke-width="2" />
<text x="529.4" y="343" font-size="19.5" text-anchor="middle" fill="#000" >0</text>
<line x1="561.06" y1="321.3" x2="561.06" y2="318.8" stroke="#000" stroke-width="2" />
<line x1="561.06" y1="41.5" x2="561.06" y2="44.5" stroke="#000" stroke-width="2" />
<line x1="592.72" y1="321.3" x2="592.72" y2="316.8" stroke="#000" stroke-width="2" />
<line x1="592.72" y1="41.5" x2="592.72" y2="44.5" stroke="#000" stroke-width="2" />
<text x="592.72" y="343" font-size="19.5" text-anchor="middle" fill="#000" >2</text>
<line x1="624.38" y1="321.3" x2="624.38" y2="318.8" stroke="#000" stroke-width="2" />
<line x1="624.38" y1="41.5" x2="624.38" y2="44.5" stroke="#000" stroke-width="2" />
<line x1="656.04" y1="321.3" x2="656.04" y2="316.8" stroke="#000" stroke-width="2" />
<line x1="656.04" y1="41.5" x2="656.04" y2="44.5" stroke="#000" stroke-width="2" />
<text x="656.04" y="343" font-size="19.5" text-anchor="middle" fill="#000" >4</text>
<line x1="687.7" y1="321.3" x2="687.7" y2="318.8" stroke="#000" stroke-width="2" />
<line x1="687.7" y1="41.5" x2="687.7" y2="44.5" stroke="#000" stroke-width="2" />
<line x1="719.36" y1="321.3" x2="719.36" y2="316.8" stroke="#000" stroke-width="2" />
<line x1="719.36" y1="41.5" x2="719.36" y2="44.5" stroke="#000" stroke-width="2" />
<text x="719.36" y="343" font-size="19.5" text-anchor="middle" fill="#000" >6</text>
<line x1="751.02" y1="321.3" x2="751.02" y2="318.8" stroke="#000" stroke-width="2" />
<line x1="751.02" y1="41.5" x2="751.02" y2="44.5" stroke="#000" stroke-width="2" />
<line x1="782.68" y1="321.3" x2="782.68" y2="316.8" stroke="#000" stroke-width="2" />
<line x1="782.68" y1="41.5" x2="782.68" y2="44.5" stroke="#000" stroke-width="2" />
<text x="782.68" y="343" font-size="19.5" text-anchor="middle" fill="#000" >8</text>
<line x1="814.34" y1="321.3" x2="814.34" y2="318.8" stroke="#000" stroke-width="2" />
<line x1="814.34" y1="41.5" x2="814.34" y2="44.5" stroke="#000" stroke-width="2" />
<line x1="846" y1="321.3" x2="846" y2="316.8" stroke="#000" stroke-width="2" />
<line x1="846" y1="41.5" x2="846" y2="44.5" stroke="#000" stroke-width="2" />
<text x="846" y="343" font-size="19.5" text-anchor="middle" fill="#000" >10</text>
<line x1="529.4" y1="301.7" x2="533.9" y2="301.7" stroke="#000" stroke-width="2" />
<text x="522" y="308.5" font-size="19.5" text-anchor="end" fill="#000" >0.0</text>
<line x1="529.4" y1="227.3" x2="533.9" y2="227.3" stroke="#000" stroke-width="2" />
<text x="522" y="234.1" font-size="19.5" text-anchor="end" fill="#000" >0.2</text>
<line x1="529.4" y1="152.9" x2="533.9" y2="152.9" stroke="#000" stroke-width="2" />
<text x="522" y="159.7" font-size="19.5" text-anchor="end" fill="#000" >0.4</text>
<line x1="529.4" y1="78.5" x2="533.9" y2="78.5" stroke="#000" stroke-width="2" />
<text x="522" y="85.3" font-size="19.5" text-anchor="end" fill="#000" >0.6</text>
<line x1="529.4" y1="264.5" x2="531.9" y2="264.5" stroke="#000" stroke-width="2" />
<line x1="529.4" y1="190.1" x2="531.9" y2="190.1" stroke="#000" stroke-width="2" />
<line x1="529.4" y1="115.7" x2="531.9" y2="115.7" stroke="#000" stroke-width="2" />
<line x1="877" y1="321" x2="872.5" y2="321" stroke="#000" stroke-width="2" />
<text x="883.5" y="327.8" font-size="19.5" text-anchor="start" fill="#000" >2.8</text>
<line x1="877" y1="246.6" x2="872.5" y2="246.6" stroke="#000" stroke-width="2" />
<text x="883.5" y="253.4" font-size="19.5" text-anchor="start" fill="#000" >3.0</text>
<line x1="877" y1="172.2" x2="872.5" y2="172.2" stroke="#000" stroke-width="2" />
<text x="883.5" y="179" font-size="19.5" text-anchor="start" fill="#000" >3.2</text>
<line x1="877" y1="97.8" x2="872.5" y2="97.8" stroke="#000" stroke-width="2" />
<text x="883.5" y="104.6" font-size="19.5" text-anchor="start" fill="#000" >3.4</text>
<line x1="877" y1="283.8" x2="874.5" y2="283.8" stroke="#000" stroke-width="2" />
<line x1="877" y1="209.4" x2="874.5" y2="209.4" stroke="#000" stroke-width="2" />
<line x1="877" y1="135" x2="874.5" y2="135" stroke="#000" stroke-width="2" />
<line x1="877" y1="60.6" x2="874.5" y2="60.6" stroke="#000" stroke-width="2" />
<line x1="937" y1="40.9" x2="937" y2="321.5" stroke="#FF0000" stroke-width="1.6" />
<line x1="931.5" y1="301.7" x2="937" y2="301.7" stroke="#FF0000" stroke-width="1.6" />
<text x="943" y="308.5" font-size="19.5" text-anchor="start" fill="#FF0000" >0</text>
<line x1="931.5" y1="249.58" x2="937" y2="249.58" stroke="#FF0000" stroke-width="1.6" />
<text x="943" y="256.38" font-size="19.5" text-anchor="start" fill="#FF0000" >4</text>
<line x1="931.5" y1="197.46" x2="937" y2="197.46" stroke="#FF0000" stroke-width="1.6" />
<text x="943" y="204.26" font-size="19.5" text-anchor="start" fill="#FF0000" >8</text>
<line x1="931.5" y1="145.34" x2="937" y2="145.34" stroke="#FF0000" stroke-width="1.6" />
<text x="943" y="152.14" font-size="19.5" text-anchor="start" fill="#FF0000" >12</text>
<line x1="931.5" y1="93.22" x2="937" y2="93.22" stroke="#FF0000" stroke-width="1.6" />
<text x="943" y="100.02" font-size="19.5" text-anchor="start" fill="#FF0000" >16</text>
<line x1="931.5" y1="41.1" x2="937" y2="41.1" stroke="#FF0000" stroke-width="1.6" />
<text x="943" y="47.9" font-size="19.5" text-anchor="start" fill="#FF0000" >20</text>
<line x1="934" y1="275.64" x2="937" y2="275.64" stroke="#FF0000" stroke-width="1.6" />
<line x1="934" y1="223.52" x2="937" y2="223.52" stroke="#FF0000" stroke-width="1.6" />
<line x1="934" y1="171.4" x2="937" y2="171.4" stroke="#FF0000" stroke-width="1.6" />
<line x1="934" y1="119.28" x2="937" y2="119.28" stroke="#FF0000" stroke-width="1.6" />
<line x1="934" y1="67.16" x2="937" y2="67.16" stroke="#FF0000" stroke-width="1.6" />
<text x="686.5" y="362.5" font-size="19.5"><tspan font-style="italic">T</tspan> (K)</text>
<text transform="translate(487,186) rotate(-90)" font-size="19.5" text-anchor="middle"><tspan font-style="italic">M</tspan><tspan font-size="13" dy="4">2y</tspan><tspan dy="-4"> (μ</tspan><tspan font-size="13" dy="4">B</tspan><tspan dy="-4">/Mn)</tspan></text>
<text transform="translate(925,170) rotate(-90)" font-size="19.5" text-anchor="middle"><tspan font-style="italic">M</tspan><tspan font-size="13" dy="4">2x</tspan><tspan dy="-4"> (μ</tspan><tspan font-size="13" dy="4">B</tspan><tspan dy="-4">/Mn)</tspan></text>
<text transform="translate(979,189.7) rotate(-90)" font-size="19.5" text-anchor="middle" fill="#FF0000"><tspan font-style="italic" font-family='"Liberation Serif", serif'>α</tspan> (degrees)</text>
<text x="652.5" y="123.5" font-size="19.5"><tspan font-style="italic">M</tspan><tspan font-size="13" dy="5">2x</tspan></text>
<text x="652" y="225.5" font-size="19.5"><tspan font-style="italic">M</tspan><tspan font-size="13" dy="5">2y</tspan></text>
<text x="601" y="281.5" font-size="19" fill="#FF0000" font-family='"Liberation Serif", serif' font-style="italic">α</text>
<path d="M544.1 439.6 L547.16 440.1 L551.4 440.78 L556.43 441.59 L561.81 442.47 L567.14 443.36 L572 444.2 L576.61 445.02 L581.33 445.86 L586 446.71 L590.45 447.56 L594.5 448.39 L598 449.2 L600.82 449.9 L603.09 450.47 L604.96 451.04 L606.6 451.69 L608.2 452.54 L609.9 453.7 L611.69 455.2 L613.43 456.98 L615.11 458.96 L616.74 461.05 L618.3 463.19 L619.8 465.3 L621.24 467.46 L622.61 469.74 L623.92 472.07 L625.18 474.37 L626.37 476.54 L627.5 478.5 L628.56 480.28 L629.53 481.96 L630.45 483.52 L631.32 484.94 L632.17 486.2 L633 487.3 L633.78 488.24 L634.5 489.05 L635.19 489.71 L635.89 490.19 L636.65 490.5 L637.5 490.6 L638.45 490.52 L639.47 490.27 L640.54 489.84 L641.66 489.21 L642.82 488.37 L644 487.3 L645.23 485.94 L646.51 484.29 L647.83 482.43 L649.16 480.42 L650.49 478.36 L651.8 476.3 L653.1 474.19 L654.41 471.95 L655.72 469.65 L657.02 467.35 L658.28 465.11 L659.5 463 L660.68 460.96 L661.82 458.92 L662.94 456.94 L664.02 455.09 L665.08 453.42 L666.1 452 L667.05 450.86 L667.91 449.96 L668.74 449.24 L669.59 448.64 L670.53 448.12 L671.6 447.6 L672.7 447.14 L673.76 446.8 L674.89 446.52 L676.23 446.27 L677.9 445.98 L680 445.6 L682.27 445.2 L684.56 444.83 L687.17 444.43 L690.41 443.93 L694.58 443.27 L700 442.4 L706.62 441.31 L714.18 440.06 L722.67 438.65 L732.1 437.1 L742.44 435.41 L753.7 433.6 L767.26 431.45 L783.4 428.92 L800.46 426.25 L816.77 423.7 L830.67 421.54 L840.5 420" stroke="#FF5C5C" stroke-width="4" fill="none" stroke-linejoin="round"/>
<line x1="544" y1="537.1" x2="838.5" y2="537.1" stroke="#5A5AF4" stroke-width="4" />
<line x1="544" y1="617.2" x2="838.5" y2="617.2" stroke="#A8A850" stroke-width="3.3" />
<line x1="548.2" y1="430.3" x2="548.2" y2="447.8" stroke="#FF0000" stroke-width="1.1" />
<line x1="545.2" y1="430.3" x2="551.2" y2="430.3" stroke="#FF0000" stroke-width="1.1" />
<line x1="545.2" y1="447.8" x2="551.2" y2="447.8" stroke="#FF0000" stroke-width="1.1" />
<circle cx="548.2" cy="438.9" r="2.7" fill="#fff" stroke="#FF0000" stroke-width="1.15"/>
<line x1="589.3" y1="436.5" x2="589.3" y2="462.1" stroke="#FF0000" stroke-width="1.1" />
<line x1="586.3" y1="436.5" x2="592.3" y2="436.5" stroke="#FF0000" stroke-width="1.1" />
<line x1="586.3" y1="462.1" x2="592.3" y2="462.1" stroke="#FF0000" stroke-width="1.1" />
<circle cx="589.3" cy="449.3" r="2.7" fill="#fff" stroke="#FF0000" stroke-width="1.15"/>
<line x1="609.85" y1="444.5" x2="609.85" y2="463.7" stroke="#FF0000" stroke-width="1.1" />
<line x1="606.85" y1="444.5" x2="612.85" y2="444.5" stroke="#FF0000" stroke-width="1.1" />
<line x1="606.85" y1="463.7" x2="612.85" y2="463.7" stroke="#FF0000" stroke-width="1.1" />
<circle cx="609.85" cy="454" r="2.7" fill="#fff" stroke="#FF0000" stroke-width="1.15"/>
<line x1="630.4" y1="470.6" x2="630.4" y2="494.8" stroke="#FF0000" stroke-width="1.1" />
<line x1="627.4" y1="470.6" x2="633.4" y2="470.6" stroke="#FF0000" stroke-width="1.1" />
<line x1="627.4" y1="494.8" x2="633.4" y2="494.8" stroke="#FF0000" stroke-width="1.1" />
<circle cx="630.4" cy="482.4" r="2.7" fill="#fff" stroke="#FF0000" stroke-width="1.15"/>
<line x1="638.62" y1="478.6" x2="638.62" y2="504" stroke="#FF0000" stroke-width="1.1" />
<line x1="635.62" y1="478.6" x2="641.62" y2="478.6" stroke="#FF0000" stroke-width="1.1" />
<line x1="635.62" y1="504" x2="641.62" y2="504" stroke="#FF0000" stroke-width="1.1" />
<circle cx="638.62" cy="491.7" r="2.7" fill="#fff" stroke="#FF0000" stroke-width="1.15"/>
<line x1="671.5" y1="429" x2="671.5" y2="453.8" stroke="#FF0000" stroke-width="1.1" />
<line x1="668.5" y1="429" x2="674.5" y2="429" stroke="#FF0000" stroke-width="1.1" />
<line x1="668.5" y1="453.8" x2="674.5" y2="453.8" stroke="#FF0000" stroke-width="1.1" />
<circle cx="671.5" cy="441.4" r="2.7" fill="#fff" stroke="#FF0000" stroke-width="1.15"/>
<line x1="753.7" y1="433.1" x2="753.7" y2="458.6" stroke="#FF0000" stroke-width="1.1" />
<line x1="750.7" y1="433.1" x2="756.7" y2="433.1" stroke="#FF0000" stroke-width="1.1" />
<line x1="750.7" y1="458.6" x2="756.7" y2="458.6" stroke="#FF0000" stroke-width="1.1" />
<circle cx="753.7" cy="446.2" r="2.7" fill="#fff" stroke="#FF0000" stroke-width="1.15"/>
<line x1="835.9" y1="410" x2="835.9" y2="433.1" stroke="#FF0000" stroke-width="1.1" />
<line x1="832.9" y1="410" x2="838.9" y2="410" stroke="#FF0000" stroke-width="1.1" />
<line x1="832.9" y1="433.1" x2="838.9" y2="433.1" stroke="#FF0000" stroke-width="1.1" />
<circle cx="835.9" cy="420.3" r="2.7" fill="#fff" stroke="#FF0000" stroke-width="1.15"/>
<line x1="548.2" y1="526.2" x2="548.2" y2="544.4" stroke="#0000FF" stroke-width="1.1" />
<line x1="545.2" y1="526.2" x2="551.2" y2="526.2" stroke="#0000FF" stroke-width="1.1" />
<line x1="545.2" y1="544.4" x2="551.2" y2="544.4" stroke="#0000FF" stroke-width="1.1" />
<circle cx="548.2" cy="535.1" r="2.7" fill="#fff" stroke="#0000FF" stroke-width="1.15"/>
<line x1="589.3" y1="533" x2="589.3" y2="558.4" stroke="#0000FF" stroke-width="1.1" />
<line x1="586.3" y1="533" x2="592.3" y2="533" stroke="#0000FF" stroke-width="1.1" />
<line x1="586.3" y1="558.4" x2="592.3" y2="558.4" stroke="#0000FF" stroke-width="1.1" />
<circle cx="589.3" cy="545.8" r="2.7" fill="#fff" stroke="#0000FF" stroke-width="1.15"/>
<line x1="609.85" y1="537.1" x2="609.85" y2="557.2" stroke="#0000FF" stroke-width="1.1" />
<line x1="606.85" y1="537.1" x2="612.85" y2="537.1" stroke="#0000FF" stroke-width="1.1" />
<line x1="606.85" y1="557.2" x2="612.85" y2="557.2" stroke="#0000FF" stroke-width="1.1" />
<circle cx="609.85" cy="547.1" r="2.7" fill="#fff" stroke="#0000FF" stroke-width="1.15"/>
<line x1="630.4" y1="535.5" x2="630.4" y2="560.5" stroke="#0000FF" stroke-width="1.1" />
<line x1="627.4" y1="535.5" x2="633.4" y2="535.5" stroke="#0000FF" stroke-width="1.1" />
<line x1="627.4" y1="560.5" x2="633.4" y2="560.5" stroke="#0000FF" stroke-width="1.1" />
<circle cx="630.4" cy="548.1" r="2.7" fill="#fff" stroke="#0000FF" stroke-width="1.15"/>
<line x1="638.62" y1="533" x2="638.62" y2="558.4" stroke="#0000FF" stroke-width="1.1" />
<line x1="635.62" y1="533" x2="641.62" y2="533" stroke="#0000FF" stroke-width="1.1" />
<line x1="635.62" y1="558.4" x2="641.62" y2="558.4" stroke="#0000FF" stroke-width="1.1" />
<circle cx="638.62" cy="545.8" r="2.7" fill="#fff" stroke="#0000FF" stroke-width="1.15"/>
<line x1="671.5" y1="511.3" x2="671.5" y2="537.1" stroke="#0000FF" stroke-width="1.1" />
<line x1="668.5" y1="511.3" x2="674.5" y2="511.3" stroke="#0000FF" stroke-width="1.1" />
<line x1="668.5" y1="537.1" x2="674.5" y2="537.1" stroke="#0000FF" stroke-width="1.1" />
<circle cx="671.5" cy="523.7" r="2.7" fill="#fff" stroke="#0000FF" stroke-width="1.15"/>
<line x1="753.7" y1="527.8" x2="753.7" y2="554.2" stroke="#0000FF" stroke-width="1.1" />
<line x1="750.7" y1="527.8" x2="756.7" y2="527.8" stroke="#0000FF" stroke-width="1.1" />
<line x1="750.7" y1="554.2" x2="756.7" y2="554.2" stroke="#0000FF" stroke-width="1.1" />
<circle cx="753.7" cy="540.8" r="2.7" fill="#fff" stroke="#0000FF" stroke-width="1.15"/>
<line x1="835.9" y1="529.9" x2="835.9" y2="556.7" stroke="#0000FF" stroke-width="1.1" />
<line x1="832.9" y1="529.9" x2="838.9" y2="529.9" stroke="#0000FF" stroke-width="1.1" />
<line x1="832.9" y1="556.7" x2="838.9" y2="556.7" stroke="#0000FF" stroke-width="1.1" />
<circle cx="835.9" cy="543.7" r="2.7" fill="#fff" stroke="#0000FF" stroke-width="1.15"/>
<line x1="548.2" y1="615.5" x2="548.2" y2="620.3" stroke="#808000" stroke-width="1.1" />
<line x1="545.2" y1="615.5" x2="551.2" y2="615.5" stroke="#808000" stroke-width="1.1" />
<line x1="545.2" y1="620.3" x2="551.2" y2="620.3" stroke="#808000" stroke-width="1.1" />
<circle cx="548.2" cy="617.9" r="2.7" fill="#fff" stroke="#808000" stroke-width="1.15"/>
<line x1="589.3" y1="613.6" x2="589.3" y2="623.4" stroke="#808000" stroke-width="1.1" />
<line x1="586.3" y1="613.6" x2="592.3" y2="613.6" stroke="#808000" stroke-width="1.1" />
<line x1="586.3" y1="623.4" x2="592.3" y2="623.4" stroke="#808000" stroke-width="1.1" />
<circle cx="589.3" cy="618.4" r="2.7" fill="#fff" stroke="#808000" stroke-width="1.15"/>
<line x1="609.85" y1="618.8" x2="609.85" y2="626.4" stroke="#808000" stroke-width="1.1" />
<line x1="606.85" y1="618.8" x2="612.85" y2="618.8" stroke="#808000" stroke-width="1.1" />
<line x1="606.85" y1="626.4" x2="612.85" y2="626.4" stroke="#808000" stroke-width="1.1" />
<circle cx="609.85" cy="622.5" r="2.7" fill="#fff" stroke="#808000" stroke-width="1.15"/>
<line x1="630.4" y1="603.4" x2="630.4" y2="613.1" stroke="#808000" stroke-width="1.1" />
<line x1="627.4" y1="603.4" x2="633.4" y2="603.4" stroke="#808000" stroke-width="1.1" />
<line x1="627.4" y1="613.1" x2="633.4" y2="613.1" stroke="#808000" stroke-width="1.1" />
<circle cx="630.4" cy="608.2" r="2.7" fill="#fff" stroke="#808000" stroke-width="1.15"/>
<line x1="638.62" y1="613.1" x2="638.62" y2="623.4" stroke="#808000" stroke-width="1.1" />
<line x1="635.62" y1="613.1" x2="641.62" y2="613.1" stroke="#808000" stroke-width="1.1" />
<line x1="635.62" y1="623.4" x2="641.62" y2="623.4" stroke="#808000" stroke-width="1.1" />
<circle cx="638.62" cy="617.9" r="2.7" fill="#fff" stroke="#808000" stroke-width="1.15"/>
<line x1="671.5" y1="608.5" x2="671.5" y2="617.4" stroke="#808000" stroke-width="1.1" />
<line x1="668.5" y1="608.5" x2="674.5" y2="608.5" stroke="#808000" stroke-width="1.1" />
<line x1="668.5" y1="617.4" x2="674.5" y2="617.4" stroke="#808000" stroke-width="1.1" />
<circle cx="671.5" cy="612.8" r="2.7" fill="#fff" stroke="#808000" stroke-width="1.15"/>
<line x1="753.7" y1="615.3" x2="753.7" y2="624" stroke="#808000" stroke-width="1.1" />
<line x1="750.7" y1="615.3" x2="756.7" y2="615.3" stroke="#808000" stroke-width="1.1" />
<line x1="750.7" y1="624" x2="756.7" y2="624" stroke="#808000" stroke-width="1.1" />
<circle cx="753.7" cy="619.6" r="2.7" fill="#fff" stroke="#808000" stroke-width="1.15"/>
<line x1="835.9" y1="613.5" x2="835.9" y2="621.5" stroke="#808000" stroke-width="1.1" />
<line x1="832.9" y1="613.5" x2="838.9" y2="613.5" stroke="#808000" stroke-width="1.1" />
<line x1="832.9" y1="621.5" x2="838.9" y2="621.5" stroke="#808000" stroke-width="1.1" />
<circle cx="835.9" cy="617.1" r="2.7" fill="#fff" stroke="#808000" stroke-width="1.15"/>
<rect x="528" y="391" width="349.2" height="278" fill="none" stroke="#000" stroke-width="2"/>
<line x1="548.2" y1="669" x2="548.2" y2="664.5" stroke="#000" stroke-width="2" />
<line x1="548.2" y1="391" x2="548.2" y2="395.5" stroke="#000" stroke-width="2" />
<text x="548.2" y="690.8" font-size="19.5" text-anchor="middle" fill="#000" >0</text>
<line x1="630.4" y1="669" x2="630.4" y2="664.5" stroke="#000" stroke-width="2" />
<line x1="630.4" y1="391" x2="630.4" y2="395.5" stroke="#000" stroke-width="2" />
<text x="630.4" y="690.8" font-size="19.5" text-anchor="middle" fill="#000" >20</text>
<line x1="712.6" y1="669" x2="712.6" y2="664.5" stroke="#000" stroke-width="2" />
<line x1="712.6" y1="391" x2="712.6" y2="395.5" stroke="#000" stroke-width="2" />
<text x="712.6" y="690.8" font-size="19.5" text-anchor="middle" fill="#000" >40</text>
<line x1="794.8" y1="669" x2="794.8" y2="664.5" stroke="#000" stroke-width="2" />
<line x1="794.8" y1="391" x2="794.8" y2="395.5" stroke="#000" stroke-width="2" />
<text x="794.8" y="690.8" font-size="19.5" text-anchor="middle" fill="#000" >60</text>
<line x1="877" y1="669" x2="877" y2="664.5" stroke="#000" stroke-width="2" />
<line x1="877" y1="391" x2="877" y2="395.5" stroke="#000" stroke-width="2" />
<text x="877" y="690.8" font-size="19.5" text-anchor="middle" fill="#000" >80</text>
<line x1="589.3" y1="669" x2="589.3" y2="666.5" stroke="#000" stroke-width="2" />
<line x1="589.3" y1="391" x2="589.3" y2="393.5" stroke="#000" stroke-width="2" />
<line x1="671.5" y1="669" x2="671.5" y2="666.5" stroke="#000" stroke-width="2" />
<line x1="671.5" y1="391" x2="671.5" y2="393.5" stroke="#000" stroke-width="2" />
<line x1="753.7" y1="669" x2="753.7" y2="666.5" stroke="#000" stroke-width="2" />
<line x1="753.7" y1="391" x2="753.7" y2="393.5" stroke="#000" stroke-width="2" />
<line x1="835.9" y1="669" x2="835.9" y2="666.5" stroke="#000" stroke-width="2" />
<line x1="835.9" y1="391" x2="835.9" y2="393.5" stroke="#000" stroke-width="2" />
<line x1="528" y1="634.2" x2="532.5" y2="634.2" stroke="#000" stroke-width="2" />
<line x1="877.2" y1="634.2" x2="872.7" y2="634.2" stroke="#000" stroke-width="2" />
<text x="521" y="641" font-size="19.5" text-anchor="end" fill="#000" >4.20</text>
<line x1="528" y1="564.6" x2="532.5" y2="564.6" stroke="#000" stroke-width="2" />
<line x1="877.2" y1="564.6" x2="872.7" y2="564.6" stroke="#000" stroke-width="2" />
<text x="521" y="571.4" font-size="19.5" text-anchor="end" fill="#000" >4.25</text>
<line x1="528" y1="495" x2="532.5" y2="495" stroke="#000" stroke-width="2" />
<line x1="877.2" y1="495" x2="872.7" y2="495" stroke="#000" stroke-width="2" />
<text x="521" y="501.8" font-size="19.5" text-anchor="end" fill="#000" >4.30</text>
<line x1="528" y1="425.4" x2="532.5" y2="425.4" stroke="#000" stroke-width="2" />
<line x1="877.2" y1="425.4" x2="872.7" y2="425.4" stroke="#000" stroke-width="2" />
<text x="521" y="432.2" font-size="19.5" text-anchor="end" fill="#000" >4.35</text>
<line x1="528" y1="599.4" x2="530.5" y2="599.4" stroke="#000" stroke-width="2" />
<line x1="877.2" y1="599.4" x2="874.7" y2="599.4" stroke="#000" stroke-width="2" />
<line x1="528" y1="529.8" x2="530.5" y2="529.8" stroke="#000" stroke-width="2" />
<line x1="877.2" y1="529.8" x2="874.7" y2="529.8" stroke="#000" stroke-width="2" />
<line x1="528" y1="460.2" x2="530.5" y2="460.2" stroke="#000" stroke-width="2" />
<line x1="877.2" y1="460.2" x2="874.7" y2="460.2" stroke="#000" stroke-width="2" />
<text x="559" y="419.5" font-size="19.5"><tspan font-style="italic">T</tspan> = 3 K</text>
<text x="663" y="709" font-size="19.5"><tspan font-family='"Liberation Serif", serif'>μ</tspan><tspan font-family='"Liberation Serif", serif' font-size="13" dy="4">0</tspan><tspan font-family='"Liberation Serif", serif' font-style="italic" dy="-4">H</tspan> (mT)</text>
<text transform="translate(477,533.5) rotate(-90)" font-size="20.3" text-anchor="middle">Integrated intensity (arb. units)</text>
<text x="790.5" y="448.2" font-size="19.5" fill="#FF0000">P<tspan font-size="13" dx="0.5" dy="6">4</tspan></text>
<text x="791" y="523.7" font-size="19.5" fill="#0000FF">P<tspan font-size="13" dx="0.5" dy="6">3</tspan></text>
<text x="791" y="608" font-size="19.5" fill="#808000">P<tspan font-size="13" dx="0.5" dy="6">2</tspan></text>
</svg></body></html>
